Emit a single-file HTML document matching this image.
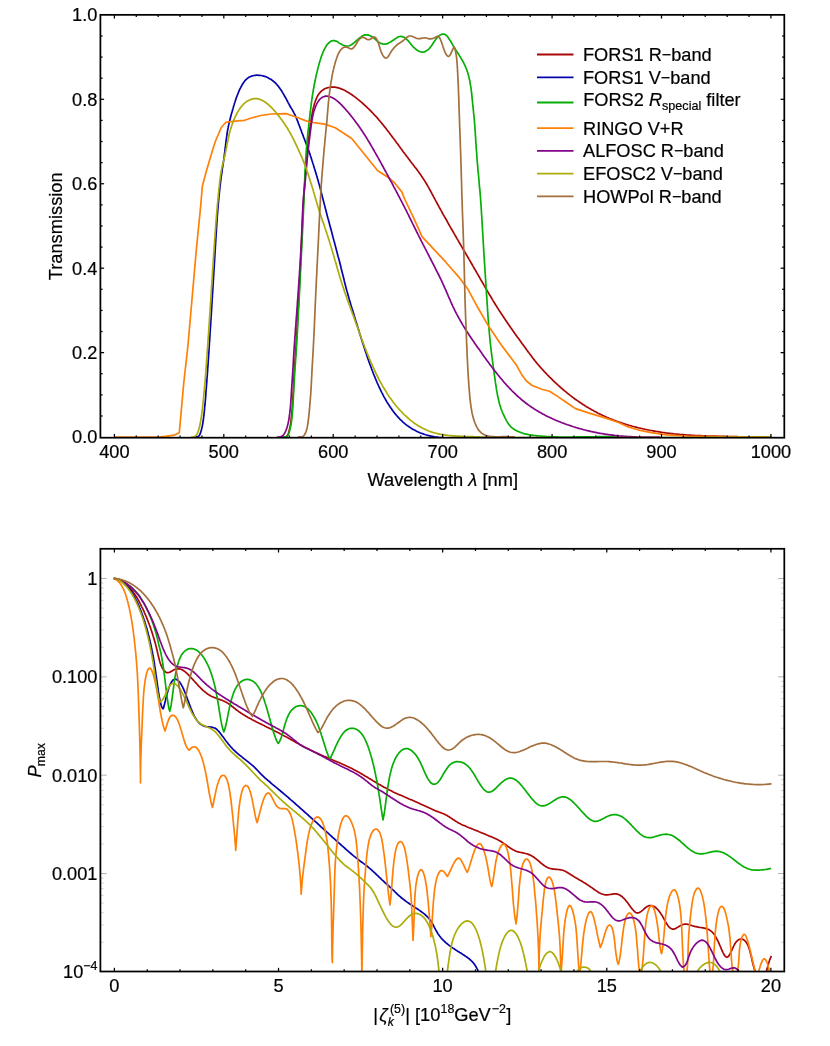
<!DOCTYPE html>
<html><head><meta charset="utf-8"><title>Filter transmission and maximum polarization</title>
<style>html,body{margin:0;padding:0;background:#fff}svg{display:block}text{font-family:"Liberation Sans",sans-serif;fill:#000;stroke:#000;stroke-width:0.2px}svg{will-change:transform}.tk{font-size:18.2px}.lb{font-size:18.3px}.lg{font-size:18.2px}.c{fill:none;stroke-width:1.7;stroke-linejoin:round;stroke-linecap:butt}</style></head><body>
<svg width="830" height="1046" viewBox="0 0 830 1046">
<rect width="830" height="1046" fill="#fff"/>
<defs><clipPath id="ct"><rect x="100.4" y="14.8" width="683.9" height="422.8"/></clipPath>
<clipPath id="cb"><rect x="100.4" y="548.8" width="683.9" height="422.7"/></clipPath></defs>
<g clip-path="url(#ct)">
<path class="c" stroke="#AA0606" d="M282.5 437.1L283.7 436.9 284.9 436.9 286.1 436.6 287.0 435.9 287.7 434.9 288.2 433.8 288.6 432.7 288.9 431.5 289.3 430.4 289.5 429.2 289.8 428.0 290.0 426.9 290.3 425.7 290.5 424.5 290.7 423.3 290.8 422.1 291.0 420.9 291.1 419.7 291.3 418.5 291.4 417.4 291.5 416.2 291.7 415.0 291.8 413.8 291.9 412.6 292.0 411.4 292.1 410.2 292.2 409.0 292.3 407.8 292.4 406.6 292.4 405.4 292.5 404.2 292.6 403.0 292.7 401.8 292.7 400.6 292.8 399.4 292.9 398.2 292.9 397.0 293.0 395.8 293.1 394.6 293.1 393.4 293.2 392.2 293.3 391.0 293.3 389.8 293.4 388.6 293.4 387.4 293.5 386.2 293.6 385.0 293.6 383.8 293.7 382.6 293.7 381.4 293.8 380.2 293.9 379.0 293.9 377.8 294.0 376.6 294.1 375.4 294.1 374.2 294.2 373.0 294.3 371.8 294.3 370.6 294.4 369.4 294.5 368.2 294.6 367.0 294.7 365.8 294.7 364.6 294.8 363.4 294.9 362.2 295.0 361.0 295.1 359.8 295.2 358.6 295.3 357.4 295.4 356.2 295.4 355.0 295.5 353.8 295.6 352.6 295.7 351.4 295.8 350.2 295.9 349.0 295.9 347.8 296.0 346.6 296.1 345.4 296.2 344.2 296.2 343.0 296.3 341.8 296.4 340.6 296.5 339.4 296.5 338.2 296.6 337.0 296.7 335.8 296.8 334.6 296.8 333.4 296.9 332.2 297.0 331.0 297.0 329.8 297.1 328.6 297.2 327.4 297.2 326.2 297.3 325.0 297.4 323.8 297.4 322.6 297.5 321.4 297.6 320.2 297.6 319.0 297.7 317.8 297.8 316.6 297.8 315.4 297.9 314.2 298.0 313.0 298.0 311.8 298.1 310.6 298.2 309.4 298.2 308.2 298.3 307.0 298.4 305.8 298.4 304.6 298.5 303.4 298.6 302.2 298.6 301.0 298.7 299.8 298.7 298.6 298.8 297.4 298.9 296.2 298.9 295.0 299.0 293.8 299.1 292.6 299.1 291.4 299.2 290.2 299.2 289.0 299.3 287.8 299.4 286.6 299.4 285.4 299.5 284.2 299.6 283.0 299.6 281.8 299.7 280.6 299.7 279.4 299.8 278.2 299.9 277.0 299.9 275.8 300.0 274.6 300.0 273.4 300.1 272.2 300.2 271.0 300.2 269.8 300.3 268.6 300.3 267.4 300.4 266.2 300.5 265.0 300.5 263.8 300.6 262.6 300.6 261.4 300.7 260.2 300.8 259.0 300.8 257.8 300.9 256.6 300.9 255.4 301.0 254.2 301.0 253.0 301.1 251.8 301.2 250.6 301.2 249.4 301.3 248.2 301.3 247.0 301.4 245.8 301.4 244.6 301.5 243.4 301.6 242.2 301.6 241.0 301.7 239.8 301.7 238.6 301.8 237.4 301.8 236.2 301.9 235.0 301.9 233.8 302.0 232.6 302.1 231.4 302.1 230.2 302.2 229.0 302.2 227.8 302.3 226.6 302.3 225.4 302.4 224.2 302.4 223.0 302.5 221.8 302.6 220.6 302.6 219.4 302.7 218.2 302.7 217.0 302.8 215.8 302.8 214.6 302.9 213.4 303.0 212.2 303.0 211.0 303.1 209.8 303.2 208.6 303.2 207.4 303.3 206.2 303.3 205.0 303.4 203.8 303.5 202.6 303.6 201.4 303.6 200.2 303.7 199.0 303.8 197.8 303.8 196.6 303.9 195.4 304.0 194.2 304.1 193.0 304.1 191.8 304.2 190.6 304.3 189.4 304.4 188.2 304.5 187.0 304.5 185.8 304.6 184.6 304.7 183.4 304.8 182.2 304.9 181.0 305.0 179.8 305.1 178.6 305.1 177.4 305.2 176.2 305.3 175.0 305.4 173.8 305.5 172.6 305.6 171.4 305.7 170.3 305.8 169.1 305.9 167.9 306.0 166.7 306.1 165.5 306.2 164.3 306.3 163.1 306.4 161.9 306.5 160.7 306.6 159.5 306.7 158.3 306.8 157.1 306.9 155.9 307.0 154.7 307.1 153.5 307.2 152.3 307.3 151.1 307.5 149.9 307.6 148.7 307.7 147.5 307.8 146.3 307.9 145.1 308.1 143.9 308.2 142.7 308.3 141.5 308.4 140.3 308.6 139.1 308.7 137.9 308.8 136.8 309.0 135.6 309.1 134.4 309.3 133.2 309.4 132.0 309.6 130.8 309.7 129.6 309.9 128.4 310.1 127.2 310.2 126.0 310.4 124.8 310.6 123.7 310.8 122.5 310.9 121.3 311.1 120.1 311.3 118.9 311.5 117.7 311.7 116.5 311.9 115.3 312.1 114.2 312.3 113.0 312.6 111.8 312.8 110.6 313.0 109.4 313.3 108.3 313.6 107.1 313.9 105.9 314.2 104.8 314.5 103.6 314.9 102.5 315.3 101.3 315.7 100.2 316.1 99.1 316.6 98.0 317.1 96.9 317.7 95.8 318.3 94.8 319.0 93.8 319.7 92.9 320.5 92.0 321.4 91.2 322.3 90.4 323.3 89.7 324.3 89.1 325.4 88.6 326.5 88.1 327.7 87.8 328.8 87.5 330.0 87.3 331.2 87.1 332.4 87.1 333.6 87.1 334.8 87.2 336.0 87.4 337.2 87.6 338.4 87.9 339.5 88.2 340.6 88.6 341.8 89.1 342.9 89.5 344.0 90.1 345.0 90.6 346.1 91.2 347.1 91.8 348.2 92.4 349.2 93.0 350.2 93.7 351.2 94.3 352.2 95.0 353.2 95.7 354.1 96.4 355.1 97.1 356.1 97.8 357.0 98.6 357.9 99.3 358.9 100.1 359.8 100.8 360.7 101.6 361.6 102.4 362.5 103.2 363.4 104.0 364.3 104.8 365.2 105.6 366.1 106.4 367.0 107.3 367.8 108.1 368.7 108.9 369.6 109.8 370.4 110.6 371.2 111.5 372.1 112.3 372.9 113.2 373.7 114.1 374.5 115.0 375.4 115.9 376.2 116.7 377.0 117.6 377.8 118.5 378.5 119.5 379.3 120.4 380.1 121.3 380.9 122.2 381.6 123.1 382.4 124.1 383.2 125.0 383.9 125.9 384.7 126.9 385.4 127.8 386.2 128.8 386.9 129.7 387.6 130.7 388.4 131.6 389.1 132.6 389.8 133.5 390.5 134.5 391.3 135.4 392.0 136.4 392.7 137.4 393.4 138.3 394.1 139.3 394.9 140.3 395.6 141.2 396.3 142.2 397.0 143.2 397.7 144.1 398.4 145.1 399.1 146.1 399.8 147.0 400.5 148.0 401.3 149.0 402.0 149.9 402.7 150.9 403.4 151.9 404.1 152.8 404.8 153.8 405.6 154.8 406.3 155.7 407.0 156.7 407.7 157.6 408.4 158.6 409.2 159.5 409.9 160.5 410.6 161.5 411.4 162.4 412.1 163.4 412.8 164.3 413.6 165.3 414.3 166.2 415.0 167.2 415.8 168.1 416.5 169.1 417.2 170.0 417.9 171.0 418.7 172.0 419.4 172.9 420.1 173.9 420.8 174.9 421.4 175.9 422.1 176.9 422.8 177.9 423.4 178.9 424.1 179.9 424.7 180.9 425.4 181.9 426.0 183.0 426.6 184.0 427.2 185.0 427.8 186.1 428.4 187.1 429.0 188.2 429.5 189.2 430.1 190.3 430.7 191.3 431.3 192.4 431.8 193.4 432.4 194.5 433.0 195.6 433.5 196.6 434.1 197.7 434.7 198.7 435.2 199.8 435.8 200.9 436.4 201.9 436.9 203.0 437.5 204.0 438.1 205.1 438.7 206.2 439.2 207.2 439.8 208.3 440.4 209.3 441.0 210.4 441.6 211.4 442.1 212.5 442.7 213.5 443.3 214.6 443.9 215.6 444.5 216.7 445.1 217.7 445.7 218.8 446.3 219.8 446.9 220.8 447.4 221.9 448.0 222.9 448.6 224.0 449.2 225.0 449.8 226.1 450.4 227.1 451.0 228.2 451.6 229.2 452.2 230.2 452.8 231.3 453.4 232.3 454.0 233.4 454.6 234.4 455.2 235.4 455.8 236.5 456.4 237.5 457.0 238.6 457.6 239.6 458.2 240.6 458.8 241.7 459.4 242.7 460.0 243.8 460.6 244.8 461.2 245.8 461.8 246.9 462.4 247.9 463.0 249.0 463.6 250.0 464.2 251.0 464.9 252.1 465.5 253.1 466.1 254.2 466.7 255.2 467.3 256.2 467.9 257.3 468.5 258.3 469.1 259.4 469.7 260.4 470.3 261.4 470.9 262.5 471.5 263.5 472.1 264.5 472.7 265.6 473.3 266.6 473.9 267.7 474.5 268.7 475.1 269.7 475.7 270.8 476.3 271.8 476.9 272.9 477.5 273.9 478.1 274.9 478.7 276.0 479.3 277.0 479.9 278.1 480.5 279.1 481.1 280.2 481.7 281.2 482.3 282.2 482.9 283.3 483.5 284.3 484.1 285.4 484.7 286.4 485.3 287.4 485.9 288.5 486.5 289.5 487.1 290.6 487.7 291.6 488.3 292.6 488.9 293.7 489.5 294.7 490.2 295.7 490.8 296.8 491.4 297.8 492.0 298.8 492.6 299.9 493.2 300.9 493.9 301.9 494.5 303.0 495.1 304.0 495.7 305.0 496.4 306.0 497.0 307.0 497.7 308.1 498.3 309.1 498.9 310.1 499.6 311.1 500.2 312.1 500.9 313.1 501.5 314.1 502.2 315.1 502.9 316.1 503.5 317.1 504.2 318.1 504.9 319.1 505.5 320.1 506.2 321.1 506.9 322.1 507.5 323.1 508.2 324.1 508.9 325.1 509.6 326.1 510.3 327.1 511.0 328.1 511.7 329.0 512.4 330.0 513.1 331.0 513.8 332.0 514.5 333.0 515.2 333.9 515.9 334.9 516.6 335.9 517.3 336.9 518.0 337.8 518.7 338.8 519.4 339.8 520.1 340.7 520.8 341.7 521.5 342.7 522.2 343.7 522.9 344.6 523.6 345.6 524.3 346.6 525.1 347.5 525.8 348.5 526.5 349.5 527.2 350.4 527.9 351.4 528.6 352.4 529.3 353.3 530.0 354.3 530.8 355.3 531.5 356.2 532.2 357.2 532.9 358.2 533.6 359.1 534.4 360.1 535.1 361.0 535.9 361.9 536.6 362.9 537.4 363.8 538.2 364.7 539.0 365.6 539.8 366.5 540.5 367.4 541.4 368.3 542.2 369.2 543.0 370.1 543.8 371.0 544.6 371.9 545.4 372.7 546.3 373.6 547.1 374.5 547.9 375.3 548.8 376.2 549.6 377.1 550.5 377.9 551.3 378.7 552.2 379.6 553.0 380.4 553.9 381.3 554.8 382.1 555.6 382.9 556.5 383.7 557.4 384.5 558.3 385.4 559.2 386.2 560.1 387.0 561.0 387.8 561.9 388.5 562.8 389.3 563.7 390.1 564.6 390.9 565.6 391.7 566.5 392.4 567.4 393.2 568.4 393.9 569.3 394.7 570.2 395.4 571.2 396.1 572.1 396.9 573.1 397.6 574.1 398.3 575.0 399.0 576.0 399.7 577.0 400.4 578.0 401.1 579.0 401.8 580.0 402.5 581.0 403.1 582.0 403.8 583.0 404.5 584.0 405.1 585.0 405.7 586.0 406.4 587.0 407.0 588.1 407.6 589.1 408.2 590.2 408.8 591.2 409.4 592.2 410.0 593.3 410.6 594.3 411.2 595.4 411.7 596.5 412.3 597.5 412.9 598.6 413.4 599.7 413.9 600.8 414.5 601.9 415.0 602.9 415.5 604.0 416.0 605.1 416.5 606.2 417.0 607.3 417.5 608.4 417.9 609.5 418.4 610.6 418.9 611.8 419.3 612.9 419.8 614.0 420.2 615.1 420.6 616.2 421.0 617.4 421.4 618.5 421.9 619.6 422.2 620.8 422.6 621.9 423.0 623.1 423.4 624.2 423.8 625.3 424.1 626.5 424.5 627.6 424.8 628.8 425.2 629.9 425.5 631.1 425.8 632.3 426.2 633.4 426.5 634.6 426.8 635.7 427.1 636.9 427.4 638.1 427.7 639.2 428.0 640.4 428.2 641.6 428.5 642.8 428.8 643.9 429.0 645.1 429.3 646.3 429.5 647.5 429.8 648.6 430.0 649.8 430.3 651.0 430.5 652.2 430.7 653.4 430.9 654.5 431.1 655.7 431.3 656.9 431.5 658.1 431.7 659.3 431.9 660.5 432.1 661.7 432.3 662.8 432.5 664.0 432.6 665.2 432.8 666.4 433.0 667.6 433.1 668.8 433.3 670.0 433.4 671.2 433.6 672.4 433.7 673.6 433.8 674.8 434.0 676.0 434.1 677.2 434.2 678.4 434.3 679.5 434.4 680.7 434.5 681.9 434.6 683.1 434.7 684.3 434.8 685.5 434.9 686.7 435.0 687.9 435.1 689.1 435.1 690.3 435.2 691.5 435.3 692.7 435.4 693.9 435.4 695.1 435.5 696.3 435.5 697.5 435.6 698.7 435.6 699.9 435.7 701.1 435.7 702.3 435.8 703.5 435.8 704.7 435.9 705.9 435.9 707.1 436.0 708.3 436.0 709.5 436.0 710.7 436.1 711.9 436.1 713.1 436.1 714.3 436.2 715.5 436.2 716.7 436.2 717.9 436.3 719.1 436.3 720.3 436.3 721.6 436.4 722.8 436.4 724.0 436.4 725.2 436.4 726.4 436.5 727.6 436.5 728.8 436.5 730.0 436.6 731.2 436.6 732.4 436.6 733.6 436.6 734.8 436.7 736.0 436.7 737.2 436.7 738.4 436.8 739.6 436.8 740.8 436.8 742.0 436.9 743.2 436.9 744.4 436.9 745.6 436.9 746.8 437.0 748.0 437.0 749.2 437.0 750.4 437.1 751.6 437.1 752.8 437.1 754.0 437.1 755.2 437.2 756.4 437.2 757.6 437.2 758.8 437.2 760.0 437.3 761.2 437.3 762.4 437.3 763.6 437.3 764.8 437.3 766.0 437.3 767.2 437.3 768.4 437.3 769.6 437.3 770.8 437.2 772.0 437.1"/>
<path class="c" stroke="#0404AC" d="M194.0 437.1L195.2 437.0 196.4 436.9 197.6 436.8 198.6 436.2 199.4 435.3 200.0 434.3 200.4 433.1 200.8 432.0 201.1 430.8 201.5 429.7 201.7 428.5 202.0 427.3 202.3 426.2 202.5 425.0 202.7 423.8 202.9 422.6 203.1 421.4 203.3 420.2 203.4 419.0 203.6 417.9 203.7 416.7 203.9 415.5 204.0 414.3 204.1 413.1 204.3 411.9 204.4 410.7 204.5 409.5 204.6 408.3 204.7 407.1 204.8 405.9 205.0 404.7 205.1 403.5 205.2 402.3 205.3 401.1 205.4 399.9 205.5 398.7 205.6 397.5 205.7 396.3 205.8 395.1 205.8 393.9 205.9 392.7 206.0 391.5 206.1 390.3 206.2 389.1 206.3 387.9 206.4 386.7 206.5 385.5 206.6 384.3 206.7 383.1 206.8 381.9 206.9 380.7 206.9 379.5 207.0 378.3 207.1 377.1 207.2 375.9 207.3 374.7 207.4 373.5 207.5 372.3 207.6 371.1 207.6 369.9 207.7 368.7 207.8 367.5 207.9 366.3 208.0 365.1 208.1 363.9 208.1 362.7 208.2 361.5 208.3 360.3 208.4 359.1 208.5 357.9 208.6 356.7 208.6 355.5 208.7 354.3 208.8 353.1 208.9 351.9 209.0 350.7 209.0 349.5 209.1 348.3 209.2 347.1 209.3 345.9 209.3 344.7 209.4 343.5 209.5 342.3 209.6 341.1 209.7 339.9 209.7 338.7 209.8 337.5 209.9 336.3 210.0 335.1 210.0 333.9 210.1 332.7 210.2 331.5 210.3 330.3 210.3 329.1 210.4 327.9 210.5 326.7 210.6 325.5 210.7 324.3 210.7 323.1 210.8 321.9 210.9 320.7 211.0 319.5 211.0 318.3 211.1 317.1 211.2 315.9 211.3 314.7 211.3 313.5 211.4 312.3 211.5 311.1 211.6 309.9 211.6 308.7 211.7 307.5 211.8 306.3 211.8 305.1 211.9 303.9 212.0 302.7 212.1 301.5 212.1 300.3 212.2 299.1 212.3 297.9 212.4 296.7 212.4 295.5 212.5 294.3 212.6 293.1 212.7 291.9 212.7 290.7 212.8 289.5 212.9 288.3 213.0 287.1 213.0 285.9 213.1 284.7 213.2 283.5 213.2 282.3 213.3 281.1 213.4 279.9 213.5 278.7 213.5 277.5 213.6 276.3 213.7 275.1 213.8 273.9 213.8 272.7 213.9 271.5 214.0 270.3 214.1 269.1 214.1 267.9 214.2 266.7 214.3 265.5 214.3 264.3 214.4 263.1 214.5 261.9 214.6 260.7 214.6 259.5 214.7 258.3 214.8 257.1 214.8 255.9 214.9 254.7 215.0 253.5 215.1 252.3 215.1 251.1 215.2 249.9 215.3 248.7 215.3 247.5 215.4 246.3 215.5 245.1 215.6 243.9 215.6 242.7 215.7 241.5 215.8 240.3 215.8 239.1 215.9 237.9 216.0 236.7 216.1 235.5 216.1 234.3 216.2 233.1 216.3 231.9 216.4 230.7 216.4 229.5 216.5 228.3 216.6 227.1 216.7 225.9 216.7 224.7 216.8 223.5 216.9 222.3 217.0 221.1 217.1 219.9 217.1 218.7 217.2 217.5 217.3 216.3 217.4 215.1 217.5 213.9 217.6 212.7 217.7 211.5 217.8 210.3 217.9 209.1 218.0 207.9 218.1 206.7 218.2 205.5 218.3 204.3 218.4 203.2 218.5 202.0 218.6 200.8 218.7 199.6 218.8 198.4 218.9 197.2 219.0 196.0 219.2 194.8 219.3 193.6 219.4 192.4 219.5 191.2 219.7 190.0 219.8 188.8 219.9 187.6 220.1 186.4 220.2 185.2 220.3 184.0 220.5 182.8 220.6 181.6 220.8 180.4 220.9 179.2 221.1 178.0 221.2 176.9 221.4 175.7 221.6 174.5 221.7 173.3 221.9 172.1 222.1 170.9 222.2 169.7 222.4 168.5 222.6 167.3 222.8 166.1 223.0 165.0 223.2 163.8 223.3 162.6 223.5 161.4 223.7 160.2 223.9 159.0 224.0 157.8 224.2 156.6 224.3 155.4 224.5 154.2 224.6 153.0 224.8 151.9 224.9 150.7 225.0 149.5 225.2 148.3 225.3 147.1 225.5 145.9 225.6 144.7 225.8 143.5 225.9 142.3 226.1 141.1 226.2 139.9 226.4 138.7 226.6 137.5 226.7 136.3 226.9 135.2 227.1 134.0 227.2 132.8 227.4 131.6 227.6 130.4 227.8 129.2 228.1 128.0 228.3 126.9 228.5 125.7 228.8 124.5 229.0 123.3 229.3 122.2 229.6 121.0 229.9 119.8 230.2 118.7 230.5 117.5 230.8 116.3 231.1 115.2 231.4 114.0 231.7 112.9 232.1 111.7 232.4 110.5 232.7 109.4 233.1 108.2 233.4 107.1 233.7 105.9 234.1 104.8 234.4 103.6 234.8 102.5 235.2 101.3 235.5 100.2 235.9 99.0 236.3 97.9 236.7 96.8 237.1 95.7 237.6 94.5 238.0 93.4 238.5 92.3 238.9 91.2 239.4 90.1 239.9 89.0 240.5 87.9 241.0 86.9 241.6 85.8 242.2 84.7 242.8 83.7 243.5 82.7 244.2 81.7 244.9 80.8 245.7 79.9 246.6 79.1 247.5 78.3 248.5 77.6 249.5 77.0 250.6 76.5 251.7 76.1 252.9 75.8 254.1 75.5 255.3 75.3 256.5 75.2 257.7 75.2 258.9 75.3 260.1 75.4 261.3 75.5 262.4 75.8 263.6 76.1 264.7 76.4 265.9 76.8 267.0 77.3 268.1 77.8 269.1 78.4 270.2 79.0 271.2 79.6 272.2 80.3 273.1 81.0 274.1 81.8 275.0 82.6 275.8 83.4 276.6 84.3 277.4 85.2 278.2 86.1 278.9 87.1 279.7 88.1 280.3 89.0 281.0 90.0 281.7 91.0 282.3 92.1 282.9 93.1 283.5 94.1 284.1 95.2 284.7 96.2 285.3 97.3 285.9 98.3 286.5 99.4 287.0 100.5 287.6 101.5 288.1 102.6 288.7 103.6 289.3 104.7 289.8 105.8 290.4 106.8 291.0 107.8 291.7 108.9 292.3 109.9 292.9 110.9 293.5 112.0 294.0 113.1 294.6 114.1 295.1 115.2 295.6 116.3 296.1 117.4 296.5 118.5 297.0 119.6 297.4 120.7 297.9 121.9 298.3 123.0 298.7 124.1 299.2 125.2 299.6 126.4 300.0 127.5 300.4 128.6 300.9 129.7 301.3 130.9 301.7 132.0 302.1 133.1 302.6 134.2 303.0 135.4 303.4 136.5 303.8 137.6 304.3 138.7 304.7 139.9 305.1 141.0 305.6 142.1 306.0 143.2 306.4 144.3 306.8 145.5 307.3 146.6 307.7 147.7 308.1 148.9 308.5 150.0 308.9 151.1 309.3 152.3 309.7 153.4 310.1 154.5 310.4 155.7 310.8 156.8 311.2 158.0 311.5 159.1 311.9 160.3 312.3 161.4 312.6 162.5 313.0 163.7 313.4 164.8 313.7 166.0 314.1 167.1 314.4 168.3 314.8 169.4 315.1 170.6 315.5 171.7 315.8 172.9 316.2 174.0 316.5 175.2 316.9 176.3 317.2 177.5 317.5 178.7 317.9 179.8 318.2 181.0 318.5 182.1 318.8 183.3 319.2 184.4 319.5 185.6 319.8 186.8 320.1 187.9 320.4 189.1 320.7 190.3 321.0 191.4 321.3 192.6 321.6 193.7 321.9 194.9 322.2 196.1 322.5 197.2 322.8 198.4 323.1 199.6 323.4 200.7 323.7 201.9 324.0 203.1 324.3 204.2 324.6 205.4 324.9 206.6 325.2 207.7 325.5 208.9 325.8 210.0 326.1 211.2 326.4 212.4 326.7 213.5 327.0 214.7 327.3 215.9 327.6 217.0 327.9 218.2 328.3 219.3 328.6 220.5 328.9 221.7 329.2 222.8 329.5 224.0 329.8 225.2 330.1 226.3 330.4 227.5 330.7 228.6 331.1 229.8 331.4 231.0 331.7 232.1 332.0 233.3 332.3 234.4 332.6 235.6 332.9 236.8 333.2 237.9 333.5 239.1 333.8 240.3 334.2 241.4 334.5 242.6 334.8 243.7 335.1 244.9 335.4 246.1 335.7 247.2 336.0 248.4 336.3 249.6 336.6 250.7 336.9 251.9 337.2 253.0 337.5 254.2 337.8 255.4 338.1 256.5 338.5 257.7 338.8 258.9 339.1 260.0 339.4 261.2 339.7 262.3 340.0 263.5 340.3 264.7 340.6 265.8 340.9 267.0 341.1 268.2 341.4 269.3 341.7 270.5 342.0 271.7 342.3 272.8 342.6 274.0 342.9 275.2 343.2 276.3 343.5 277.5 343.8 278.7 344.1 279.8 344.3 281.0 344.6 282.2 344.9 283.3 345.2 284.5 345.5 285.7 345.8 286.8 346.1 288.0 346.4 289.2 346.7 290.3 347.1 291.5 347.4 292.6 347.7 293.8 348.0 295.0 348.3 296.1 348.7 297.3 349.0 298.4 349.3 299.6 349.7 300.7 350.0 301.9 350.4 303.0 350.7 304.2 351.1 305.3 351.4 306.5 351.8 307.6 352.1 308.8 352.5 309.9 352.8 311.1 353.2 312.2 353.5 313.4 353.9 314.5 354.2 315.7 354.6 316.8 354.9 318.0 355.3 319.1 355.6 320.3 356.0 321.4 356.3 322.6 356.7 323.7 357.0 324.9 357.4 326.0 357.8 327.2 358.1 328.3 358.5 329.5 358.8 330.6 359.2 331.8 359.5 332.9 359.9 334.1 360.3 335.2 360.6 336.4 361.0 337.5 361.3 338.7 361.7 339.8 362.1 341.0 362.4 342.1 362.8 343.2 363.2 344.4 363.5 345.5 363.9 346.7 364.3 347.8 364.7 349.0 365.0 350.1 365.4 351.2 365.8 352.4 366.2 353.5 366.6 354.7 366.9 355.8 367.3 356.9 367.7 358.1 368.1 359.2 368.5 360.4 368.9 361.5 369.3 362.6 369.7 363.7 370.1 364.9 370.6 366.0 371.0 367.1 371.4 368.3 371.8 369.4 372.2 370.5 372.7 371.6 373.1 372.8 373.5 373.9 374.0 375.0 374.4 376.1 374.9 377.2 375.3 378.3 375.8 379.4 376.3 380.6 376.8 381.7 377.2 382.8 377.7 383.9 378.2 385.0 378.7 386.1 379.2 387.1 379.7 388.2 380.2 389.3 380.7 390.4 381.3 391.5 381.8 392.6 382.4 393.6 382.9 394.7 383.5 395.8 384.0 396.8 384.6 397.9 385.2 398.9 385.8 400.0 386.4 401.0 387.0 402.1 387.6 403.1 388.3 404.1 388.9 405.1 389.6 406.1 390.2 407.1 390.9 408.1 391.6 409.1 392.3 410.1 393.0 411.1 393.7 412.0 394.5 413.0 395.2 413.9 396.0 414.8 396.8 415.7 397.6 416.6 398.4 417.5 399.2 418.4 400.0 419.3 400.9 420.1 401.8 420.9 402.6 421.8 403.5 422.6 404.5 423.3 405.4 424.1 406.3 424.8 407.3 425.6 408.3 426.3 409.3 427.0 410.3 427.6 411.3 428.3 412.3 428.9 413.3 429.5 414.4 430.1 415.5 430.6 416.5 431.2 417.6 431.7 418.7 432.2 419.8 432.7 420.9 433.1 422.1 433.5 423.2 433.9 424.3 434.3 425.5 434.7 426.6 435.0 427.8 435.4 428.9 435.7 430.1 435.9 431.3 436.2 432.5 436.4 433.6 436.7 434.8 436.9 436.0 437.0 437.2 437.2 438.4 437.4 439.6 437.5 440.8 437.6 442.0 437.7 443.2 437.7 444.4 437.8 445.6 437.8 446.8 437.9 448.0 437.9 449.2 437.8 450.4 437.8 451.6 437.8 452.8 437.7 454.0 437.7 455.2 437.6 456.4 437.5 457.6 437.4 458.8 437.2 460.0 437.1"/>
<path class="c" stroke="#06AE06" d="M283.0 437.1L284.2 436.9 285.4 436.8 286.6 436.6 287.6 435.9 288.2 434.9 288.7 433.8 289.1 432.7 289.4 431.5 289.7 430.4 290.0 429.2 290.3 428.0 290.5 426.9 290.8 425.7 291.0 424.5 291.2 423.3 291.4 422.1 291.6 420.9 291.7 419.7 291.8 418.5 292.0 417.4 292.1 416.2 292.2 415.0 292.3 413.8 292.4 412.6 292.5 411.4 292.6 410.2 292.7 409.0 292.7 407.8 292.8 406.6 292.9 405.4 293.0 404.2 293.0 403.0 293.1 401.8 293.2 400.6 293.3 399.4 293.3 398.2 293.4 396.9 293.5 395.7 293.5 394.5 293.6 393.3 293.7 392.1 293.7 390.9 293.8 389.7 293.9 388.5 293.9 387.3 294.0 386.1 294.1 384.9 294.1 383.7 294.2 382.5 294.3 381.3 294.3 380.1 294.4 378.9 294.5 377.7 294.5 376.5 294.6 375.3 294.7 374.1 294.7 372.9 294.8 371.7 294.9 370.5 295.0 369.3 295.0 368.1 295.1 366.9 295.2 365.7 295.3 364.5 295.4 363.3 295.5 362.1 295.5 360.9 295.6 359.7 295.7 358.5 295.8 357.3 295.9 356.1 296.0 354.9 296.0 353.7 296.1 352.5 296.2 351.3 296.3 350.1 296.4 348.9 296.4 347.7 296.5 346.5 296.6 345.3 296.7 344.1 296.7 342.9 296.8 341.7 296.9 340.5 296.9 339.3 297.0 338.1 297.1 336.9 297.1 335.7 297.2 334.5 297.3 333.3 297.4 332.1 297.4 330.9 297.5 329.7 297.6 328.5 297.6 327.3 297.7 326.1 297.8 324.9 297.8 323.7 297.9 322.5 297.9 321.3 298.0 320.1 298.1 318.9 298.1 317.7 298.2 316.5 298.3 315.3 298.3 314.1 298.4 312.9 298.5 311.7 298.5 310.5 298.6 309.3 298.7 308.1 298.7 306.9 298.8 305.7 298.8 304.5 298.9 303.3 299.0 302.1 299.0 300.9 299.1 299.7 299.2 298.5 299.2 297.3 299.3 296.1 299.3 294.9 299.4 293.7 299.5 292.5 299.5 291.3 299.6 290.1 299.7 288.9 299.7 287.7 299.8 286.5 299.8 285.3 299.9 284.0 300.0 282.8 300.0 281.6 300.1 280.4 300.1 279.2 300.2 278.0 300.3 276.8 300.3 275.6 300.4 274.4 300.4 273.2 300.5 272.0 300.6 270.8 300.6 269.6 300.7 268.4 300.7 267.2 300.8 266.0 300.9 264.8 300.9 263.6 301.0 262.4 301.0 261.2 301.1 260.0 301.2 258.8 301.2 257.6 301.3 256.4 301.3 255.2 301.4 254.0 301.5 252.8 301.5 251.6 301.6 250.4 301.6 249.2 301.7 248.0 301.8 246.8 301.8 245.6 301.9 244.4 301.9 243.2 302.0 242.0 302.1 240.8 302.1 239.6 302.2 238.4 302.2 237.2 302.3 236.0 302.3 234.8 302.4 233.6 302.5 232.4 302.5 231.2 302.6 230.0 302.6 228.8 302.7 227.6 302.7 226.4 302.8 225.2 302.9 224.0 302.9 222.8 303.0 221.6 303.0 220.4 303.1 219.2 303.1 218.0 303.2 216.8 303.2 215.6 303.3 214.4 303.4 213.2 303.4 212.0 303.5 210.7 303.5 209.5 303.6 208.3 303.6 207.1 303.7 205.9 303.7 204.7 303.8 203.5 303.8 202.3 303.9 201.1 303.9 199.9 303.9 198.7 304.0 197.5 304.0 196.3 304.1 195.1 304.1 193.9 304.2 192.7 304.2 191.5 304.3 190.3 304.3 189.1 304.4 187.9 304.4 186.7 304.5 185.5 304.5 184.3 304.6 183.1 304.6 181.9 304.7 180.7 304.7 179.5 304.8 178.3 304.8 177.1 304.9 175.9 304.9 174.7 305.0 173.5 305.0 172.3 305.1 171.1 305.1 169.9 305.2 168.7 305.3 167.5 305.3 166.3 305.4 165.1 305.5 163.9 305.5 162.7 305.6 161.5 305.7 160.3 305.7 159.1 305.8 157.9 305.9 156.7 306.0 155.5 306.1 154.3 306.2 153.1 306.2 151.9 306.3 150.7 306.4 149.5 306.5 148.3 306.6 147.1 306.7 145.9 306.8 144.7 306.9 143.5 307.0 142.3 307.1 141.1 307.2 139.9 307.4 138.7 307.5 137.5 307.6 136.3 307.7 135.1 307.8 133.9 307.9 132.7 308.1 131.5 308.2 130.3 308.3 129.1 308.5 127.9 308.6 126.7 308.7 125.5 308.9 124.3 309.0 123.1 309.1 121.9 309.3 120.7 309.4 119.5 309.6 118.3 309.7 117.2 309.8 116.0 310.0 114.8 310.1 113.6 310.2 112.4 310.4 111.2 310.5 110.0 310.7 108.8 310.8 107.6 311.0 106.4 311.1 105.2 311.3 104.0 311.4 102.8 311.6 101.6 311.7 100.4 311.9 99.2 312.1 98.1 312.2 96.9 312.4 95.7 312.6 94.5 312.8 93.3 313.0 92.1 313.2 90.9 313.4 89.7 313.6 88.5 313.8 87.4 314.0 86.2 314.2 85.0 314.5 83.8 314.7 82.6 314.9 81.5 315.2 80.3 315.4 79.1 315.7 77.9 315.9 76.7 316.2 75.6 316.4 74.4 316.7 73.2 317.0 72.1 317.3 70.9 317.6 69.7 317.8 68.5 318.1 67.4 318.5 66.2 318.8 65.1 319.1 63.9 319.4 62.7 319.8 61.6 320.1 60.4 320.5 59.3 320.8 58.1 321.2 57.0 321.6 55.9 322.0 54.7 322.5 53.6 322.9 52.5 323.4 51.4 323.9 50.3 324.4 49.2 325.0 48.1 325.6 47.1 326.2 46.1 326.9 45.1 327.6 44.1 328.4 43.3 329.3 42.4 330.3 41.7 331.3 41.1 332.5 40.7 333.7 40.6 334.8 40.7 336.0 41.1 337.1 41.6 338.1 42.2 339.1 42.9 340.1 43.5 341.2 44.1 342.2 44.7 343.3 45.2 344.4 45.6 345.6 45.9 346.8 46.0 348.0 46.0 349.2 45.7 350.3 45.3 351.4 44.7 352.4 44.0 353.3 43.3 354.3 42.6 355.2 41.8 356.1 41.0 357.0 40.2 357.9 39.4 358.8 38.6 359.7 37.8 360.7 37.1 361.6 36.4 362.7 35.8 363.8 35.3 364.9 34.9 366.1 34.8 367.3 34.9 368.5 35.1 369.6 35.5 370.7 36.0 371.8 36.6 372.8 37.2 373.8 38.0 374.7 38.7 375.6 39.5 376.4 40.4 377.3 41.2 378.3 41.9 379.3 42.6 380.3 43.1 381.5 43.6 382.6 43.9 383.8 44.1 385.0 44.1 386.2 43.9 387.3 43.6 388.5 43.1 389.5 42.6 390.6 42.0 391.6 41.3 392.6 40.6 393.6 40.0 394.6 39.3 395.6 38.6 396.6 37.9 397.6 37.3 398.7 36.8 399.9 36.5 401.1 36.4 402.2 36.6 403.4 37.0 404.4 37.5 405.4 38.2 406.3 39.0 407.2 39.8 408.1 40.7 408.9 41.6 409.6 42.5 410.4 43.4 411.1 44.4 411.9 45.3 412.7 46.2 413.5 47.1 414.4 47.9 415.3 48.7 416.2 49.5 417.2 50.2 418.2 50.8 419.3 51.4 420.4 51.8 421.5 52.1 422.7 52.2 423.9 52.0 425.1 51.6 426.1 51.1 427.1 50.4 428.1 49.7 429.0 48.8 429.8 47.9 430.5 47.0 431.3 46.1 432.0 45.1 432.6 44.1 433.3 43.1 433.9 42.0 434.6 41.0 435.3 40.1 436.0 39.1 436.7 38.1 437.5 37.3 438.4 36.4 439.3 35.6 440.3 34.9 441.4 34.4 442.5 34.1 443.7 34.0 444.9 34.4 445.9 35.0 446.8 35.8 447.6 36.7 448.3 37.7 449.0 38.7 449.6 39.7 450.3 40.7 450.9 41.8 451.5 42.8 452.1 43.9 452.7 44.9 453.3 45.9 453.9 47.0 454.6 48.0 455.2 49.0 455.8 50.0 456.5 51.0 457.1 52.0 457.8 53.0 458.4 54.1 459.1 55.1 459.7 56.1 460.4 57.1 461.0 58.1 461.6 59.2 462.2 60.2 462.8 61.3 463.4 62.3 463.9 63.4 464.5 64.5 465.0 65.6 465.5 66.7 465.9 67.8 466.4 68.9 466.8 70.0 467.2 71.1 467.6 72.3 467.9 73.4 468.2 74.6 468.6 75.8 468.9 76.9 469.1 78.1 469.4 79.3 469.7 80.4 469.9 81.6 470.1 82.8 470.3 84.0 470.5 85.2 470.7 86.4 470.9 87.5 471.1 88.7 471.2 89.9 471.4 91.1 471.5 92.3 471.6 93.5 471.8 94.7 471.9 95.9 472.0 97.1 472.1 98.3 472.3 99.5 472.4 100.7 472.5 101.9 472.6 103.1 472.7 104.3 472.8 105.5 473.0 106.7 473.1 107.9 473.2 109.1 473.4 110.3 473.5 111.5 473.6 112.7 473.7 113.9 473.9 115.1 474.0 116.3 474.1 117.5 474.2 118.7 474.3 119.9 474.4 121.1 474.5 122.2 474.6 123.4 474.7 124.6 474.8 125.8 474.9 127.0 475.0 128.2 475.0 129.4 475.1 130.6 475.2 131.8 475.3 133.0 475.4 134.3 475.4 135.5 475.5 136.7 475.6 137.9 475.7 139.1 475.7 140.3 475.8 141.5 475.9 142.7 476.0 143.9 476.1 145.1 476.1 146.3 476.2 147.5 476.3 148.7 476.4 149.9 476.5 151.1 476.6 152.3 476.7 153.5 476.8 154.7 476.8 155.9 476.9 157.1 477.0 158.3 477.1 159.5 477.2 160.7 477.3 161.9 477.4 163.0 477.5 164.2 477.6 165.4 477.7 166.6 477.8 167.8 477.9 169.0 478.0 170.2 478.1 171.4 478.2 172.6 478.4 173.8 478.5 175.0 478.6 176.2 478.7 177.4 478.8 178.6 478.9 179.8 479.0 181.0 479.1 182.2 479.2 183.4 479.3 184.6 479.4 185.8 479.5 187.0 479.6 188.2 479.8 189.4 479.9 190.6 480.0 191.8 480.1 193.0 480.2 194.2 480.3 195.4 480.4 196.6 480.5 197.8 480.6 199.0 480.7 200.2 480.7 201.4 480.8 202.6 480.9 203.8 481.0 205.0 481.1 206.2 481.2 207.4 481.2 208.6 481.3 209.8 481.4 211.0 481.5 212.2 481.5 213.4 481.6 214.6 481.7 215.8 481.8 217.0 481.8 218.2 481.9 219.4 482.0 220.6 482.1 221.8 482.1 223.0 482.2 224.2 482.3 225.4 482.3 226.6 482.4 227.8 482.5 229.0 482.5 230.2 482.6 231.4 482.7 232.6 482.8 233.8 482.8 235.0 482.9 236.2 483.0 237.4 483.0 238.6 483.1 239.8 483.2 241.0 483.2 242.2 483.3 243.4 483.4 244.6 483.5 245.8 483.5 247.0 483.6 248.2 483.7 249.4 483.7 250.6 483.8 251.8 483.9 253.0 484.0 254.2 484.0 255.4 484.1 256.6 484.2 257.8 484.3 259.0 484.3 260.2 484.4 261.4 484.5 262.6 484.6 263.8 484.7 265.0 484.7 266.2 484.8 267.4 484.9 268.6 485.0 269.8 485.0 271.0 485.1 272.3 485.2 273.5 485.3 274.7 485.4 275.9 485.4 277.1 485.5 278.3 485.6 279.5 485.7 280.7 485.7 281.9 485.8 283.1 485.9 284.3 486.0 285.5 486.1 286.7 486.1 287.9 486.2 289.1 486.3 290.3 486.4 291.5 486.4 292.7 486.5 293.9 486.6 295.1 486.7 296.3 486.8 297.5 486.8 298.7 486.9 299.9 487.0 301.1 487.1 302.3 487.1 303.5 487.2 304.7 487.3 305.9 487.4 307.1 487.5 308.3 487.5 309.5 487.6 310.7 487.7 311.9 487.8 313.1 487.9 314.3 487.9 315.5 488.0 316.7 488.1 317.9 488.2 319.1 488.3 320.3 488.4 321.5 488.5 322.7 488.6 323.9 488.7 325.1 488.8 326.3 488.9 327.5 489.0 328.7 489.1 329.9 489.2 331.1 489.3 332.3 489.4 333.5 489.5 334.7 489.6 335.9 489.7 337.0 489.8 338.2 490.0 339.4 490.1 340.6 490.2 341.8 490.3 343.0 490.5 344.2 490.6 345.4 490.7 346.6 490.8 347.8 491.0 349.0 491.1 350.2 491.3 351.4 491.4 352.6 491.6 353.8 491.7 355.0 491.9 356.2 492.0 357.4 492.2 358.6 492.4 359.8 492.5 360.9 492.7 362.1 492.8 363.3 493.0 364.5 493.2 365.7 493.3 366.9 493.5 368.1 493.6 369.3 493.8 370.5 494.0 371.7 494.1 372.9 494.3 374.1 494.4 375.3 494.6 376.4 494.8 377.6 494.9 378.8 495.1 380.0 495.3 381.2 495.4 382.4 495.6 383.6 495.8 384.8 496.0 386.0 496.2 387.2 496.3 388.4 496.5 389.5 496.7 390.7 496.9 391.9 497.2 393.1 497.4 394.3 497.6 395.5 497.8 396.6 498.1 397.8 498.4 399.0 498.6 400.2 498.9 401.3 499.2 402.5 499.5 403.7 499.8 404.8 500.2 406.0 500.5 407.1 500.9 408.3 501.3 409.4 501.7 410.5 502.2 411.6 502.6 412.8 503.1 413.9 503.6 414.9 504.1 416.0 504.7 417.1 505.2 418.2 505.8 419.3 506.3 420.3 506.9 421.4 507.5 422.4 508.2 423.4 508.9 424.4 509.6 425.4 510.4 426.3 511.2 427.1 512.1 427.9 513.1 428.7 514.1 429.3 515.1 430.0 516.2 430.5 517.2 431.1 518.3 431.5 519.5 432.0 520.6 432.4 521.7 432.8 522.9 433.2 524.0 433.6 525.2 433.9 526.3 434.2 527.5 434.4 528.7 434.7 529.9 434.9 531.1 435.1 532.3 435.2 533.4 435.4 534.6 435.5 535.8 435.6 537.0 435.8 538.2 435.9 539.4 436.0 540.6 436.1 541.8 436.2 543.0 436.3 544.2 436.3 545.4 436.4 546.6 436.5 547.8 436.6 549.0 436.7 550.2 436.7 551.4 436.8 552.6 436.8 553.8 436.9 555.0 436.9 556.2 436.9 557.4 436.9 558.7 437.0 559.9 437.0 561.1 437.0 562.3 437.0 563.5 437.0 564.7 437.0 565.9 437.0 567.1 437.0 568.3 437.0 569.5 437.0 570.7 437.0 571.9 437.0 573.1 437.0 574.3 437.0 575.5 437.0 576.7 436.9 577.9 436.9 579.1 436.9 580.3 436.9 581.5 436.9 582.7 436.9 583.9 436.9 585.1 436.9 586.3 436.8 587.5 436.8 588.7 436.8 589.9 436.8 591.1 436.8 592.3 436.8 593.5 436.8 594.7 436.8 595.9 436.7 597.1 436.7 598.4 436.7 599.6 436.7 600.8 436.7 602.0 436.7 603.2 436.7 604.4 436.7 605.6 436.7 606.8 436.7 608.0 436.7 609.2 436.8 610.4 436.8 611.6 436.8 612.8 436.8 614.0 436.8 615.2 436.9 616.4 436.9 617.6 437.0 618.8 437.0 620.0 437.1"/>
<path class="c" stroke="#FF8006" d="M114.4 437.1L150.0 437.1L160.0 436.8L165.4 436.3L174.1 435.2L179.3 432.7L183.7 383.6L188.0 345.0L196.3 250.0L198.2 231.0L200.5 207.8L202.4 185.7L206.9 169.3L212.6 150.0L215.5 141.0L221.3 127.5L225.8 122.3L234.8 121.1L244.5 120.3L252.2 117.8L260.8 115.5L271.4 114.0L285.9 113.6L294.6 116.5L304.2 120.1L309.3 122.0L324.7 124.1L335.3 127.7L351.7 138.5L365.2 155.3L377.7 170.7L388.3 177.5L394.1 182.3L401.8 191.9L405.1 200.0L413.4 217.3L422.0 236.6L434.6 250.1L445.4 261.7L458.9 277.1L467.6 288.7L478.2 308.3L488.8 326.6L501.3 344.9L515.8 364.2L521.6 374.4L526.4 381.0L532.2 385.5L541.8 389.3L549.5 391.3L557.2 396.1L566.9 402.8L575.5 408.6L590.0 413.4L605.1 417.9L618.6 422.5L628.2 426.9L637.8 429.8L651.3 432.7L666.7 434.8L686.0 436.0L740.0 436.8L772.0 437.1"/>
<path class="c" stroke="#83058A" d="M277.0 437.1L278.2 437.0 279.4 437.0 280.6 436.8 281.7 436.4 282.7 435.7 283.5 434.8 284.2 433.9 284.8 432.8 285.4 431.7 285.9 430.6 286.3 429.5 286.7 428.4 287.1 427.3 287.4 426.1 287.7 424.9 288.0 423.8 288.3 422.6 288.5 421.4 288.7 420.2 289.0 419.1 289.1 417.9 289.3 416.7 289.5 415.5 289.6 414.3 289.8 413.1 289.9 411.9 290.1 410.7 290.2 409.5 290.3 408.3 290.4 407.1 290.5 405.9 290.6 404.7 290.7 403.5 290.8 402.3 290.9 401.1 290.9 399.9 291.0 398.7 291.1 397.5 291.2 396.3 291.3 395.1 291.3 393.9 291.4 392.7 291.5 391.5 291.5 390.3 291.6 389.1 291.7 387.9 291.8 386.7 291.8 385.5 291.9 384.3 292.0 383.1 292.1 381.9 292.2 380.7 292.2 379.5 292.3 378.3 292.4 377.1 292.5 375.9 292.6 374.7 292.6 373.5 292.7 372.3 292.8 371.1 292.9 369.9 292.9 368.7 293.0 367.5 293.1 366.3 293.2 365.1 293.2 363.9 293.3 362.7 293.4 361.5 293.4 360.3 293.5 359.1 293.6 357.9 293.6 356.7 293.7 355.5 293.8 354.3 293.9 353.1 293.9 351.9 294.0 350.7 294.1 349.5 294.2 348.3 294.2 347.1 294.3 345.9 294.4 344.7 294.5 343.5 294.6 342.3 294.7 341.1 294.7 339.9 294.8 338.7 294.9 337.5 295.0 336.3 295.1 335.1 295.2 333.9 295.3 332.7 295.3 331.5 295.4 330.3 295.5 329.1 295.6 327.9 295.7 326.7 295.8 325.5 295.9 324.3 296.0 323.1 296.0 321.9 296.1 320.7 296.2 319.5 296.3 318.3 296.4 317.2 296.5 316.0 296.6 314.8 296.7 313.6 296.7 312.4 296.8 311.2 296.9 310.0 297.0 308.8 297.1 307.6 297.2 306.4 297.3 305.2 297.4 304.0 297.4 302.8 297.5 301.6 297.6 300.4 297.7 299.2 297.8 298.0 297.9 296.8 298.0 295.6 298.0 294.4 298.1 293.2 298.2 292.0 298.3 290.8 298.4 289.6 298.5 288.4 298.5 287.2 298.6 286.0 298.7 284.8 298.8 283.6 298.9 282.4 299.0 281.2 299.0 280.0 299.1 278.8 299.2 277.6 299.3 276.4 299.4 275.2 299.4 274.0 299.5 272.8 299.6 271.6 299.7 270.4 299.8 269.2 299.8 268.0 299.9 266.8 300.0 265.6 300.1 264.4 300.1 263.2 300.2 262.0 300.3 260.8 300.3 259.6 300.4 258.4 300.5 257.2 300.6 256.0 300.6 254.8 300.7 253.6 300.8 252.4 300.8 251.2 300.9 250.0 301.0 248.8 301.0 247.6 301.1 246.4 301.2 245.2 301.2 244.0 301.3 242.8 301.3 241.6 301.4 240.4 301.5 239.2 301.5 238.0 301.6 236.8 301.6 235.6 301.7 234.4 301.7 233.2 301.8 232.0 301.8 230.8 301.9 229.6 301.9 228.4 302.0 227.2 302.0 226.0 302.1 224.8 302.1 223.6 302.2 222.3 302.2 221.1 302.3 219.9 302.3 218.7 302.4 217.5 302.4 216.3 302.5 215.1 302.5 213.9 302.6 212.7 302.6 211.5 302.7 210.3 302.8 209.1 302.8 207.9 302.9 206.7 302.9 205.5 303.0 204.3 303.1 203.1 303.2 201.9 303.2 200.7 303.3 199.5 303.4 198.3 303.5 197.1 303.6 195.9 303.8 194.7 303.9 193.5 304.0 192.4 304.1 191.2 304.3 190.0 304.4 188.8 304.5 187.6 304.7 186.4 304.8 185.2 304.9 184.0 305.0 182.8 305.2 181.6 305.3 180.4 305.4 179.2 305.5 178.0 305.6 176.8 305.7 175.6 305.8 174.4 305.9 173.2 306.0 172.0 306.1 170.8 306.2 169.6 306.4 168.4 306.5 167.2 306.6 166.0 306.7 164.8 306.8 163.6 306.9 162.4 307.0 161.2 307.1 160.0 307.2 158.8 307.4 157.6 307.5 156.5 307.6 155.3 307.7 154.1 307.9 152.9 308.0 151.7 308.1 150.5 308.3 149.3 308.4 148.1 308.5 146.9 308.7 145.7 308.8 144.5 309.0 143.3 309.1 142.1 309.2 140.9 309.4 139.7 309.5 138.5 309.7 137.3 309.8 136.1 310.0 135.0 310.1 133.8 310.3 132.6 310.4 131.4 310.6 130.2 310.7 129.0 310.9 127.8 311.0 126.6 311.2 125.4 311.3 124.2 311.5 123.0 311.7 121.8 311.9 120.7 312.1 119.5 312.3 118.3 312.5 117.1 312.8 115.9 313.0 114.8 313.3 113.6 313.6 112.4 313.9 111.3 314.3 110.1 314.7 109.0 315.1 107.8 315.5 106.7 316.0 105.6 316.5 104.5 317.0 103.4 317.6 102.4 318.2 101.4 318.9 100.4 319.7 99.5 320.5 98.6 321.5 97.9 322.5 97.2 323.6 96.7 324.7 96.4 325.9 96.2 327.1 96.2 328.3 96.3 329.5 96.6 330.6 97.0 331.7 97.4 332.8 98.0 333.9 98.6 334.9 99.2 335.8 99.9 336.8 100.6 337.7 101.4 338.6 102.2 339.5 103.0 340.4 103.8 341.2 104.7 342.1 105.5 342.9 106.4 343.7 107.3 344.5 108.2 345.4 109.1 346.1 110.0 346.9 110.9 347.7 111.8 348.5 112.7 349.3 113.6 350.0 114.6 350.8 115.5 351.5 116.5 352.3 117.4 353.0 118.3 353.7 119.3 354.5 120.3 355.2 121.2 355.9 122.2 356.6 123.2 357.3 124.1 358.0 125.1 358.7 126.1 359.4 127.1 360.1 128.1 360.8 129.1 361.4 130.1 362.1 131.1 362.8 132.1 363.4 133.1 364.1 134.1 364.7 135.1 365.4 136.1 366.0 137.1 366.7 138.1 367.3 139.1 367.9 140.2 368.6 141.2 369.2 142.2 369.8 143.3 370.4 144.3 371.0 145.3 371.6 146.4 372.2 147.4 372.8 148.4 373.4 149.5 374.0 150.5 374.6 151.6 375.2 152.6 375.8 153.7 376.4 154.7 377.0 155.8 377.6 156.8 378.2 157.9 378.8 158.9 379.3 160.0 379.9 161.0 380.5 162.1 381.1 163.1 381.6 164.2 382.2 165.2 382.8 166.3 383.4 167.3 383.9 168.4 384.5 169.5 385.1 170.5 385.7 171.6 386.2 172.6 386.8 173.7 387.4 174.7 388.0 175.8 388.5 176.9 389.1 177.9 389.7 179.0 390.2 180.0 390.8 181.1 391.4 182.1 392.0 183.2 392.5 184.3 393.1 185.3 393.6 186.4 394.2 187.5 394.8 188.5 395.3 189.6 395.9 190.6 396.5 191.7 397.0 192.8 397.6 193.8 398.1 194.9 398.7 196.0 399.3 197.0 399.8 198.1 400.4 199.2 400.9 200.2 401.5 201.3 402.0 202.4 402.6 203.4 403.1 204.5 403.7 205.6 404.2 206.6 404.8 207.7 405.3 208.8 405.9 209.9 406.4 210.9 407.0 212.0 407.5 213.1 408.0 214.1 408.6 215.2 409.1 216.3 409.6 217.4 410.2 218.5 410.7 219.5 411.2 220.6 411.7 221.7 412.3 222.8 412.8 223.9 413.3 224.9 413.8 226.0 414.4 227.1 414.9 228.2 415.4 229.3 416.0 230.3 416.5 231.4 417.0 232.5 417.6 233.6 418.1 234.6 418.7 235.7 419.2 236.8 419.8 237.9 420.3 238.9 420.8 240.0 421.4 241.1 421.9 242.1 422.5 243.2 423.0 244.3 423.6 245.4 424.1 246.4 424.7 247.5 425.2 248.6 425.8 249.6 426.3 250.7 426.9 251.8 427.4 252.8 428.0 253.9 428.5 255.0 429.1 256.0 429.6 257.1 430.2 258.2 430.7 259.3 431.3 260.3 431.8 261.4 432.4 262.5 432.9 263.5 433.5 264.6 434.0 265.7 434.6 266.7 435.1 267.8 435.6 268.9 436.2 270.0 436.7 271.0 437.3 272.1 437.8 273.2 438.3 274.3 438.9 275.3 439.4 276.4 439.9 277.5 440.5 278.6 441.0 279.7 441.5 280.7 442.0 281.8 442.5 282.9 443.0 284.0 443.5 285.1 444.0 286.2 444.5 287.3 445.0 288.4 445.5 289.5 446.0 290.6 446.4 291.7 446.9 292.8 447.4 293.9 447.9 295.0 448.3 296.1 448.8 297.2 449.3 298.3 449.8 299.4 450.3 300.5 450.7 301.6 451.2 302.7 451.7 303.8 452.2 304.9 452.7 306.0 453.2 307.1 453.8 308.2 454.3 309.3 454.8 310.4 455.3 311.4 455.9 312.5 456.4 313.6 457.0 314.6 457.6 315.7 458.1 316.8 458.7 317.8 459.3 318.9 459.9 319.9 460.5 321.0 461.1 322.0 461.7 323.0 462.3 324.1 462.9 325.1 463.5 326.1 464.2 327.2 464.8 328.2 465.4 329.2 466.1 330.2 466.7 331.2 467.4 332.2 468.0 333.3 468.7 334.3 469.3 335.3 470.0 336.3 470.7 337.3 471.3 338.3 472.0 339.3 472.7 340.3 473.4 341.2 474.1 342.2 474.7 343.2 475.4 344.2 476.1 345.2 476.8 346.2 477.5 347.2 478.2 348.2 478.9 349.1 479.6 350.1 480.3 351.1 481.0 352.1 481.7 353.1 482.3 354.0 483.0 355.0 483.7 356.0 484.4 357.0 485.2 357.9 485.9 358.9 486.6 359.9 487.3 360.9 488.0 361.8 488.7 362.8 489.4 363.8 490.1 364.7 490.9 365.7 491.6 366.7 492.3 367.6 493.0 368.6 493.8 369.5 494.5 370.5 495.2 371.4 496.0 372.4 496.7 373.3 497.5 374.3 498.2 375.2 499.0 376.1 499.7 377.1 500.5 378.0 501.3 378.9 502.1 379.8 502.8 380.7 503.6 381.7 504.4 382.6 505.2 383.5 506.0 384.4 506.8 385.3 507.6 386.1 508.4 387.0 509.2 387.9 510.1 388.8 510.9 389.6 511.7 390.5 512.6 391.4 513.4 392.2 514.3 393.0 515.2 393.9 516.0 394.7 516.9 395.5 517.8 396.3 518.7 397.2 519.6 397.9 520.5 398.7 521.4 399.5 522.3 400.3 523.3 401.0 524.2 401.8 525.2 402.5 526.1 403.3 527.1 404.0 528.0 404.7 529.0 405.4 530.0 406.1 531.0 406.8 532.0 407.5 533.0 408.1 534.0 408.8 535.0 409.4 536.0 410.1 537.1 410.7 538.1 411.3 539.1 411.9 540.2 412.5 541.2 413.1 542.3 413.7 543.3 414.3 544.4 414.8 545.5 415.4 546.5 415.9 547.6 416.5 548.7 417.0 549.8 417.5 550.9 418.0 551.9 418.5 553.0 419.0 554.1 419.5 555.2 420.0 556.4 420.4 557.5 420.9 558.6 421.4 559.7 421.8 560.8 422.3 561.9 422.7 563.1 423.1 564.2 423.5 565.3 424.0 566.4 424.4 567.6 424.8 568.7 425.1 569.9 425.5 571.0 425.9 572.1 426.3 573.3 426.7 574.4 427.0 575.6 427.4 576.7 427.7 577.9 428.1 579.0 428.4 580.2 428.7 581.3 429.0 582.5 429.4 583.7 429.7 584.8 430.0 586.0 430.3 587.2 430.6 588.3 430.8 589.5 431.1 590.7 431.4 591.8 431.7 593.0 431.9 594.2 432.2 595.4 432.4 596.6 432.6 597.7 432.9 598.9 433.1 600.1 433.3 601.3 433.5 602.5 433.7 603.7 433.9 604.8 434.1 606.0 434.3 607.2 434.4 608.4 434.6 609.6 434.8 610.8 434.9 612.0 435.1 613.2 435.2 614.4 435.4 615.6 435.5 616.8 435.6 618.0 435.7 619.2 435.9 620.4 436.0 621.6 436.1 622.8 436.2 624.0 436.3 625.2 436.4 626.4 436.4 627.6 436.5 628.8 436.6 630.0 436.7 631.2 436.7 632.4 436.8 633.6 436.8 634.8 436.9 636.0 436.9 637.2 437.0 638.4 437.0 639.6 437.0 640.8 437.1 642.0 437.1 643.2 437.1 644.4 437.1 645.6 437.2 646.8 437.2 648.0 437.2 649.2 437.2 650.4 437.2 651.6 437.2 652.8 437.2 654.0 437.2 655.2 437.2 656.4 437.2 657.6 437.1 658.8 437.1 660.0 437.1"/>
<path class="c" stroke="#ACAC0A" d="M191.0 437.1L192.2 437.0 193.4 436.9 194.5 436.6 195.6 436.0 196.4 435.1 197.0 434.1 197.6 433.0 198.0 431.9 198.4 430.8 198.8 429.6 199.1 428.5 199.4 427.3 199.7 426.1 199.9 425.0 200.2 423.8 200.4 422.6 200.6 421.4 200.8 420.2 201.0 419.1 201.2 417.9 201.4 416.7 201.6 415.5 201.7 414.3 201.9 413.1 202.0 411.9 202.2 410.7 202.3 409.5 202.5 408.4 202.6 407.2 202.7 406.0 202.9 404.8 203.0 403.6 203.1 402.4 203.2 401.2 203.4 400.0 203.5 398.8 203.6 397.6 203.7 396.4 203.8 395.2 203.9 394.0 204.0 392.8 204.1 391.6 204.3 390.4 204.4 389.2 204.5 388.0 204.6 386.8 204.7 385.7 204.8 384.5 204.9 383.3 205.0 382.1 205.1 380.9 205.2 379.7 205.3 378.5 205.4 377.3 205.5 376.1 205.6 374.9 205.7 373.7 205.7 372.5 205.8 371.3 205.9 370.1 206.0 368.9 206.1 367.7 206.2 366.5 206.3 365.3 206.4 364.1 206.5 362.9 206.6 361.7 206.6 360.5 206.7 359.3 206.8 358.1 206.9 356.9 207.0 355.7 207.1 354.5 207.2 353.3 207.2 352.1 207.3 350.9 207.4 349.7 207.5 348.5 207.6 347.3 207.7 346.1 207.7 344.9 207.8 343.8 207.9 342.6 208.0 341.4 208.1 340.2 208.1 339.0 208.2 337.8 208.3 336.6 208.4 335.4 208.5 334.2 208.6 333.0 208.6 331.8 208.7 330.6 208.8 329.4 208.9 328.2 209.0 327.0 209.0 325.8 209.1 324.6 209.2 323.4 209.3 322.2 209.4 321.0 209.4 319.8 209.5 318.6 209.6 317.4 209.7 316.2 209.7 315.0 209.8 313.8 209.9 312.6 210.0 311.4 210.1 310.2 210.1 309.0 210.2 307.8 210.3 306.6 210.4 305.4 210.5 304.2 210.5 303.0 210.6 301.8 210.7 300.6 210.8 299.4 210.8 298.2 210.9 297.0 211.0 295.8 211.1 294.6 211.2 293.4 211.2 292.2 211.3 291.0 211.4 289.8 211.5 288.6 211.5 287.4 211.6 286.3 211.7 285.1 211.8 283.9 211.9 282.7 211.9 281.5 212.0 280.3 212.1 279.1 212.2 277.9 212.3 276.7 212.3 275.5 212.4 274.3 212.5 273.1 212.6 271.9 212.6 270.7 212.7 269.5 212.8 268.3 212.9 267.1 213.0 265.9 213.0 264.7 213.1 263.5 213.2 262.3 213.3 261.1 213.3 259.9 213.4 258.7 213.5 257.5 213.6 256.3 213.7 255.1 213.7 253.9 213.8 252.7 213.9 251.5 214.0 250.3 214.1 249.1 214.1 247.9 214.2 246.7 214.3 245.5 214.4 244.3 214.5 243.1 214.5 241.9 214.6 240.7 214.7 239.5 214.8 238.3 214.9 237.1 215.0 235.9 215.0 234.7 215.1 233.5 215.2 232.3 215.3 231.1 215.4 230.0 215.5 228.8 215.6 227.6 215.7 226.4 215.7 225.2 215.8 224.0 215.9 222.8 216.0 221.6 216.1 220.4 216.2 219.2 216.3 218.0 216.4 216.8 216.5 215.6 216.6 214.4 216.7 213.2 216.8 212.0 216.9 210.8 217.0 209.6 217.1 208.4 217.2 207.2 217.3 206.0 217.4 204.8 217.5 203.6 217.7 202.4 217.8 201.2 217.9 200.0 218.0 198.8 218.1 197.6 218.2 196.5 218.3 195.3 218.4 194.1 218.6 192.9 218.7 191.7 218.8 190.5 218.9 189.3 219.0 188.1 219.2 186.9 219.3 185.7 219.4 184.5 219.6 183.3 219.7 182.1 219.8 180.9 220.0 179.7 220.1 178.5 220.3 177.4 220.4 176.2 220.6 175.0 220.8 173.8 221.0 172.6 221.2 171.4 221.4 170.2 221.6 169.1 221.9 167.9 222.1 166.7 222.4 165.5 222.7 164.4 223.0 163.2 223.3 162.1 223.6 160.9 223.9 159.7 224.2 158.6 224.4 157.4 224.7 156.2 225.0 155.1 225.2 153.9 225.4 152.7 225.7 151.5 225.9 150.3 226.1 149.2 226.4 148.0 226.6 146.8 226.8 145.6 227.0 144.4 227.3 143.3 227.5 142.1 227.7 140.9 228.0 139.7 228.2 138.6 228.5 137.4 228.8 136.2 229.0 135.1 229.3 133.9 229.6 132.7 229.9 131.6 230.2 130.4 230.6 129.3 230.9 128.1 231.3 127.0 231.7 125.8 232.0 124.7 232.5 123.6 232.9 122.4 233.3 121.3 233.8 120.2 234.2 119.1 234.7 118.0 235.2 116.9 235.7 115.8 236.3 114.8 236.8 113.7 237.4 112.6 238.0 111.6 238.6 110.6 239.3 109.5 239.9 108.5 240.6 107.6 241.4 106.6 242.1 105.7 242.9 104.8 243.8 103.9 244.6 103.1 245.6 102.4 246.5 101.6 247.5 101.0 248.6 100.4 249.7 99.9 250.8 99.4 251.9 99.1 253.1 98.8 254.3 98.6 255.5 98.6 256.7 98.6 257.9 98.8 259.0 99.1 260.2 99.5 261.3 99.9 262.4 100.4 263.4 101.0 264.4 101.6 265.4 102.3 266.4 103.0 267.4 103.8 268.3 104.5 269.2 105.3 270.1 106.1 270.9 107.0 271.8 107.8 272.6 108.7 273.4 109.6 274.2 110.5 275.0 111.4 275.8 112.3 276.6 113.2 277.3 114.1 278.1 115.1 278.8 116.0 279.5 117.0 280.3 117.9 281.0 118.9 281.7 119.8 282.4 120.8 283.1 121.8 283.8 122.8 284.5 123.8 285.1 124.8 285.8 125.8 286.4 126.8 287.1 127.8 287.7 128.8 288.3 129.8 288.9 130.9 289.5 131.9 290.1 133.0 290.7 134.0 291.3 135.1 291.9 136.1 292.4 137.2 293.0 138.3 293.5 139.3 294.0 140.4 294.6 141.5 295.1 142.6 295.6 143.7 296.1 144.7 296.6 145.8 297.1 146.9 297.6 148.0 298.1 149.1 298.6 150.2 299.1 151.3 299.6 152.4 300.1 153.5 300.6 154.6 301.1 155.7 301.6 156.8 302.1 157.9 302.5 159.0 303.0 160.1 303.4 161.2 303.9 162.3 304.3 163.4 304.7 164.5 305.1 165.7 305.6 166.8 306.0 167.9 306.4 169.1 306.8 170.2 307.1 171.3 307.5 172.5 307.9 173.6 308.3 174.7 308.7 175.9 309.0 177.0 309.4 178.2 309.8 179.3 310.1 180.5 310.5 181.6 310.8 182.7 311.2 183.9 311.6 185.0 311.9 186.2 312.3 187.3 312.6 188.5 313.0 189.6 313.3 190.8 313.6 191.9 314.0 193.1 314.3 194.2 314.7 195.4 315.0 196.5 315.3 197.7 315.7 198.9 316.0 200.0 316.3 201.2 316.7 202.3 317.0 203.5 317.3 204.6 317.7 205.8 318.0 206.9 318.4 208.1 318.7 209.2 319.1 210.4 319.4 211.5 319.8 212.6 320.2 213.8 320.6 214.9 321.0 216.1 321.3 217.2 321.7 218.3 322.1 219.5 322.5 220.6 322.9 221.7 323.3 222.9 323.7 224.0 324.1 225.1 324.5 226.3 324.8 227.4 325.2 228.6 325.6 229.7 326.0 230.8 326.4 232.0 326.7 233.1 327.1 234.3 327.5 235.4 327.9 236.5 328.2 237.7 328.6 238.8 329.0 240.0 329.3 241.1 329.7 242.3 330.0 243.4 330.4 244.6 330.7 245.7 331.1 246.8 331.4 248.0 331.8 249.1 332.1 250.3 332.5 251.5 332.8 252.6 333.1 253.8 333.5 254.9 333.8 256.1 334.1 257.2 334.5 258.4 334.8 259.5 335.1 260.7 335.5 261.8 335.8 263.0 336.1 264.1 336.5 265.3 336.8 266.4 337.1 267.6 337.5 268.7 337.8 269.9 338.1 271.1 338.5 272.2 338.8 273.4 339.1 274.5 339.5 275.7 339.8 276.8 340.2 278.0 340.5 279.1 340.9 280.3 341.2 281.4 341.6 282.6 342.0 283.7 342.3 284.8 342.7 286.0 343.1 287.1 343.5 288.3 343.8 289.4 344.2 290.5 344.6 291.7 345.0 292.8 345.4 293.9 345.8 295.1 346.2 296.2 346.6 297.3 347.0 298.5 347.4 299.6 347.8 300.7 348.2 301.9 348.6 303.0 349.0 304.1 349.5 305.2 349.9 306.4 350.3 307.5 350.7 308.6 351.1 309.7 351.5 310.9 351.9 312.0 352.3 313.1 352.8 314.3 353.2 315.4 353.6 316.5 354.0 317.6 354.4 318.8 354.8 319.9 355.2 321.0 355.6 322.2 356.0 323.3 356.4 324.4 356.8 325.5 357.3 326.7 357.7 327.8 358.1 328.9 358.5 330.1 358.9 331.2 359.3 332.3 359.7 333.4 360.1 334.6 360.5 335.7 360.9 336.8 361.3 338.0 361.7 339.1 362.2 340.2 362.6 341.3 363.0 342.5 363.4 343.6 363.8 344.7 364.3 345.8 364.7 347.0 365.1 348.1 365.6 349.2 366.0 350.3 366.4 351.4 366.9 352.6 367.3 353.7 367.8 354.8 368.2 355.9 368.7 357.0 369.1 358.1 369.6 359.2 370.1 360.3 370.5 361.4 371.0 362.5 371.5 363.6 372.0 364.7 372.5 365.8 373.0 366.9 373.5 368.0 374.0 369.1 374.5 370.2 375.0 371.3 375.5 372.4 376.0 373.4 376.5 374.5 377.1 375.6 377.6 376.7 378.2 377.7 378.7 378.8 379.3 379.9 379.8 380.9 380.4 382.0 381.0 383.0 381.6 384.1 382.1 385.1 382.7 386.2 383.3 387.2 384.0 388.3 384.6 389.3 385.2 390.3 385.8 391.3 386.5 392.3 387.1 393.4 387.8 394.4 388.4 395.4 389.1 396.4 389.8 397.4 390.5 398.3 391.2 399.3 391.9 400.3 392.6 401.2 393.3 402.2 394.0 403.2 394.8 404.1 395.5 405.0 396.3 406.0 397.1 406.9 397.8 407.8 398.6 408.7 399.4 409.6 400.2 410.5 401.1 411.4 401.9 412.2 402.7 413.1 403.6 414.0 404.4 414.8 405.3 415.6 406.2 416.4 407.1 417.2 408.0 418.0 408.9 418.8 409.8 419.6 410.7 420.4 411.7 421.1 412.6 421.8 413.6 422.6 414.5 423.3 415.5 423.9 416.5 424.6 417.5 425.3 418.6 425.9 419.6 426.5 420.6 427.1 421.7 427.7 422.7 428.3 423.8 428.8 424.9 429.3 426.0 429.8 427.1 430.3 428.2 430.8 429.3 431.2 430.4 431.6 431.6 432.0 432.7 432.4 433.9 432.7 435.0 433.0 436.2 433.3 437.4 433.6 438.5 433.9 439.7 434.1 440.9 434.3 442.1 434.5 443.2 434.7 444.4 434.9 445.6 435.1 446.8 435.2 448.0 435.4 449.2 435.5 450.4 435.6 451.6 435.7 452.8 435.8 454.0 435.9 455.2 436.0 456.4 436.1 457.6 436.1 458.8 436.2 460.0 436.3 461.2 436.3 462.4 436.4 463.6 436.4 464.8 436.5 466.0 436.5 467.2 436.5 468.4 436.6 469.6 436.6 470.8 436.7 472.0 436.7 473.2 436.7 474.4 436.8 475.6 436.8 476.8 436.9 478.0 436.9 479.2 436.9 480.4 437.0 481.6 437.0 482.8 437.0 484.0 437.0 485.2 437.1 486.4 437.1 487.6 437.1 488.8 437.2 490.0 437.2 491.2 437.2 492.4 437.2 493.6 437.3 494.8 437.3 496.0 437.3 497.2 437.3 498.4 437.3 499.6 437.4 500.8 437.4 502.0 437.4 503.2 437.4 504.4 437.4 505.6 437.4 506.8 437.4 508.0 437.5 509.2 437.5 510.4 437.5 511.6 437.5 512.8 437.5 514.0 437.5 515.2 437.5 516.4 437.6 517.6 437.6 518.8 437.6 520.0 437.6 521.2 437.6 522.4 437.6 523.6 437.6 524.8 437.6 526.0 437.6 527.2 437.6 528.4 437.6 529.6 437.7 530.8 437.7 532.0 437.7 533.2 437.7 534.4 437.7 535.6 437.7 536.8 437.7 538.0 437.7 539.2 437.7 540.4 437.7 541.6 437.7 542.8 437.7 544.0 437.7 545.2 437.7 546.4 437.7 547.6 437.7 548.8 437.7 550.0 437.7 551.2 437.7 552.4 437.7 553.6 437.8 554.8 437.8 556.0 437.8 557.2 437.8 558.4 437.8 559.6 437.8 560.8 437.8 562.0 437.8 563.2 437.8 564.4 437.8 565.6 437.8 566.8 437.8 568.0 437.8 569.2 437.8 570.4 437.8 571.6 437.8 572.8 437.8 574.0 437.8 575.2 437.8 576.4 437.8 577.6 437.8 578.8 437.8 580.0 437.8 581.2 437.8 582.4 437.8 583.6 437.8 584.8 437.8 586.0 437.8 587.2 437.8 588.4 437.8 589.6 437.8 590.8 437.8 592.0 437.8 593.2 437.8 594.4 437.8 595.6 437.8 596.8 437.8 598.0 437.8 599.2 437.8 600.4 437.8 601.6 437.8 602.8 437.8 604.0 437.8 605.2 437.8 606.4 437.8 607.6 437.8 608.8 437.8 610.0 437.8 611.2 437.8 612.4 437.8 613.6 437.8 614.8 437.7 616.0 437.7 617.2 437.7 618.4 437.7 619.6 437.7 620.8 437.7 622.0 437.7 623.2 437.7 624.4 437.7 625.6 437.7 626.8 437.7 628.0 437.7 629.2 437.7 630.4 437.7 631.6 437.7 632.8 437.7 634.0 437.7 635.2 437.7 636.4 437.7 637.6 437.7 638.8 437.7 640.0 437.7 641.2 437.7 642.4 437.7 643.6 437.7 644.8 437.7 646.0 437.7 647.2 437.7 648.4 437.7 649.6 437.7 650.8 437.7 652.0 437.7 653.2 437.6 654.4 437.6 655.6 437.6 656.8 437.6 658.0 437.6 659.3 437.6 660.5 437.6 661.7 437.6 662.9 437.6 664.1 437.6 665.3 437.6 666.5 437.6 667.7 437.6 668.9 437.6 670.1 437.6 671.3 437.6 672.5 437.6 673.7 437.6 674.9 437.6 676.1 437.6 677.3 437.6 678.5 437.6 679.7 437.5 680.9 437.5 682.1 437.5 683.3 437.5 684.5 437.5 685.7 437.5 686.9 437.5 688.1 437.5 689.3 437.5 690.5 437.5 691.7 437.5 692.9 437.5 694.1 437.5 695.3 437.5 696.5 437.5 697.7 437.5 698.9 437.5 700.1 437.5 701.3 437.5 702.5 437.5 703.7 437.4 704.9 437.4 706.1 437.4 707.3 437.4 708.5 437.4 709.7 437.4 710.9 437.4 712.1 437.4 713.3 437.4 714.5 437.4 715.7 437.4 716.9 437.4 718.1 437.4 719.3 437.4 720.5 437.4 721.7 437.4 722.9 437.4 724.1 437.3 725.3 437.3 726.5 437.3 727.7 437.3 728.9 437.3 730.1 437.3 731.3 437.3 732.5 437.3 733.7 437.3 734.9 437.3 736.1 437.3 737.3 437.3 738.5 437.3 739.7 437.3 740.9 437.3 742.1 437.3 743.3 437.3 744.5 437.2 745.7 437.2 746.9 437.2 748.1 437.2 749.3 437.2 750.5 437.2 751.7 437.2 752.9 437.2 754.1 437.2 755.3 437.2 756.5 437.2 757.7 437.2 758.9 437.2 760.1 437.2 761.3 437.2 762.5 437.1 763.7 437.1 764.9 437.1 766.1 437.1 767.3 437.1 768.5 437.1 769.7 437.1 770.9 437.1"/>
<path class="c" stroke="#A36F3C" d="M298.0 437.1L299.2 436.9 300.4 436.8 301.6 436.8 302.8 436.5 303.7 435.8 304.5 434.8 305.1 433.8 305.6 432.7 306.0 431.6 306.4 430.4 306.8 429.3 307.0 428.1 307.3 426.9 307.5 425.7 307.7 424.5 307.9 423.3 308.1 422.1 308.2 420.9 308.4 419.7 308.5 418.5 308.7 417.3 308.8 416.1 308.9 414.9 309.1 413.7 309.2 412.5 309.3 411.3 309.4 410.1 309.5 408.9 309.6 407.7 309.7 406.5 309.8 405.3 309.9 404.1 310.0 402.9 310.1 401.7 310.2 400.5 310.3 399.3 310.4 398.1 310.5 396.9 310.6 395.7 310.7 394.5 310.8 393.3 310.8 392.1 310.9 390.9 311.0 389.7 311.1 388.5 311.1 387.3 311.2 386.0 311.3 384.8 311.3 383.6 311.4 382.4 311.5 381.2 311.5 380.0 311.6 378.8 311.6 377.6 311.7 376.4 311.8 375.2 311.8 374.0 311.9 372.8 311.9 371.6 312.0 370.4 312.1 369.2 312.1 368.0 312.2 366.8 312.3 365.5 312.3 364.3 312.4 363.1 312.5 361.9 312.6 360.7 312.6 359.5 312.7 358.3 312.8 357.1 312.8 355.9 312.9 354.7 313.0 353.5 313.0 352.3 313.1 351.1 313.2 349.9 313.2 348.7 313.3 347.5 313.4 346.3 313.4 345.0 313.5 343.8 313.6 342.6 313.6 341.4 313.7 340.2 313.7 339.0 313.8 337.8 313.9 336.6 313.9 335.4 314.0 334.2 314.0 333.0 314.1 331.8 314.1 330.6 314.2 329.4 314.3 328.2 314.3 327.0 314.4 325.7 314.4 324.5 314.5 323.3 314.5 322.1 314.6 320.9 314.6 319.7 314.7 318.5 314.7 317.3 314.8 316.1 314.8 314.9 314.9 313.7 314.9 312.5 315.0 311.3 315.0 310.1 315.1 308.9 315.1 307.6 315.2 306.4 315.2 305.2 315.3 304.0 315.4 302.8 315.4 301.6 315.5 300.4 315.5 299.2 315.6 298.0 315.6 296.8 315.7 295.6 315.7 294.4 315.8 293.2 315.8 292.0 315.9 290.8 316.0 289.5 316.0 288.3 316.1 287.1 316.1 285.9 316.2 284.7 316.2 283.5 316.3 282.3 316.4 281.1 316.4 279.9 316.5 278.7 316.5 277.5 316.6 276.3 316.7 275.1 316.7 273.9 316.8 272.7 316.8 271.5 316.9 270.2 317.0 269.0 317.0 267.8 317.1 266.6 317.1 265.4 317.2 264.2 317.3 263.0 317.3 261.8 317.4 260.6 317.4 259.4 317.5 258.2 317.6 257.0 317.6 255.8 317.7 254.6 317.7 253.4 317.8 252.2 317.9 251.0 317.9 249.7 318.0 248.5 318.0 247.3 318.1 246.1 318.2 244.9 318.2 243.7 318.3 242.5 318.3 241.3 318.4 240.1 318.5 238.9 318.5 237.7 318.6 236.5 318.6 235.3 318.7 234.1 318.7 232.9 318.8 231.6 318.9 230.4 318.9 229.2 319.0 228.0 319.0 226.8 319.1 225.6 319.1 224.4 319.2 223.2 319.3 222.0 319.3 220.8 319.4 219.6 319.4 218.4 319.5 217.2 319.6 216.0 319.6 214.8 319.7 213.6 319.7 212.3 319.8 211.1 319.9 209.9 319.9 208.7 320.0 207.5 320.1 206.3 320.1 205.1 320.2 203.9 320.3 202.7 320.3 201.5 320.4 200.3 320.5 199.1 320.5 197.9 320.6 196.7 320.7 195.5 320.7 194.3 320.8 193.1 320.9 191.8 320.9 190.6 321.0 189.4 321.1 188.2 321.2 187.0 321.2 185.8 321.3 184.6 321.4 183.4 321.5 182.2 321.6 181.0 321.7 179.8 321.7 178.6 321.8 177.4 321.9 176.2 322.0 175.0 322.1 173.8 322.2 172.6 322.3 171.4 322.4 170.2 322.5 169.0 322.6 167.8 322.7 166.6 322.8 165.3 322.9 164.1 323.0 162.9 323.1 161.7 323.2 160.5 323.3 159.3 323.4 158.1 323.5 156.9 323.6 155.7 323.7 154.5 323.8 153.3 323.9 152.1 324.0 150.9 324.1 149.7 324.2 148.5 324.3 147.3 324.5 146.1 324.6 144.9 324.7 143.7 324.8 142.5 324.9 141.3 325.0 140.1 325.1 138.9 325.3 137.7 325.4 136.5 325.5 135.3 325.6 134.1 325.7 132.9 325.8 131.7 326.0 130.5 326.1 129.3 326.2 128.1 326.3 126.9 326.4 125.7 326.5 124.5 326.7 123.3 326.8 122.1 326.9 120.9 327.0 119.7 327.1 118.4 327.2 117.2 327.3 116.0 327.4 114.8 327.5 113.6 327.6 112.4 327.7 111.2 327.8 110.0 327.9 108.8 328.0 107.6 328.1 106.4 328.2 105.2 328.3 104.0 328.4 102.8 328.5 101.6 328.7 100.4 328.8 99.2 328.9 98.0 329.0 96.8 329.2 95.6 329.3 94.4 329.5 93.2 329.6 92.0 329.8 90.8 329.9 89.6 330.1 88.4 330.3 87.2 330.4 86.0 330.6 84.8 330.8 83.6 331.0 82.4 331.2 81.2 331.4 80.1 331.6 78.9 331.8 77.7 332.0 76.5 332.2 75.3 332.5 74.1 332.7 72.9 332.9 71.7 333.2 70.6 333.5 69.4 333.8 68.2 334.0 67.0 334.3 65.9 334.7 64.7 335.0 63.5 335.3 62.4 335.6 61.2 336.0 60.1 336.4 58.9 336.8 57.8 337.2 56.6 337.6 55.5 338.1 54.4 338.6 53.3 339.2 52.3 339.8 51.2 340.5 50.2 341.3 49.3 342.1 48.5 343.1 47.7 344.2 47.2 345.4 47.0 346.6 47.1 347.7 47.5 348.8 48.0 349.9 48.6 351.0 48.9 352.2 48.7 353.2 48.0 354.0 47.2 354.7 46.2 355.4 45.2 356.1 44.2 356.7 43.2 357.3 42.1 358.0 41.1 358.7 40.1 359.5 39.2 360.3 38.4 361.3 37.7 362.5 37.3 363.7 37.4 364.8 37.9 365.8 38.5 366.8 39.2 367.9 39.6 369.1 39.6 370.2 39.2 371.2 38.5 372.2 37.8 373.3 37.2 374.4 37.0 375.5 37.6 376.2 38.6 376.9 39.6 377.4 40.7 377.9 41.8 378.3 42.9 378.7 44.1 379.1 45.2 379.4 46.4 379.8 47.5 380.1 48.7 380.5 49.8 380.9 51.0 381.3 52.1 381.8 53.2 382.3 54.3 382.9 55.4 383.5 56.4 384.3 57.3 385.3 58.0 386.4 58.1 387.4 57.4 388.2 56.5 388.8 55.5 389.5 54.4 390.1 53.4 390.7 52.4 391.4 51.3 392.0 50.3 392.8 49.4 393.5 48.4 394.3 47.5 395.1 46.6 396.0 45.8 396.9 45.0 397.8 44.2 398.8 43.5 399.8 42.9 400.9 42.2 401.9 41.6 402.8 40.9 403.8 40.1 404.7 39.3 405.6 38.5 406.5 37.7 407.4 36.9 408.5 36.3 409.6 36.0 410.8 36.0 412.0 36.3 413.1 36.7 414.2 37.2 415.3 37.7 416.4 38.2 417.6 38.6 418.8 38.7 420.0 38.6 421.2 38.4 422.3 38.2 423.5 38.0 424.7 37.9 425.9 38.0 427.1 38.3 428.3 38.6 429.5 38.9 430.7 38.9 431.9 38.7 433.0 38.4 434.1 37.9 435.2 37.4 436.2 36.8 437.4 36.4 438.5 36.6 439.4 37.5 440.0 38.5 440.5 39.6 441.0 40.8 441.4 41.9 441.8 43.0 442.2 44.2 442.6 45.3 442.9 46.5 443.3 47.6 443.7 48.7 444.1 49.9 444.6 51.0 445.0 52.1 445.5 53.2 446.1 54.3 446.8 55.3 447.7 56.1 448.8 56.3 449.7 55.6 450.4 54.6 450.9 53.5 451.4 52.4 451.9 51.3 452.4 50.2 452.9 49.1 453.4 48.0 454.1 47.0L454.6 48.1 455.0 49.2 455.3 50.4 455.6 51.6 455.8 52.7 456.0 53.9 456.2 55.1 456.4 56.3 456.5 57.5 456.7 58.7 456.8 59.9 456.9 61.1 457.0 62.3 457.1 63.5 457.2 64.7 457.3 65.9 457.3 67.1 457.4 68.3 457.5 69.5 457.5 70.7 457.6 71.9 457.7 73.1 457.7 74.3 457.8 75.5 457.9 76.7 457.9 77.9 458.0 79.1 458.0 80.3 458.1 81.5 458.1 82.7 458.2 83.9 458.3 85.1 458.3 86.3 458.4 87.5 458.4 88.7 458.4 89.9 458.5 91.1 458.5 92.3 458.6 93.5 458.6 94.7 458.7 95.9 458.7 97.2 458.8 98.4 458.8 99.6 458.8 100.8 458.9 102.0 458.9 103.2 459.0 104.4 459.0 105.6 459.0 106.8 459.1 108.0 459.1 109.2 459.1 110.4 459.2 111.6 459.2 112.8 459.3 114.0 459.3 115.2 459.3 116.4 459.4 117.6 459.4 118.8 459.5 120.0 459.5 121.2 459.6 122.4 459.6 123.6 459.6 124.8 459.7 126.0 459.7 127.2 459.8 128.4 459.8 129.6 459.9 130.8 459.9 132.0 459.9 133.2 460.0 134.4 460.0 135.6 460.1 136.8 460.1 138.0 460.2 139.2 460.2 140.4 460.2 141.7 460.3 142.9 460.3 144.1 460.4 145.3 460.4 146.5 460.5 147.7 460.5 148.9 460.5 150.1 460.6 151.3 460.6 152.5 460.7 153.7 460.7 154.9 460.7 156.1 460.8 157.3 460.8 158.5 460.8 159.7 460.9 160.9 460.9 162.1 461.0 163.3 461.0 164.5 461.0 165.7 461.1 166.9 461.1 168.1 461.1 169.3 461.2 170.5 461.2 171.7 461.2 172.9 461.3 174.1 461.3 175.3 461.3 176.5 461.4 177.7 461.4 178.9 461.5 180.1 461.5 181.3 461.5 182.5 461.6 183.7 461.6 185.0 461.6 186.2 461.7 187.4 461.7 188.6 461.7 189.8 461.8 191.0 461.8 192.2 461.8 193.4 461.9 194.6 461.9 195.8 461.9 197.0 462.0 198.2 462.0 199.4 462.1 200.6 462.1 201.8 462.1 203.0 462.2 204.2 462.2 205.4 462.3 206.6 462.3 207.8 462.3 209.0 462.4 210.2 462.4 211.4 462.5 212.6 462.5 213.8 462.5 215.0 462.6 216.2 462.6 217.4 462.7 218.6 462.7 219.8 462.8 221.0 462.8 222.2 462.9 223.4 462.9 224.6 462.9 225.8 463.0 227.0 463.0 228.2 463.1 229.5 463.1 230.7 463.2 231.9 463.2 233.1 463.2 234.3 463.3 235.5 463.3 236.7 463.4 237.9 463.4 239.1 463.4 240.3 463.5 241.5 463.5 242.7 463.6 243.9 463.6 245.1 463.6 246.3 463.7 247.5 463.7 248.7 463.8 249.9 463.8 251.1 463.8 252.3 463.9 253.5 463.9 254.7 463.9 255.9 464.0 257.1 464.0 258.3 464.0 259.5 464.0 260.7 464.1 261.9 464.1 263.1 464.1 264.3 464.2 265.5 464.2 266.7 464.2 267.9 464.3 269.1 464.3 270.3 464.3 271.6 464.3 272.8 464.4 274.0 464.4 275.2 464.4 276.4 464.5 277.6 464.5 278.8 464.5 280.0 464.6 281.2 464.6 282.4 464.6 283.6 464.6 284.8 464.7 286.0 464.7 287.2 464.7 288.4 464.8 289.6 464.8 290.8 464.8 292.0 464.9 293.2 464.9 294.4 464.9 295.6 464.9 296.8 465.0 298.0 465.0 299.2 465.1 300.4 465.1 301.6 465.1 302.8 465.2 304.0 465.2 305.2 465.2 306.4 465.3 307.6 465.3 308.8 465.4 310.0 465.4 311.2 465.5 312.4 465.5 313.7 465.5 314.9 465.6 316.1 465.6 317.3 465.7 318.5 465.7 319.7 465.8 320.9 465.8 322.1 465.9 323.3 465.9 324.5 466.0 325.7 466.0 326.9 466.1 328.1 466.1 329.3 466.2 330.5 466.2 331.7 466.3 332.9 466.3 334.1 466.3 335.3 466.4 336.5 466.4 337.7 466.5 338.9 466.5 340.1 466.6 341.3 466.6 342.5 466.7 343.7 466.7 344.9 466.8 346.1 466.8 347.3 466.9 348.5 466.9 349.7 467.0 350.9 467.0 352.1 467.1 353.3 467.1 354.5 467.2 355.7 467.2 356.9 467.3 358.1 467.4 359.3 467.4 360.5 467.5 361.7 467.5 362.9 467.6 364.2 467.7 365.4 467.7 366.6 467.8 367.8 467.8 369.0 467.9 370.2 468.0 371.4 468.1 372.6 468.1 373.8 468.2 375.0 468.3 376.2 468.3 377.4 468.4 378.6 468.5 379.8 468.6 381.0 468.7 382.2 468.7 383.4 468.8 384.6 468.9 385.8 469.0 387.0 469.1 388.2 469.2 389.4 469.3 390.6 469.4 391.8 469.5 393.0 469.6 394.2 469.7 395.4 469.8 396.6 469.9 397.8 470.0 399.0 470.2 400.2 470.3 401.4 470.4 402.5 470.6 403.7 470.8 404.9 470.9 406.1 471.1 407.3 471.3 408.5 471.5 409.7 471.7 410.9 471.9 412.1 472.1 413.2 472.4 414.4 472.7 415.6 473.0 416.8 473.3 417.9 473.6 419.1 474.0 420.2 474.4 421.4 474.8 422.5 475.2 423.6 475.7 424.7 476.2 425.8 476.7 426.9 477.3 427.9 477.9 429.0 478.6 430.0 479.4 430.9 480.2 431.8 481.0 432.6 482.0 433.4 483.0 434.1 484.0 434.6 485.1 435.1 486.3 435.6 487.4 435.9 488.6 436.2 489.8 436.4 491.0 436.5 492.2 436.7 493.4 436.7 494.6 436.8 495.8 436.8 497.0 436.8 498.2 436.8 499.4 436.8 500.6 436.8 501.8 436.7 503.0 436.7 504.2 436.7 505.4 436.7 506.6 436.7 507.8 436.7 509.0 436.8 510.2 436.8 511.4 436.9 512.6 436.9 513.8 437.0 515.0 437.1"/>
</g>
<g>
<line x1="114.40" y1="437.70" x2="114.40" y2="434.00" stroke="#000" stroke-width="1.25"/>
<line x1="114.40" y1="14.85" x2="114.40" y2="18.55" stroke="#000" stroke-width="1.25"/>
<line x1="136.28" y1="437.70" x2="136.28" y2="435.50" stroke="#000" stroke-width="1.25"/>
<line x1="136.28" y1="14.85" x2="136.28" y2="17.05" stroke="#000" stroke-width="1.25"/>
<line x1="158.17" y1="437.70" x2="158.17" y2="435.50" stroke="#000" stroke-width="1.25"/>
<line x1="158.17" y1="14.85" x2="158.17" y2="17.05" stroke="#000" stroke-width="1.25"/>
<line x1="180.05" y1="437.70" x2="180.05" y2="435.50" stroke="#000" stroke-width="1.25"/>
<line x1="180.05" y1="14.85" x2="180.05" y2="17.05" stroke="#000" stroke-width="1.25"/>
<line x1="201.93" y1="437.70" x2="201.93" y2="435.50" stroke="#000" stroke-width="1.25"/>
<line x1="201.93" y1="14.85" x2="201.93" y2="17.05" stroke="#000" stroke-width="1.25"/>
<line x1="223.82" y1="437.70" x2="223.82" y2="434.00" stroke="#000" stroke-width="1.25"/>
<line x1="223.82" y1="14.85" x2="223.82" y2="18.55" stroke="#000" stroke-width="1.25"/>
<line x1="245.70" y1="437.70" x2="245.70" y2="435.50" stroke="#000" stroke-width="1.25"/>
<line x1="245.70" y1="14.85" x2="245.70" y2="17.05" stroke="#000" stroke-width="1.25"/>
<line x1="267.58" y1="437.70" x2="267.58" y2="435.50" stroke="#000" stroke-width="1.25"/>
<line x1="267.58" y1="14.85" x2="267.58" y2="17.05" stroke="#000" stroke-width="1.25"/>
<line x1="289.47" y1="437.70" x2="289.47" y2="435.50" stroke="#000" stroke-width="1.25"/>
<line x1="289.47" y1="14.85" x2="289.47" y2="17.05" stroke="#000" stroke-width="1.25"/>
<line x1="311.35" y1="437.70" x2="311.35" y2="435.50" stroke="#000" stroke-width="1.25"/>
<line x1="311.35" y1="14.85" x2="311.35" y2="17.05" stroke="#000" stroke-width="1.25"/>
<line x1="333.23" y1="437.70" x2="333.23" y2="434.00" stroke="#000" stroke-width="1.25"/>
<line x1="333.23" y1="14.85" x2="333.23" y2="18.55" stroke="#000" stroke-width="1.25"/>
<line x1="355.12" y1="437.70" x2="355.12" y2="435.50" stroke="#000" stroke-width="1.25"/>
<line x1="355.12" y1="14.85" x2="355.12" y2="17.05" stroke="#000" stroke-width="1.25"/>
<line x1="377.00" y1="437.70" x2="377.00" y2="435.50" stroke="#000" stroke-width="1.25"/>
<line x1="377.00" y1="14.85" x2="377.00" y2="17.05" stroke="#000" stroke-width="1.25"/>
<line x1="398.88" y1="437.70" x2="398.88" y2="435.50" stroke="#000" stroke-width="1.25"/>
<line x1="398.88" y1="14.85" x2="398.88" y2="17.05" stroke="#000" stroke-width="1.25"/>
<line x1="420.77" y1="437.70" x2="420.77" y2="435.50" stroke="#000" stroke-width="1.25"/>
<line x1="420.77" y1="14.85" x2="420.77" y2="17.05" stroke="#000" stroke-width="1.25"/>
<line x1="442.65" y1="437.70" x2="442.65" y2="434.00" stroke="#000" stroke-width="1.25"/>
<line x1="442.65" y1="14.85" x2="442.65" y2="18.55" stroke="#000" stroke-width="1.25"/>
<line x1="464.53" y1="437.70" x2="464.53" y2="435.50" stroke="#000" stroke-width="1.25"/>
<line x1="464.53" y1="14.85" x2="464.53" y2="17.05" stroke="#000" stroke-width="1.25"/>
<line x1="486.42" y1="437.70" x2="486.42" y2="435.50" stroke="#000" stroke-width="1.25"/>
<line x1="486.42" y1="14.85" x2="486.42" y2="17.05" stroke="#000" stroke-width="1.25"/>
<line x1="508.30" y1="437.70" x2="508.30" y2="435.50" stroke="#000" stroke-width="1.25"/>
<line x1="508.30" y1="14.85" x2="508.30" y2="17.05" stroke="#000" stroke-width="1.25"/>
<line x1="530.18" y1="437.70" x2="530.18" y2="435.50" stroke="#000" stroke-width="1.25"/>
<line x1="530.18" y1="14.85" x2="530.18" y2="17.05" stroke="#000" stroke-width="1.25"/>
<line x1="552.07" y1="437.70" x2="552.07" y2="434.00" stroke="#000" stroke-width="1.25"/>
<line x1="552.07" y1="14.85" x2="552.07" y2="18.55" stroke="#000" stroke-width="1.25"/>
<line x1="573.95" y1="437.70" x2="573.95" y2="435.50" stroke="#000" stroke-width="1.25"/>
<line x1="573.95" y1="14.85" x2="573.95" y2="17.05" stroke="#000" stroke-width="1.25"/>
<line x1="595.83" y1="437.70" x2="595.83" y2="435.50" stroke="#000" stroke-width="1.25"/>
<line x1="595.83" y1="14.85" x2="595.83" y2="17.05" stroke="#000" stroke-width="1.25"/>
<line x1="617.72" y1="437.70" x2="617.72" y2="435.50" stroke="#000" stroke-width="1.25"/>
<line x1="617.72" y1="14.85" x2="617.72" y2="17.05" stroke="#000" stroke-width="1.25"/>
<line x1="639.60" y1="437.70" x2="639.60" y2="435.50" stroke="#000" stroke-width="1.25"/>
<line x1="639.60" y1="14.85" x2="639.60" y2="17.05" stroke="#000" stroke-width="1.25"/>
<line x1="661.49" y1="437.70" x2="661.49" y2="434.00" stroke="#000" stroke-width="1.25"/>
<line x1="661.49" y1="14.85" x2="661.49" y2="18.55" stroke="#000" stroke-width="1.25"/>
<line x1="683.37" y1="437.70" x2="683.37" y2="435.50" stroke="#000" stroke-width="1.25"/>
<line x1="683.37" y1="14.85" x2="683.37" y2="17.05" stroke="#000" stroke-width="1.25"/>
<line x1="705.25" y1="437.70" x2="705.25" y2="435.50" stroke="#000" stroke-width="1.25"/>
<line x1="705.25" y1="14.85" x2="705.25" y2="17.05" stroke="#000" stroke-width="1.25"/>
<line x1="727.14" y1="437.70" x2="727.14" y2="435.50" stroke="#000" stroke-width="1.25"/>
<line x1="727.14" y1="14.85" x2="727.14" y2="17.05" stroke="#000" stroke-width="1.25"/>
<line x1="749.02" y1="437.70" x2="749.02" y2="435.50" stroke="#000" stroke-width="1.25"/>
<line x1="749.02" y1="14.85" x2="749.02" y2="17.05" stroke="#000" stroke-width="1.25"/>
<line x1="770.90" y1="437.70" x2="770.90" y2="434.00" stroke="#000" stroke-width="1.25"/>
<line x1="770.90" y1="14.85" x2="770.90" y2="18.55" stroke="#000" stroke-width="1.25"/>
<line x1="100.40" y1="415.99" x2="102.60" y2="415.99" stroke="#000" stroke-width="1.25"/>
<line x1="784.30" y1="415.99" x2="782.10" y2="415.99" stroke="#000" stroke-width="1.25"/>
<line x1="100.40" y1="394.88" x2="102.60" y2="394.88" stroke="#000" stroke-width="1.25"/>
<line x1="784.30" y1="394.88" x2="782.10" y2="394.88" stroke="#000" stroke-width="1.25"/>
<line x1="100.40" y1="373.76" x2="102.60" y2="373.76" stroke="#000" stroke-width="1.25"/>
<line x1="784.30" y1="373.76" x2="782.10" y2="373.76" stroke="#000" stroke-width="1.25"/>
<line x1="100.40" y1="352.65" x2="104.10" y2="352.65" stroke="#000" stroke-width="1.25"/>
<line x1="784.30" y1="352.65" x2="780.60" y2="352.65" stroke="#000" stroke-width="1.25"/>
<line x1="100.40" y1="331.54" x2="102.60" y2="331.54" stroke="#000" stroke-width="1.25"/>
<line x1="784.30" y1="331.54" x2="782.10" y2="331.54" stroke="#000" stroke-width="1.25"/>
<line x1="100.40" y1="310.43" x2="102.60" y2="310.43" stroke="#000" stroke-width="1.25"/>
<line x1="784.30" y1="310.43" x2="782.10" y2="310.43" stroke="#000" stroke-width="1.25"/>
<line x1="100.40" y1="289.31" x2="102.60" y2="289.31" stroke="#000" stroke-width="1.25"/>
<line x1="784.30" y1="289.31" x2="782.10" y2="289.31" stroke="#000" stroke-width="1.25"/>
<line x1="100.40" y1="268.20" x2="104.10" y2="268.20" stroke="#000" stroke-width="1.25"/>
<line x1="784.30" y1="268.20" x2="780.60" y2="268.20" stroke="#000" stroke-width="1.25"/>
<line x1="100.40" y1="247.09" x2="102.60" y2="247.09" stroke="#000" stroke-width="1.25"/>
<line x1="784.30" y1="247.09" x2="782.10" y2="247.09" stroke="#000" stroke-width="1.25"/>
<line x1="100.40" y1="225.98" x2="102.60" y2="225.98" stroke="#000" stroke-width="1.25"/>
<line x1="784.30" y1="225.98" x2="782.10" y2="225.98" stroke="#000" stroke-width="1.25"/>
<line x1="100.40" y1="204.86" x2="102.60" y2="204.86" stroke="#000" stroke-width="1.25"/>
<line x1="784.30" y1="204.86" x2="782.10" y2="204.86" stroke="#000" stroke-width="1.25"/>
<line x1="100.40" y1="183.75" x2="104.10" y2="183.75" stroke="#000" stroke-width="1.25"/>
<line x1="784.30" y1="183.75" x2="780.60" y2="183.75" stroke="#000" stroke-width="1.25"/>
<line x1="100.40" y1="162.64" x2="102.60" y2="162.64" stroke="#000" stroke-width="1.25"/>
<line x1="784.30" y1="162.64" x2="782.10" y2="162.64" stroke="#000" stroke-width="1.25"/>
<line x1="100.40" y1="141.52" x2="102.60" y2="141.52" stroke="#000" stroke-width="1.25"/>
<line x1="784.30" y1="141.52" x2="782.10" y2="141.52" stroke="#000" stroke-width="1.25"/>
<line x1="100.40" y1="120.41" x2="102.60" y2="120.41" stroke="#000" stroke-width="1.25"/>
<line x1="784.30" y1="120.41" x2="782.10" y2="120.41" stroke="#000" stroke-width="1.25"/>
<line x1="100.40" y1="99.30" x2="104.10" y2="99.30" stroke="#000" stroke-width="1.25"/>
<line x1="784.30" y1="99.30" x2="780.60" y2="99.30" stroke="#000" stroke-width="1.25"/>
<line x1="100.40" y1="78.19" x2="102.60" y2="78.19" stroke="#000" stroke-width="1.25"/>
<line x1="784.30" y1="78.19" x2="782.10" y2="78.19" stroke="#000" stroke-width="1.25"/>
<line x1="100.40" y1="57.07" x2="102.60" y2="57.07" stroke="#000" stroke-width="1.25"/>
<line x1="784.30" y1="57.07" x2="782.10" y2="57.07" stroke="#000" stroke-width="1.25"/>
<line x1="100.40" y1="35.96" x2="102.60" y2="35.96" stroke="#000" stroke-width="1.25"/>
<line x1="784.30" y1="35.96" x2="782.10" y2="35.96" stroke="#000" stroke-width="1.25"/>
</g>
<rect x="100.40" y="14.85" width="683.90" height="422.85" fill="none" stroke="#000" stroke-width="1.75"/>
<text class="tk" x="97.4" y="443.4" text-anchor="end">0.0</text>
<text class="tk" x="97.4" y="359.0" text-anchor="end">0.2</text>
<text class="tk" x="97.4" y="274.5" text-anchor="end">0.4</text>
<text class="tk" x="97.4" y="190.0" text-anchor="end">0.6</text>
<text class="tk" x="97.4" y="105.6" text-anchor="end">0.8</text>
<text class="tk" x="97.4" y="21.2" text-anchor="end">1.0</text>
<text class="tk" x="114.4" y="458.2" text-anchor="middle">400</text>
<text class="tk" x="223.8" y="458.2" text-anchor="middle">500</text>
<text class="tk" x="333.2" y="458.2" text-anchor="middle">600</text>
<text class="tk" x="442.7" y="458.2" text-anchor="middle">700</text>
<text class="tk" x="552.1" y="458.2" text-anchor="middle">800</text>
<text class="tk" x="661.5" y="458.2" text-anchor="middle">900</text>
<text class="tk" x="770.9" y="458.2" text-anchor="middle">1000</text>
<text class="lb" x="442.7" y="486.3" text-anchor="middle">Wavelength <tspan font-style="italic">λ</tspan> [nm]</text>
<text class="lb" transform="translate(62.3 226.3) rotate(-90)" text-anchor="middle">Transmission</text>
<line x1="537.00" y1="54.50" x2="573.50" y2="54.50" stroke="#AA0606" stroke-width="1.8"/>
<text class="lg" x="583.0" y="60.8">FORS1 R<tspan font-size="16px" dy="-0.7">−</tspan><tspan dy="0.7">band</tspan></text>
<line x1="537.00" y1="77.30" x2="573.50" y2="77.30" stroke="#0404AC" stroke-width="1.8"/>
<text class="lg" x="583.0" y="83.6">FORS1 V<tspan font-size="16px" dy="-0.7">−</tspan><tspan dy="0.7">band</tspan></text>
<line x1="537.00" y1="102.50" x2="573.50" y2="102.50" stroke="#06AE06" stroke-width="1.8"/>
<text class="lg" x="583.2" y="106.2">FORS2 <tspan font-style="italic">R</tspan><tspan font-size="12.6px" dy="3.6">special</tspan><tspan dy="-3.6"> filter</tspan></text>
<line x1="537.00" y1="128.20" x2="573.50" y2="128.20" stroke="#FF8006" stroke-width="1.8"/>
<text class="lg" x="583.0" y="134.5">RINGO V+R</text>
<line x1="537.00" y1="150.80" x2="573.50" y2="150.80" stroke="#83058A" stroke-width="1.8"/>
<text class="lg" x="583.0" y="157.1">ALFOSC R<tspan font-size="16px" dy="-0.7">−</tspan><tspan dy="0.7">band</tspan></text>
<line x1="537.00" y1="173.60" x2="573.50" y2="173.60" stroke="#ACAC0A" stroke-width="1.8"/>
<text class="lg" x="583.0" y="179.9">EFOSC2 V<tspan font-size="16px" dy="-0.7">−</tspan><tspan dy="0.7">band</tspan></text>
<line x1="537.00" y1="196.40" x2="573.50" y2="196.40" stroke="#A36F3C" stroke-width="1.8"/>
<text class="lg" x="583.0" y="202.7">HOWPol R<tspan font-size="16px" dy="-0.7">−</tspan><tspan dy="0.7">band</tspan></text>
<g clip-path="url(#cb)">
<path class="c" stroke="#AA0606" d="M113.8 578.4L115.0 578.6 116.1 578.9 117.3 579.3 118.4 579.7 119.5 580.1 120.6 580.6 121.7 581.2 122.7 581.8 123.7 582.5 124.7 583.2 125.6 583.9 126.6 584.7 127.5 585.5 128.3 586.3 129.2 587.2 130.0 588.1 130.8 589.0 131.5 589.9 132.3 590.8 133.0 591.8 133.7 592.8 134.4 593.7 135.1 594.7 135.7 595.7 136.4 596.8 137.0 597.8 137.6 598.8 138.2 599.9 138.8 600.9 139.3 602.0 139.9 603.0 140.4 604.1 141.0 605.2 141.5 606.3 142.0 607.3 142.6 608.4 143.1 609.5 143.6 610.6 144.1 611.7 144.5 612.8 145.0 613.9 145.5 615.0 146.0 616.1 146.4 617.2 146.9 618.3 147.3 619.4 147.8 620.6 148.2 621.7 148.6 622.8 149.1 623.9 149.5 625.1 149.9 626.2 150.3 627.3 150.7 628.4 151.1 629.6 151.5 630.7 151.8 631.9 152.2 633.0 152.6 634.1 152.9 635.3 153.3 636.4 153.6 637.6 154.0 638.7 154.3 639.9 154.6 641.1 155.0 642.2 155.3 643.4 155.6 644.5 155.9 645.7 156.2 646.9 156.5 648.0 156.8 649.2 157.1 650.4 157.3 651.5 157.6 652.7 157.9 653.9 158.1 655.0 158.4 656.2 158.7 657.4 159.0 658.5 159.3 659.7 159.6 660.9 159.9 662.0 160.3 663.2 160.7 664.3 161.1 665.4 161.6 666.5 162.1 667.6 162.7 668.6 163.3 669.7 164.1 670.6 164.9 671.5 165.8 672.2 166.9 672.7 168.1 672.7 169.3 672.3 170.4 671.9 171.4 671.3 172.5 670.7 173.5 670.1 174.6 669.5 175.7 669.0 176.8 668.8 178.0 668.7 179.2 668.8 180.4 669.0 181.5 669.5 182.6 670.0 183.6 670.7 184.6 671.4 185.5 672.1 186.4 672.9 187.3 673.7 188.2 674.6 189.0 675.4 189.8 676.3 190.6 677.2 191.5 678.1 192.3 679.0 193.1 679.9 193.9 680.8 194.7 681.7 195.5 682.5 196.3 683.4 197.1 684.3 197.9 685.2 198.7 686.1 199.6 686.9 200.4 687.8 201.3 688.6 202.1 689.5 203.0 690.3 203.9 691.1 204.9 691.8 205.8 692.6 206.8 693.3 207.7 694.0 208.7 694.7 209.8 695.3 210.8 695.9 211.9 696.4 213.0 696.9 214.1 697.4 215.2 697.8 216.3 698.2 217.5 698.7 218.6 699.1 219.7 699.5 220.8 699.9 222.0 700.3 223.1 700.8 224.2 701.2 225.3 701.8 226.3 702.3 227.4 702.9 228.4 703.6 229.3 704.3 230.3 705.0 231.3 705.7 232.2 706.5 233.1 707.2 234.1 708.0 235.0 708.7 235.9 709.5 236.9 710.2 237.9 710.9 238.8 711.6 239.8 712.3 240.8 713.0 241.8 713.6 242.8 714.3 243.9 714.9 244.9 715.5 245.9 716.2 247.0 716.8 248.0 717.4 249.1 717.9 250.1 718.5 251.2 719.1 252.2 719.7 253.3 720.2 254.3 720.8 255.4 721.3 256.5 721.9 257.6 722.4 258.6 723.0 259.7 723.5 260.8 724.0 261.9 724.6 262.9 725.1 264.0 725.6 265.1 726.2 266.2 726.7 267.2 727.2 268.3 727.7 269.4 728.3 270.5 728.8 271.6 729.3 272.6 729.9 273.7 730.4 274.8 731.0 275.8 731.5 276.9 732.0 278.0 732.6 279.1 733.1 280.1 733.7 281.2 734.2 282.3 734.8 283.3 735.4 284.4 735.9 285.4 736.5 286.5 737.1 287.5 737.6 288.6 738.2 289.6 738.8 290.7 739.4 291.7 740.0 292.8 740.6 293.8 741.2 294.9 741.8 295.9 742.4 297.0 743.0 298.0 743.5 299.1 744.1 300.1 744.7 301.2 745.3 302.2 745.8 303.3 746.4 304.3 747.0 305.4 747.5 306.5 748.1 307.6 748.6 308.6 749.1 309.7 749.7 310.8 750.2 311.9 750.7 313.0 751.2 314.1 751.7 315.1 752.2 316.2 752.7 317.3 753.2 318.4 753.7 319.5 754.2 320.6 754.7 321.7 755.2 322.8 755.7 323.9 756.2 325.0 756.6 326.1 757.1 327.2 757.6 328.3 758.1 329.4 758.5 330.5 759.0 331.6 759.5 332.7 760.0 333.8 760.4 334.9 760.9 336.0 761.4 337.2 761.9 338.3 762.3 339.4 762.8 340.5 763.3 341.6 763.8 342.7 764.2 343.8 764.7 344.9 765.2 346.0 765.7 347.0 766.2 348.1 766.7 349.2 767.2 350.3 767.8 351.4 768.3 352.5 768.8 353.5 769.4 354.6 769.9 355.6 770.5 356.7 771.1 357.8 771.7 358.8 772.2 359.8 772.8 360.9 773.4 361.9 774.0 363.0 774.7 364.0 775.3 365.0 775.9 366.0 776.5 367.1 777.1 368.1 777.7 369.1 778.4 370.2 779.0 371.2 779.6 372.2 780.2 373.2 780.9 374.3 781.5 375.3 782.1 376.3 782.7 377.4 783.3 378.4 783.9 379.4 784.5 380.5 785.1 381.5 785.7 382.6 786.3 383.6 786.9 384.7 787.5 385.7 788.1 386.8 788.6 387.8 789.2 388.9 789.7 390.0 790.3 391.1 790.8 392.1 791.3 393.2 791.9 394.3 792.4 395.4 792.9 396.5 793.4 397.6 793.9 398.7 794.4 399.8 794.9 400.9 795.3 402.0 795.8 403.1 796.3 404.2 796.8 405.3 797.3 406.4 797.7 407.5 798.2 408.6 798.7 409.7 799.2 410.8 799.6 411.9 800.1 413.0 800.6 414.1 801.1 415.2 801.6 416.3 802.1 417.4 802.6 418.5 803.1 419.6 803.6 420.6 804.1 421.7 804.6 422.8 805.1 423.9 805.6 425.0 806.1 426.1 806.6 427.2 807.1 428.3 807.6 429.4 808.1 430.5 808.6 431.6 809.1 432.7 809.6 433.8 810.0 434.9 810.5 436.0 810.9 437.1 811.4 438.3 811.8 439.4 812.2 440.5 812.6 441.6 813.0 442.8 813.5 443.9 813.9 445.0 814.4 446.0 815.0 447.1 815.5 448.1 816.2 449.1 816.8 450.1 817.4 451.1 818.1 452.1 818.8 453.1 819.5 454.1 820.1 455.1 820.8 456.1 821.4 457.2 822.1 458.2 822.7 459.2 823.3 460.3 823.8 461.4 824.4 462.5 824.9 463.6 825.4 464.7 825.8 465.8 826.3 466.9 826.8 468.0 827.2 469.1 827.7 470.2 828.1 471.3 828.6 472.4 829.0 473.6 829.5 474.7 829.9 475.8 830.4 476.9 830.8 478.0 831.3 479.1 831.8 480.2 832.2 481.3 832.7 482.5 833.1 483.6 833.6 484.7 834.0 485.8 834.5 486.9 835.0 488.0 835.4 489.1 835.9 490.2 836.4 491.3 836.8 492.4 837.3 493.5 837.8 494.6 838.3 495.7 838.8 496.8 839.3 497.9 839.8 499.0 840.4 500.0 840.9 501.0 841.5 502.0 842.2 503.0 842.9 504.0 843.6 505.0 844.3 506.0 845.0 506.9 845.7 507.9 846.4 508.9 847.1 509.9 847.8 510.9 848.4 511.9 849.1 512.9 849.7 514.0 850.2 515.1 850.7 516.2 851.2 517.3 851.6 518.5 851.9 519.6 852.2 520.8 852.5 522.0 852.7 523.2 852.9 524.3 853.2 525.5 853.5 526.7 853.8 527.8 854.1 529.0 854.6 530.0 855.0 531.1 855.6 532.2 856.2 533.2 856.8 534.2 857.5 535.1 858.2 536.1 858.9 537.0 859.7 538.0 860.5 538.9 861.2 539.8 862.0 540.7 862.8 541.6 863.5 542.6 864.3 543.5 865.0 544.5 865.7 545.5 866.4 546.5 867.0 547.6 867.6 548.7 868.0 549.9 868.4 551.0 868.7 552.2 868.9 553.4 869.1 554.6 869.2 555.8 869.3 557.0 869.4 558.2 869.5 559.4 869.6 560.6 869.8 561.7 870.0 562.9 870.3 564.0 870.8 565.1 871.2 566.2 871.8 567.2 872.4 568.2 873.0 569.3 873.7 570.3 874.3 571.3 875.0 572.3 875.6 573.3 876.2 574.4 876.9 575.4 877.5 576.4 878.1 577.5 878.7 578.5 879.3 579.5 879.9 580.6 880.5 581.6 881.1 582.6 881.7 583.7 882.4 584.7 883.0 585.7 883.6 586.7 884.3 587.7 884.9 588.7 885.6 589.7 886.3 590.7 886.9 591.7 887.6 592.7 888.3 593.6 889.0 594.6 889.7 595.6 890.4 596.6 891.1 597.6 891.7 598.6 892.4 599.7 893.0 600.8 893.5 601.9 894.0 603.0 894.3 604.2 894.6 605.3 894.8 606.5 894.9 607.7 894.8 608.9 894.7 610.1 894.5 611.3 894.3 612.5 894.1 613.7 893.9 614.9 893.8 616.1 893.9 617.3 894.1 618.4 894.4 619.5 894.9 620.5 895.5 621.5 896.2 622.5 897.0 623.3 897.8 624.2 898.6 625.0 899.5 625.8 900.5 626.5 901.4 627.2 902.3 628.0 903.3 628.7 904.3 629.4 905.2 630.1 906.2 630.8 907.2 631.5 908.1 632.3 909.1 633.1 910.0 633.9 910.9 634.7 911.7 635.7 912.4 636.8 912.9 638.0 912.9 639.2 912.6 640.2 912.1 641.2 911.4 642.1 910.6 643.1 909.8 643.9 909.0 644.8 908.2 645.8 907.5 646.7 906.8 647.8 906.2 648.9 905.7 650.1 905.5 651.3 905.5 652.5 905.8 653.6 906.2 654.6 906.8 655.6 907.5 656.5 908.3 657.4 909.1 658.2 910.0 658.9 910.9 659.7 911.9 660.4 912.9 661.0 913.9 661.7 914.9 662.3 915.9 662.9 917.0 663.5 918.0 664.1 919.1 664.6 920.1 665.2 921.2 665.8 922.2 666.4 923.2 667.1 924.3 667.7 925.3 668.4 926.2 669.2 927.1 670.1 928.0 671.1 928.6 672.2 929.1 673.4 929.1 674.6 928.9 675.7 928.4 676.7 927.8 677.8 927.2 678.8 926.6 679.8 925.9 680.8 925.4 681.9 924.9 683.1 924.5 684.2 924.2 685.4 924.1 686.6 924.1 687.8 924.3 689.0 924.6 690.1 925.0 691.3 925.4 692.4 925.8 693.5 926.1 694.7 926.4 695.9 926.7 697.1 926.9 698.2 927.2 699.4 927.4 700.6 927.5 701.8 927.7 703.0 927.9 704.2 928.1 705.3 928.4 706.5 928.7 707.6 929.1 708.7 929.6 709.8 930.2 710.8 930.9 711.7 931.6 712.6 932.5 713.4 933.4 714.1 934.3 714.8 935.3 715.4 936.3 716.0 937.4 716.6 938.4 717.1 939.5 717.7 940.6 718.2 941.6 718.7 942.7 719.2 943.8 719.6 944.9 720.1 946.0 720.6 947.1 721.1 948.2 721.5 949.4 722.0 950.5 722.5 951.5 723.0 952.6 723.6 953.7 724.2 954.7 724.8 955.7 725.6 956.6 726.7 957.2 727.8 957.0 728.7 956.1 729.3 955.1 729.9 954.1 730.5 953.0 731.0 951.9 731.5 950.8 732.0 949.7 732.5 948.7 733.0 947.6 733.5 946.5 734.0 945.4 734.6 944.3 735.2 943.3 735.9 942.3 736.7 941.4 737.5 940.6 738.5 939.8 739.6 939.3 740.7 939.1 741.9 939.1 743.1 939.5 744.1 940.1 745.0 940.9 745.8 941.8 746.5 942.7 747.1 943.8 747.7 944.8 748.2 945.9 748.6 947.1 749.0 948.2 749.4 949.3 749.7 950.5 750.0 951.6 750.3 952.8 750.6 954.0 750.9 955.1 751.2 956.3 751.5 957.5 751.7 958.6 752.0 959.8 752.2 961.0 752.5 962.2 752.8 963.3 753.1 964.5 753.4 965.7 753.7 966.8 754.0 968.0 754.4 969.1 754.8 970.2 755.2 971.4 755.6 972.5 755.9 973.7 756.2 974.8 756.5 976.0M765.5 976.0L765.7 974.8 766.0 973.6 766.3 972.4 766.6 971.2 766.8 970.0 767.1 968.8 767.4 967.6 767.8 966.4 768.1 965.2 768.4 964.0 768.8 962.8 769.1 961.6 769.5 960.5 769.9 959.3 770.4 958.1 770.9 957.0 771.4 955.9"/>
<path class="c" stroke="#0404AC" d="M113.8 578.4L115.0 578.7 116.1 579.0 117.3 579.5 118.4 579.9 119.5 580.5 120.5 581.1 121.5 581.7 122.5 582.4 123.5 583.1 124.4 583.9 125.3 584.7 126.2 585.5 127.1 586.4 127.9 587.3 128.7 588.2 129.4 589.1 130.2 590.1 130.9 591.0 131.6 592.0 132.2 593.0 132.9 594.1 133.5 595.1 134.1 596.1 134.7 597.2 135.3 598.2 135.8 599.3 136.4 600.4 136.9 601.5 137.4 602.6 137.9 603.7 138.4 604.8 138.9 605.9 139.4 607.0 139.8 608.1 140.3 609.2 140.7 610.4 141.2 611.5 141.6 612.6 142.0 613.8 142.4 614.9 142.8 616.0 143.2 617.2 143.6 618.3 144.0 619.5 144.4 620.6 144.8 621.8 145.1 622.9 145.5 624.1 145.8 625.2 146.2 626.4 146.5 627.5 146.9 628.7 147.2 629.9 147.5 631.0 147.8 632.2 148.1 633.4 148.4 634.5 148.7 635.7 149.0 636.9 149.3 638.0 149.6 639.2 149.9 640.4 150.1 641.6 150.4 642.8 150.7 643.9 150.9 645.1 151.2 646.3 151.4 647.5 151.7 648.7 151.9 649.8 152.1 651.0 152.4 652.2 152.6 653.4 152.8 654.6 153.0 655.8 153.3 657.0 153.5 658.2 153.7 659.3 153.9 660.5 154.1 661.7 154.3 662.9 154.5 664.1 154.6 665.3 154.8 666.5 155.0 667.7 155.2 668.9 155.4 670.1 155.5 671.3 155.7 672.5 155.9 673.7 156.0 674.9 156.2 676.1 156.4 677.3 156.5 678.5 156.7 679.7 156.9 680.9 157.0 682.1 157.2 683.2 157.4 684.4 157.5 685.6 157.7 686.8 157.9 688.0 158.1 689.2 158.2 690.4 158.4 691.6 158.6 692.8 158.8 694.0 159.0 695.2 159.2 696.4 159.4 697.6 159.6 698.8 159.9 700.0 160.1 701.1 160.4 702.3 160.7 703.5 161.0 704.7 161.3 705.8 161.8 706.9 162.3 708.0 163.2 708.8L163.6 707.7 163.9 706.5 164.2 705.3 164.5 704.2 164.8 703.0 165.1 701.8 165.4 700.7 165.6 699.5 165.9 698.3 166.2 697.2 166.5 696.0 166.8 694.9 167.1 693.7 167.5 692.5 167.8 691.4 168.1 690.2 168.5 689.1 168.9 687.9 169.3 686.8 169.7 685.7 170.2 684.6 170.7 683.5 171.2 682.4 171.9 681.4 172.6 680.5 173.5 679.7 174.6 679.2 175.8 679.2 176.9 679.7 177.9 680.4 178.8 681.2 179.6 682.1 180.3 683.0 181.0 684.1 181.6 685.1 182.1 686.1 182.7 687.2 183.2 688.3 183.7 689.4 184.2 690.5 184.6 691.6 185.1 692.7 185.5 693.8 186.0 695.0 186.4 696.1 186.8 697.2 187.2 698.3 187.6 699.5 188.1 700.6 188.5 701.7 188.9 702.8 189.3 704.0 189.7 705.1 190.1 706.2 190.6 707.3 191.0 708.5 191.5 709.6 191.9 710.7 192.4 711.8 192.9 712.9 193.4 714.0 193.9 715.1 194.4 716.1 195.0 717.2 195.6 718.2 196.2 719.3 196.9 720.3 197.6 721.2 198.4 722.1 199.2 723.0 200.1 723.8 201.1 724.5 202.1 725.1 203.2 725.7 204.3 726.1 205.4 726.5 206.6 726.7 207.8 726.8 209.0 726.9 210.2 727.0 211.4 727.1 212.6 727.4 213.7 727.7 214.9 728.1 215.9 728.7 216.9 729.5 217.7 730.3 218.6 731.1 219.4 732.1 220.1 733.0 220.8 733.9 221.6 734.9 222.3 735.9 223.0 736.8 223.7 737.8 224.4 738.8 225.1 739.7 225.8 740.7 226.6 741.7 227.3 742.6 228.0 743.6 228.8 744.5 229.6 745.4 230.3 746.3 231.1 747.2 232.0 748.1 232.8 749.0 233.6 749.8 234.5 750.7 235.4 751.5 236.3 752.3 237.2 753.1 238.1 753.9 239.0 754.6 239.9 755.4 240.9 756.2 241.8 756.9 242.7 757.7 243.7 758.4 244.6 759.1 245.6 759.9 246.5 760.6 247.5 761.4 248.4 762.1 249.3 762.9 250.3 763.6 251.2 764.4 252.1 765.1 253.0 765.9 253.9 766.7 254.8 767.6 255.6 768.4 256.5 769.3 257.3 770.2 258.1 771.0 258.9 771.9 259.7 772.8 260.6 773.7 261.4 774.5 262.3 775.3 263.2 776.2 264.0 777.0 264.9 777.8 265.8 778.6 266.7 779.4 267.6 780.2 268.6 781.0 269.5 781.7 270.4 782.5 271.3 783.3 272.2 784.1 273.1 784.8 274.1 785.6 275.0 786.4 275.9 787.1 276.8 787.9 277.8 788.7 278.7 789.5 279.6 790.2 280.5 791.0 281.4 791.8 282.4 792.5 283.3 793.3 284.2 794.1 285.1 794.9 286.0 795.6 286.9 796.4 287.9 797.2 288.8 798.0 289.7 798.8 290.6 799.6 291.5 800.3 292.4 801.1 293.3 801.9 294.2 802.7 295.1 803.5 296.0 804.3 296.9 805.1 297.8 805.9 298.7 806.7 299.6 807.5 300.5 808.3 301.4 809.1 302.3 809.9 303.2 810.7 304.1 811.5 305.0 812.3 305.9 813.1 306.8 813.9 307.7 814.7 308.6 815.5 309.5 816.3 310.4 817.1 311.2 817.9 312.1 818.7 313.0 819.5 313.9 820.3 314.8 821.1 315.7 821.9 316.6 822.7 317.5 823.5 318.4 824.3 319.3 825.1 320.1 826.0 321.0 826.8 321.9 827.6 322.8 828.4 323.7 829.2 324.6 830.0 325.5 830.8 326.4 831.6 327.2 832.4 328.1 833.2 329.0 834.0 329.9 834.9 330.8 835.7 331.7 836.5 332.6 837.3 333.5 838.1 334.4 838.9 335.2 839.7 336.1 840.5 337.0 841.3 337.9 842.1 338.8 842.9 339.7 843.7 340.6 844.5 341.5 845.3 342.4 846.1 343.3 846.9 344.2 847.7 345.1 848.5 346.0 849.3 346.9 850.1 347.8 850.9 348.7 851.7 349.6 852.5 350.5 853.2 351.4 854.0 352.4 854.8 353.3 855.6 354.2 856.3 355.2 857.1 356.1 857.8 357.0 858.6 358.0 859.3 358.9 860.0 359.9 860.8 360.8 861.5 361.8 862.2 362.8 862.9 363.7 863.6 364.7 864.3 365.7 865.1 366.6 865.8 367.6 866.5 368.5 867.3 369.4 868.1 370.3 868.8 371.2 869.6 372.1 870.4 373.0 871.3 373.9 872.1 374.8 872.9 375.6 873.7 376.5 874.6 377.4 875.4 378.2 876.2 379.1 877.1 380.0 877.9 380.8 878.7 381.7 879.6 382.6 880.4 383.5 881.2 384.3 882.0 385.2 882.8 386.1 883.6 387.0 884.4 387.9 885.2 388.8 886.0 389.7 886.8 390.6 887.6 391.5 888.5 392.3 889.3 393.2 890.1 394.1 890.9 394.9 891.8 395.8 892.6 396.6 893.5 397.5 894.3 398.4 895.1 399.3 896.0 400.2 896.7 401.1 897.5 402.0 898.3 403.0 899.0 403.9 899.7 404.9 900.5 405.8 901.2 406.8 901.9 407.8 902.6 408.8 903.3 409.8 904.0 410.8 904.6 411.8 905.3 412.8 906.0 413.8 906.6 414.8 907.3 415.8 907.9 416.8 908.6 417.8 909.2 418.8 909.9 419.8 910.6 420.8 911.3 421.7 912.0 422.7 912.7 423.6 913.4 424.6 914.2 425.5 915.0 426.4 915.8 427.2 916.6 428.1 917.5 428.9 918.4 429.6 919.3 430.3 920.3 431.0 921.3 431.7 922.3 432.3 923.3 432.9 924.4 433.4 925.4 434.0 926.5 434.5 927.6 435.1 928.6 435.6 929.7 436.2 930.8 436.8 931.8 437.4 932.8 438.0 933.9 438.7 934.8 439.4 935.8 440.2 936.8 440.9 937.7 441.7 938.6 442.5 939.5 443.4 940.3 444.2 941.2 445.1 942.0 446.0 942.8 446.9 943.5 447.9 944.3 448.8 945.1 449.8 945.8 450.7 946.5 451.7 947.2 452.7 947.9 453.7 948.6 454.7 949.2 455.7 949.9 456.7 950.5 457.7 951.2 458.7 951.8 459.7 952.5 460.8 953.1 461.8 953.7 462.8 954.4 463.8 955.0 464.8 955.7 465.8 956.4 466.8 957.0 467.8 957.8 468.7 958.5 469.6 959.2 470.5 960.0 471.4 960.9 472.3 961.7 473.1 962.6 473.8 963.5 474.6 964.5 475.2 965.5 475.9 966.5 476.5 967.6 477.0 968.6 477.6 969.7 478.1 970.8 478.6 971.8 479.1 972.9 479.7 974.0 480.3 975.0 481.0 976.0"/>
<path class="c" stroke="#06AE06" d="M113.8 578.4L115.0 578.5 116.2 578.7 117.4 579.0 118.5 579.3 119.7 579.7 120.8 580.2 121.9 580.7 122.9 581.3 124.0 581.9 125.0 582.5 126.0 583.2 127.0 583.9 128.0 584.6 128.9 585.3 129.9 586.1 130.8 586.9 131.7 587.7 132.6 588.5 133.4 589.3 134.3 590.2 135.2 591.0 136.0 591.9 136.8 592.8 137.6 593.7 138.4 594.6 139.1 595.6 139.8 596.6 140.5 597.6 141.1 598.6 141.8 599.7 142.4 600.7 143.0 601.7 143.6 602.8 144.2 603.9 144.7 604.9 145.3 606.0 145.8 607.1 146.4 608.1 146.9 609.2 147.4 610.3 148.0 611.4 148.5 612.5 149.0 613.6 149.4 614.7 149.9 615.8 150.4 616.9 150.8 618.0 151.3 619.2 151.7 620.3 152.2 621.4 152.6 622.6 153.0 623.7 153.4 624.8 153.8 626.0 154.1 627.1 154.5 628.3 154.9 629.4 155.2 630.6 155.6 631.8 155.9 632.9 156.2 634.1 156.5 635.2 156.8 636.4 157.1 637.6 157.4 638.8 157.7 639.9 158.0 641.1 158.3 642.3 158.5 643.5 158.8 644.6 159.1 645.8 159.4 647.0 159.7 648.1 160.0 649.3 160.3 650.5 160.6 651.7 160.8 652.8 161.1 654.0 161.3 655.2 161.5 656.4 161.8 657.6 162.0 658.8 162.2 660.0 162.4 661.2 162.6 662.4 162.8 663.5 162.9 664.7 163.1 665.9 163.3 667.1 163.5 668.3 163.6 669.5 163.8 670.7 164.0 671.9 164.1 673.1 164.3 674.3 164.4 675.5 164.6 676.7 164.7 677.9 164.9 679.1 165.0 680.3 165.2 681.5 165.3 682.7 165.5 683.9 165.6 685.1 165.8 686.3 165.9 687.5 166.0 688.7 166.2 689.9 166.3 691.1 166.5 692.3 166.6 693.5 166.8 694.7 167.0 695.9 167.1 697.1 167.3 698.3 167.4 699.5 167.6 700.7 167.8 701.9 168.0 703.1 168.2 704.3 168.4 705.4 168.6 706.6 168.8 707.8 169.1 709.0 169.4 710.2 169.8 711.3L170.1 710.1 170.4 709.0 170.6 707.8 170.9 706.6 171.1 705.4 171.3 704.2 171.4 703.1 171.6 701.9 171.8 700.7 172.0 699.5 172.1 698.3 172.3 697.1 172.4 695.9 172.6 694.7 172.7 693.5 172.9 692.3 173.1 691.1 173.2 690.0 173.4 688.8 173.5 687.6 173.7 686.4 173.9 685.2 174.0 684.0 174.2 682.8 174.4 681.6 174.5 680.4 174.7 679.2 174.9 678.1 175.1 676.9 175.3 675.7 175.5 674.5 175.7 673.3 176.0 672.1 176.2 671.0 176.4 669.8 176.7 668.6 177.0 667.4 177.3 666.3 177.6 665.1 177.9 664.0 178.2 662.8 178.6 661.7 179.0 660.5 179.4 659.4 179.9 658.3 180.4 657.2 180.9 656.1 181.5 655.1 182.2 654.1 182.9 653.1 183.7 652.2 184.5 651.3 185.4 650.6 186.4 649.9 187.5 649.3 188.6 648.9 189.8 648.6 191.0 648.5 192.2 648.6 193.4 648.8 194.5 649.2 195.6 649.6 196.6 650.2 197.6 650.9 198.6 651.7 199.5 652.5 200.3 653.3 201.1 654.2 201.9 655.1 202.6 656.1 203.3 657.1 204.0 658.1 204.6 659.1 205.3 660.1 205.8 661.2 206.4 662.2 207.0 663.3 207.5 664.4 208.0 665.4 208.5 666.5 209.0 667.6 209.5 668.7 209.9 669.9 210.3 671.0 210.8 672.1 211.2 673.2 211.5 674.4 211.9 675.5 212.3 676.7 212.6 677.8 213.0 679.0 213.3 680.1 213.6 681.3 213.9 682.4 214.2 683.6 214.5 684.8 214.8 685.9 215.1 687.1 215.3 688.3 215.6 689.5 215.8 690.6 216.1 691.8 216.3 693.0 216.5 694.2 216.7 695.4 217.0 696.5 217.2 697.7 217.4 698.9 217.6 700.1 217.8 701.3 218.0 702.5 218.2 703.7 218.4 704.8 218.6 706.0 218.8 707.2 219.0 708.4 219.1 709.6 219.3 710.8 219.5 712.0 219.7 713.1 219.9 714.3 220.1 715.5 220.3 716.7 220.5 717.9 220.7 719.1 220.9 720.3 221.1 721.4 221.4 722.6 221.6 723.8 221.8 725.0 222.1 726.1 222.4 727.3 222.7 728.5 223.0 729.6 223.4 730.8 223.8 731.9L224.3 730.8 224.7 729.7 225.0 728.5 225.3 727.3 225.6 726.2 225.9 725.0 226.2 723.8 226.4 722.7 226.7 721.5 226.9 720.3 227.1 719.1 227.4 717.9 227.6 716.8 227.8 715.6 228.1 714.4 228.3 713.2 228.5 712.0 228.8 710.9 229.0 709.7 229.3 708.5 229.5 707.3 229.8 706.2 230.0 705.0 230.3 703.8 230.6 702.6 230.9 701.5 231.2 700.3 231.5 699.2 231.9 698.0 232.2 696.9 232.6 695.7 233.0 694.6 233.4 693.4 233.8 692.3 234.3 691.2 234.8 690.1 235.3 689.0 235.9 688.0 236.5 686.9 237.1 685.9 237.8 684.9 238.6 684.0 239.4 683.1 240.3 682.3 241.2 681.5 242.2 680.9 243.3 680.3 244.4 679.9 245.6 679.6 246.7 679.4 247.9 679.4 249.1 679.6 250.3 679.9 251.4 680.4 252.5 680.9 253.5 681.6 254.4 682.3 255.3 683.1 256.1 684.0 256.9 685.0 257.6 685.9 258.3 686.9 258.9 687.9 259.5 689.0 260.1 690.0 260.6 691.1 261.1 692.2 261.6 693.3 262.1 694.4 262.5 695.5 263.0 696.7 263.4 697.8 263.8 698.9 264.2 700.0 264.6 701.2 264.9 702.3 265.3 703.5 265.7 704.6 266.0 705.8 266.4 706.9 266.7 708.1 267.1 709.2 267.4 710.4 267.7 711.5 268.0 712.7 268.4 713.9 268.7 715.0 269.0 716.2 269.3 717.3 269.7 718.5 270.0 719.7 270.3 720.8 270.6 722.0 270.9 723.1 271.3 724.3 271.6 725.5 271.9 726.6 272.2 727.8 272.6 728.9 272.9 730.1 273.3 731.2 273.6 732.4 274.0 733.5 274.4 734.7 274.8 735.8 275.2 736.9 275.6 738.1 276.0 739.2 276.5 740.3 277.0 741.4 277.6 742.4 278.3 743.4L279.0 742.5 279.6 741.4 280.1 740.3 280.6 739.2 281.0 738.1 281.4 736.9 281.7 735.8 282.1 734.6 282.4 733.5 282.7 732.3 283.0 731.1 283.4 730.0 283.7 728.8 284.0 727.7 284.3 726.5 284.7 725.4 285.0 724.2 285.4 723.0 285.7 721.9 286.1 720.8 286.5 719.6 286.9 718.5 287.4 717.4 287.9 716.3 288.4 715.2 288.9 714.1 289.5 713.1 290.2 712.1 290.9 711.1 291.6 710.2 292.5 709.3 293.4 708.5 294.3 707.7 295.3 707.1 296.4 706.5 297.5 706.1 298.7 705.8 299.9 705.7 301.1 705.7 302.3 705.8 303.4 706.1 304.6 706.6 305.6 707.1 306.6 707.8 307.6 708.6 308.4 709.4 309.3 710.3 310.1 711.2 310.8 712.1 311.5 713.1 312.2 714.1 312.8 715.1 313.5 716.1 314.1 717.2 314.7 718.2 315.2 719.3 315.8 720.3 316.3 721.4 316.8 722.5 317.3 723.6 317.8 724.7 318.2 725.8 318.7 727.0 319.1 728.1 319.5 729.2 319.9 730.3 320.3 731.5 320.7 732.6 321.1 733.8 321.4 734.9 321.8 736.1 322.2 737.2 322.5 738.4 322.9 739.5 323.2 740.6 323.6 741.8 324.0 742.9 324.3 744.1 324.7 745.2 325.0 746.4 325.4 747.5 325.8 748.7 326.1 749.8 326.5 751.0 326.9 752.1 327.3 753.2 327.8 754.4 328.2 755.5 328.7 756.6 329.3 757.6 330.0 758.6L330.6 757.6 331.2 756.5 331.7 755.4 332.2 754.3 332.7 753.2 333.2 752.1 333.7 751.0 334.2 749.9 334.7 748.8 335.2 747.7 335.6 746.6 336.1 745.5 336.7 744.4 337.2 743.3 337.7 742.2 338.2 741.1 338.8 740.1 339.4 739.0 340.0 738.0 340.6 736.9 341.2 735.9 341.9 734.9 342.6 733.9 343.3 733.0 344.1 732.1 345.0 731.2 345.9 730.5 346.9 729.8 348.0 729.2 349.1 728.7 350.2 728.4 351.4 728.3 352.6 728.3 353.8 728.4 355.0 728.7 356.1 729.2 357.2 729.8 358.2 730.4 359.1 731.2 360.0 732.0 360.8 732.9 361.6 733.8 362.3 734.8 363.0 735.8 363.6 736.8 364.2 737.9 364.8 738.9 365.3 740.0 365.8 741.1 366.3 742.2 366.8 743.3 367.2 744.4 367.7 745.6 368.1 746.7 368.5 747.8 368.9 749.0 369.3 750.1 369.6 751.3 370.0 752.4 370.4 753.6 370.7 754.7 371.0 755.9 371.4 757.1 371.7 758.2 372.0 759.4 372.3 760.5 372.6 761.7 372.9 762.9 373.2 764.1 373.5 765.2 373.8 766.4 374.1 767.6 374.3 768.8 374.6 769.9 374.8 771.1 375.1 772.3 375.3 773.5 375.6 774.7 375.8 775.8 376.0 777.0 376.3 778.2 376.5 779.4 376.7 780.6 376.9 781.8 377.2 783.0 377.4 784.1 377.6 785.3 377.8 786.5 378.0 787.7 378.2 788.9 378.4 790.1 378.6 791.3 378.8 792.5 379.0 793.7 379.1 794.9 379.3 796.0 379.5 797.2 379.7 798.4 379.9 799.6 380.1 800.8 380.2 802.0 380.4 803.2 380.6 804.4 380.8 805.6 381.0 806.8 381.1 808.0 381.3 809.2 381.5 810.4 381.7 811.6 381.9 812.8 382.0 813.9 382.2 815.1 382.4 816.3 382.6 817.5 382.8 818.7 383.0 819.9L383.2 818.7 383.5 817.5 383.7 816.4 383.9 815.2 384.1 814.0 384.3 812.8 384.5 811.6 384.7 810.4 384.8 809.2 385.0 808.0 385.2 806.8 385.3 805.7 385.5 804.5 385.6 803.3 385.8 802.1 385.9 800.9 386.1 799.7 386.3 798.5 386.4 797.3 386.6 796.1 386.7 794.9 386.9 793.7 387.0 792.5 387.2 791.3 387.4 790.2 387.5 789.0 387.7 787.8 387.9 786.6 388.1 785.4 388.3 784.2 388.5 783.0 388.7 781.8 388.9 780.7 389.1 779.5 389.3 778.3 389.5 777.1 389.8 775.9 390.0 774.8 390.3 773.6 390.6 772.4 390.9 771.2 391.2 770.1 391.5 768.9 391.8 767.8 392.2 766.6 392.5 765.5 392.9 764.3 393.3 763.2 393.8 762.1 394.2 761.0 394.7 759.9 395.2 758.8 395.8 757.7 396.4 756.7 397.0 755.6 397.7 754.6 398.4 753.7 399.1 752.7 400.0 751.8 400.8 751.0 401.8 750.3 402.8 749.6 403.9 749.1 405.0 748.7 406.2 748.6 407.4 748.7 408.6 748.9 409.7 749.4 410.7 750.0 411.7 750.7 412.6 751.5 413.5 752.3 414.3 753.2 415.1 754.1 415.8 755.0 416.6 756.0 417.2 757.0 417.9 758.0 418.5 759.0 419.1 760.1 419.7 761.1 420.2 762.2 420.7 763.3 421.2 764.4 421.7 765.5 422.2 766.6 422.7 767.7 423.2 768.8 423.6 769.9 424.1 771.0 424.6 772.1 425.1 773.2 425.6 774.3 426.1 775.4 426.7 776.5 427.2 777.5 427.8 778.6 428.4 779.6 429.1 780.6 429.8 781.6 430.6 782.5 431.5 783.3 432.5 783.9 433.7 784.2 434.9 784.2 436.0 783.8 437.0 783.1 437.9 782.3 438.7 781.4 439.5 780.5 440.2 779.5 440.8 778.5 441.4 777.5 442.0 776.4 442.6 775.4 443.2 774.3 443.8 773.3 444.5 772.3 445.1 771.2 445.7 770.2 446.4 769.2 447.1 768.2 447.8 767.3 448.5 766.3 449.3 765.4 450.2 764.6 451.1 763.8 452.1 763.2 453.2 762.6 454.3 762.2 455.5 761.9 456.7 761.7 457.9 761.7 459.1 761.8 460.3 761.9 461.4 762.2 462.6 762.6 463.7 763.1 464.7 763.7 465.7 764.4 466.7 765.1 467.6 765.9 468.5 766.7 469.3 767.6 470.1 768.5 470.8 769.5 471.5 770.4 472.2 771.4 472.9 772.4 473.5 773.4 474.2 774.4 474.8 775.5 475.4 776.5 476.0 777.6 476.6 778.6 477.2 779.6 477.8 780.7 478.4 781.7 479.1 782.7 479.7 783.8 480.3 784.8 481.0 785.8 481.7 786.8 482.4 787.7 483.2 788.7 484.0 789.6 484.8 790.4 485.8 791.1 486.8 791.7 488.0 792.1 489.1 792.2 490.3 792.0 491.4 791.6 492.5 791.0 493.5 790.3 494.4 789.5 495.3 788.7 496.2 787.9 497.0 787.0 497.9 786.2 498.7 785.3 499.6 784.5 500.4 783.7 501.3 782.8 502.2 782.1 503.2 781.3 504.1 780.6 505.1 779.9 506.2 779.3 507.2 778.8 508.4 778.4 509.5 778.1 510.7 778.1 511.9 778.2 513.1 778.6 514.2 779.1 515.2 779.7 516.2 780.3 517.2 781.1 518.1 781.9 518.9 782.7 519.8 783.6 520.6 784.5 521.4 785.4 522.2 786.3 522.9 787.2 523.7 788.2 524.4 789.1 525.1 790.1 525.9 791.0 526.6 792.0 527.3 792.9 528.1 793.9 528.8 794.8 529.5 795.8 530.3 796.7 531.0 797.7 531.8 798.6 532.6 799.5 533.4 800.4 534.2 801.3 535.0 802.2 535.9 803.0 536.8 803.7 537.8 804.4 538.9 805.0 540.0 805.5 541.1 805.8 542.3 805.9 543.5 805.9 544.7 805.6 545.9 805.3 547.0 804.8 548.1 804.3 549.1 803.7 550.1 803.1 551.2 802.4 552.2 801.8 553.2 801.1 554.2 800.5 555.2 799.8 556.2 799.2 557.3 798.6 558.3 798.1 559.4 797.6 560.6 797.2 561.7 796.9 562.9 796.8 564.1 796.9 565.3 797.1 566.5 797.5 567.6 798.0 568.6 798.5 569.6 799.2 570.6 799.9 571.5 800.7 572.4 801.5 573.3 802.3 574.2 803.1 575.0 804.0 575.8 804.8 576.7 805.7 577.5 806.6 578.3 807.5 579.1 808.4 579.9 809.3 580.7 810.2 581.5 811.1 582.3 812.0 583.1 812.9 583.9 813.7 584.8 814.6 585.6 815.5 586.4 816.3 587.3 817.2 588.2 818.0 589.1 818.7 590.1 819.5 591.1 820.1 592.2 820.6 593.3 821.1 594.5 821.3 595.7 821.4 596.9 821.2 598.1 820.9 599.2 820.5 600.3 820.1 601.4 819.5 602.4 819.0 603.5 818.4 604.6 817.9 605.6 817.3 606.7 816.7 607.8 816.2 608.9 815.8 610.0 815.4 611.2 815.0 612.4 814.8 613.6 814.7 614.8 814.6 616.0 814.7 617.1 814.9 618.3 815.2 619.5 815.6 620.6 816.0 621.6 816.6 622.7 817.2 623.6 817.9 624.6 818.6 625.5 819.4 626.4 820.2 627.3 821.0 628.2 821.8 629.0 822.7 629.9 823.6 630.7 824.4 631.5 825.3 632.3 826.2 633.2 827.1 634.0 828.0 634.8 828.8 635.6 829.7 636.5 830.6 637.3 831.4 638.2 832.2 639.1 833.0 640.0 833.8 641.0 834.6 641.9 835.2 643.0 835.9 644.0 836.4 645.1 836.9 646.3 837.3 647.5 837.5 648.6 837.7 649.9 837.7 651.0 837.6 652.2 837.4 653.4 837.1 654.6 836.8 655.7 836.4 656.9 836.1 658.0 835.7 659.2 835.4 660.3 835.1 661.5 834.8 662.7 834.5 663.9 834.4 665.1 834.3 666.3 834.2 667.5 834.3 668.7 834.5 669.8 834.8 671.0 835.1 672.1 835.6 673.2 836.1 674.2 836.7 675.2 837.3 676.2 838.0 677.2 838.7 678.1 839.5 679.1 840.2 680.0 841.0 680.9 841.8 681.8 842.6 682.7 843.4 683.6 844.2 684.5 845.0 685.4 845.8 686.3 846.6 687.2 847.4 688.1 848.2 689.1 848.9 690.0 849.6 691.0 850.3 692.0 851.0 693.0 851.6 694.1 852.2 695.2 852.7 696.3 853.1 697.5 853.5 698.6 853.7 699.8 853.9 701.0 853.9 702.2 853.9 703.4 853.7 704.6 853.5 705.8 853.3 707.0 853.0 708.1 852.7 709.3 852.4 710.5 852.1 711.6 851.8 712.8 851.6 714.0 851.4 715.2 851.3 716.4 851.2 717.6 851.3 718.8 851.4 720.0 851.7 721.1 852.0 722.3 852.4 723.4 852.8 724.5 853.3 725.5 853.9 726.6 854.5 727.6 855.1 728.6 855.8 729.6 856.4 730.6 857.1 731.6 857.9 732.5 858.6 733.5 859.3 734.4 860.0 735.4 860.8 736.3 861.5 737.3 862.3 738.2 863.0 739.2 863.7 740.2 864.4 741.2 865.1 742.2 865.8 743.2 866.4 744.2 867.0 745.3 867.6 746.4 868.1 747.5 868.6 748.6 869.0 749.7 869.3 750.9 869.6 752.1 869.8 753.3 870.0 754.5 870.1 755.7 870.2 756.9 870.2 758.1 870.2 759.3 870.1 760.5 870.0 761.7 869.9 762.9 869.8 764.1 869.6 765.3 869.5 766.5 869.3 767.6 869.1 768.8 868.9 770.0 868.7 771.2 868.5"/>
<path class="c" stroke="#FF8006" d="M113.8 578.4L114.9 578.9 115.9 579.5 116.9 580.2 117.8 581.0 118.7 581.8 119.5 582.7 120.3 583.7 121.0 584.7 121.6 585.7 122.2 586.7 122.8 587.8 123.3 588.9 123.8 589.9 124.3 591.1 124.8 592.2 125.2 593.3 125.6 594.4 126.0 595.6 126.3 596.7 126.7 597.9 127.0 599.1 127.3 600.2 127.7 601.4 128.0 602.6 128.2 603.7 128.5 604.9 128.8 606.1 129.1 607.2 129.3 608.4 129.6 609.6 129.8 610.8 130.1 612.0 130.3 613.2 130.5 614.3 130.8 615.5 131.0 616.7 131.2 617.9 131.4 619.1 131.6 620.3 131.8 621.5 132.0 622.7 132.2 623.8 132.4 625.0 132.5 626.2 132.7 627.4 132.9 628.6 133.1 629.8 133.2 631.0 133.4 632.2 133.5 633.4 133.7 634.6 133.8 635.8 134.0 637.0 134.1 638.2 134.3 639.4 134.4 640.6 134.5 641.8 134.7 643.0 134.8 644.2 134.9 645.4 135.1 646.6 135.2 647.8 135.3 649.0 135.4 650.2 135.6 651.4 135.7 652.6 135.8 653.8 135.9 655.0 136.0 656.2 136.1 657.4 136.2 658.6 136.3 659.8 136.4 661.0 136.5 662.2 136.6 663.4 136.7 664.6 136.8 665.8 136.9 667.0 137.0 668.2 137.1 669.4 137.1 670.6 137.2 671.8 137.3 673.0 137.4 674.2 137.4 675.5 137.5 676.7 137.6 677.9 137.6 679.1 137.7 680.3 137.7 681.5 137.8 682.7 137.9 683.9 137.9 685.1 138.0 686.3 138.0 687.5 138.1 688.7 138.1 689.9 138.2 691.1 138.2 692.3 138.3 693.5 138.3 694.7 138.4 695.9 138.4 697.2 138.4 698.4 138.5 699.6 138.5 700.8 138.6 702.0 138.6 703.2 138.7 704.4 138.7 705.6 138.7 706.8 138.8 708.0 138.8 709.2 138.9 710.4 138.9 711.6 138.9 712.8 139.0 714.0 139.0 715.2 139.1 716.4 139.1 717.7 139.1 718.9 139.2 720.1 139.2 721.3 139.2 722.5 139.3 723.7 139.3 724.9 139.4 726.1 139.4 727.3 139.4 728.5 139.5 729.7 139.5 730.9 139.5 732.1 139.6 733.3 139.6 734.5 139.6 735.7 139.7 737.0 139.7 738.2 139.7 739.4 139.8 740.6 139.8 741.8 139.8 743.0 139.9 744.2 139.9 745.4 139.9 746.6 139.9 747.8 140.0 749.0 140.0 750.2 140.0 751.4 140.1 752.6 140.1 753.8 140.1 755.0 140.1 756.3 140.2 757.5 140.2 758.7 140.2 759.9 140.2 761.1 140.2 762.3 140.3 763.5 140.3 764.7 140.3 765.9 140.3 767.1 140.3 768.3 140.4 769.5 140.4 770.7 140.4 771.9 140.4 773.1 140.4 774.4 140.4 775.6 140.5 776.8 140.5 778.0 140.5 779.2 140.5 780.4 140.5 781.6 140.5 782.8L140.5 781.6 140.5 780.4 140.5 779.2 140.5 778.0 140.5 776.8 140.5 775.6 140.5 774.4 140.6 773.2 140.6 772.0 140.6 770.9 140.6 769.7 140.6 768.5 140.6 767.3 140.7 766.1 140.7 764.9 140.7 763.7 140.7 762.5 140.8 761.3 140.8 760.1 140.8 758.9 140.9 757.7 140.9 756.5 140.9 755.3 141.0 754.1 141.0 752.9 141.0 751.7 141.1 750.6 141.1 749.4 141.2 748.2 141.2 747.0 141.3 745.8 141.3 744.6 141.3 743.4 141.4 742.2 141.4 741.0 141.5 739.8 141.5 738.6 141.6 737.4 141.6 736.2 141.7 735.0 141.7 733.8 141.8 732.7 141.8 731.5 141.9 730.3 141.9 729.1 142.0 727.9 142.0 726.7 142.1 725.5 142.1 724.3 142.2 723.1 142.2 721.9 142.3 720.7 142.3 719.5 142.4 718.3 142.4 717.1 142.5 715.9 142.5 714.8 142.6 713.6 142.6 712.4 142.7 711.2 142.7 710.0 142.8 708.8 142.8 707.6 142.9 706.4 143.0 705.2 143.0 704.0 143.1 702.8 143.2 701.6 143.2 700.4 143.3 699.2 143.4 698.0 143.4 696.9 143.5 695.7 143.6 694.5 143.7 693.3 143.8 692.1 143.9 690.9 144.0 689.7 144.1 688.5 144.2 687.3 144.4 686.1 144.5 685.0 144.7 683.8 144.8 682.6 145.0 681.4 145.2 680.2 145.4 679.1 145.6 677.9 145.8 676.7 146.1 675.5 146.3 674.4 146.6 673.2 147.0 672.1 147.4 670.9 147.9 669.8 148.5 668.8 149.4 668.1 150.4 668.4 151.2 669.4 151.7 670.4 152.2 671.5 152.6 672.6 153.0 673.8 153.4 674.9 153.7 676.1 154.0 677.2 154.3 678.4 154.6 679.5 154.9 680.7 155.1 681.9 155.4 683.0 155.6 684.2 155.9 685.4 156.1 686.5 156.3 687.7 156.6 688.9 156.8 690.1 157.0 691.2 157.2 692.4 157.4 693.6 157.6 694.8 157.8 695.9 158.0 697.1 158.2 698.3 158.4 699.5 158.6 700.7 158.8 701.8 159.0 703.0 159.2 704.2 159.3 705.4 159.5 706.6 159.7 707.7 159.9 708.9 160.1 710.1 160.3 711.3 160.5 712.4 160.7 713.6 161.0 714.8 161.2 716.0 161.4 717.1 161.6 718.3 161.9 719.5 162.1 720.7 162.4 721.8 162.6 723.0 162.9 724.1 163.2 725.3 163.5 726.5 163.8 727.6 164.2 728.8 164.6 729.9 165.0 731.0L165.4 729.8 165.7 728.7 166.1 727.5 166.4 726.4 166.8 725.2 167.1 724.0 167.5 722.9 167.9 721.7 168.3 720.6 168.7 719.4 169.2 718.3 169.8 717.3 170.5 716.3 171.5 715.5 172.6 715.2 173.8 715.4 174.8 716.1 175.7 716.9 176.4 717.9 177.0 719.0 177.6 720.0 178.1 721.1 178.5 722.3 179.0 723.4 179.4 724.5 179.8 725.7 180.2 726.8 180.5 728.0 180.9 729.2 181.2 730.3 181.6 731.5 181.9 732.7 182.2 733.8 182.6 735.0 182.9 736.2 183.2 737.3 183.6 738.5 183.9 739.7 184.3 740.8 184.7 742.0 185.0 743.1 185.5 744.3 185.9 745.4 186.4 746.5 187.0 747.6 187.6 748.6 188.4 749.5 189.4 750.2L190.1 749.2 190.9 748.3 191.8 747.5 192.9 747.0 194.0 746.7 195.2 747.0 196.2 747.6 197.1 748.4 197.9 749.4 198.6 750.3 199.2 751.4 199.7 752.5 200.2 753.6 200.7 754.7 201.1 755.8 201.6 756.9 202.0 758.0 202.3 759.2 202.7 760.3 203.0 761.5 203.3 762.7 203.7 763.8 203.9 765.0 204.2 766.2 204.5 767.3 204.8 768.5 205.0 769.7 205.3 770.9 205.5 772.0 205.8 773.2 206.0 774.4 206.2 775.6 206.4 776.8 206.7 778.0 206.9 779.1 207.1 780.3 207.3 781.5 207.5 782.7 207.7 783.9 207.9 785.1 208.1 786.3 208.3 787.4 208.5 788.6 208.7 789.8 208.9 791.0 209.1 792.2 209.3 793.4 209.5 794.6 209.8 795.8 210.0 796.9 210.2 798.1 210.5 799.3 210.7 800.5 210.9 801.7 211.2 802.8 211.5 804.0 211.8 805.2 212.1 806.3 212.4 807.5L212.7 806.3 213.0 805.2 213.2 804.0 213.5 802.8 213.7 801.7 213.9 800.5 214.2 799.3 214.4 798.1 214.6 797.0 214.9 795.8 215.1 794.6 215.4 793.5 215.6 792.3 215.9 791.1 216.1 790.0 216.4 788.8 216.7 787.6 217.0 786.5 217.3 785.3 217.6 784.2 218.0 783.0 218.3 781.9 218.7 780.8 219.2 779.6 219.7 778.6 220.2 777.5 220.9 776.5 221.8 775.7 222.9 775.3 224.1 775.5 225.0 776.2 225.7 777.2 226.3 778.2 226.8 779.3 227.2 780.4 227.6 781.6 227.9 782.7 228.2 783.9 228.5 785.1 228.7 786.2 229.0 787.4 229.2 788.6 229.4 789.7 229.6 790.9 229.8 792.1 230.0 793.3 230.2 794.5 230.3 795.7 230.5 796.8 230.7 798.0 230.8 799.2 231.0 800.4 231.1 801.6 231.2 802.8 231.4 804.0 231.5 805.1 231.7 806.3 231.8 807.5 231.9 808.7 232.0 809.9 232.2 811.1 232.3 812.3 232.4 813.5 232.5 814.7 232.7 815.8 232.8 817.0 232.9 818.2 233.0 819.4 233.2 820.6 233.3 821.8 233.4 823.0 233.5 824.2 233.6 825.4 233.8 826.6 233.9 827.7 234.0 828.9 234.1 830.1 234.2 831.3 234.3 832.5 234.4 833.7 234.5 834.9 234.7 836.1 234.8 837.3 234.9 838.5 234.9 839.7 235.0 840.9 235.1 842.0 235.2 843.2 235.3 844.4 235.4 845.6 235.5 846.8 235.6 848.0 235.6 849.2 235.7 850.4L235.8 849.2 235.9 848.0 236.0 846.8 236.1 845.6 236.2 844.4 236.3 843.2 236.4 842.0 236.5 840.8 236.5 839.7 236.6 838.5 236.7 837.3 236.8 836.1 236.9 834.9 237.0 833.7 237.0 832.5 237.1 831.3 237.2 830.1 237.3 828.9 237.4 827.7 237.4 826.5 237.5 825.3 237.6 824.1 237.7 822.9 237.8 821.7 237.9 820.5 238.0 819.3 238.1 818.2 238.2 817.0 238.3 815.8 238.4 814.6 238.5 813.4 238.6 812.2 238.7 811.0 238.9 809.8 239.0 808.6 239.1 807.4 239.3 806.2 239.4 805.0 239.6 803.9 239.7 802.7 239.9 801.5 240.1 800.3 240.3 799.1 240.5 797.9 240.7 796.8 241.0 795.6 241.2 794.4 241.5 793.3 241.8 792.1 242.1 790.9 242.5 789.8 242.9 788.7 243.5 787.6 244.1 786.6 245.0 785.8 246.1 785.4 247.2 785.9 248.0 786.8 248.6 787.8 249.1 788.9 249.6 790.0 250.0 791.1 250.3 792.3 250.7 793.4 251.0 794.6 251.3 795.7 251.6 796.9 251.8 798.1 252.1 799.2 252.3 800.4 252.6 801.6 252.8 802.8 253.0 803.9 253.3 805.1 253.5 806.3 253.7 807.5 253.9 808.6 254.1 809.8 254.4 811.0 254.6 812.2 254.8 813.3 255.0 814.5 255.3 815.7 255.5 816.9 255.8 818.0 256.1 819.2 256.4 820.4 256.7 821.5 257.2 822.6L257.5 821.4 257.8 820.3 258.1 819.1 258.4 817.9 258.7 816.8 259.0 815.6 259.3 814.4 259.6 813.3 259.9 812.1 260.2 810.9 260.5 809.8 260.8 808.6 261.1 807.5 261.4 806.3 261.7 805.1 262.1 804.0 262.4 802.8 262.8 801.7 263.2 800.6 263.6 799.4 264.0 798.3 264.5 797.2 265.0 796.1 265.6 795.1 266.3 794.1 267.2 793.3 268.3 792.9 269.4 793.4 270.2 794.3 270.8 795.3 271.4 796.4 272.0 797.4 272.5 798.5 273.1 799.6 273.6 800.7 274.1 801.7 274.7 802.8 275.3 803.9 275.9 804.9 276.6 805.9 277.4 806.8 278.3 807.5 279.3 808.1 280.5 808.5 281.7 808.7 282.9 808.7 284.1 808.6 285.3 808.6 286.4 809.0 287.4 809.6 288.3 810.5 289.0 811.4 289.6 812.5 290.1 813.5 290.6 814.6 291.0 815.8 291.4 816.9 291.8 818.1 292.1 819.2 292.4 820.4 292.7 821.5 292.9 822.7 293.2 823.9 293.4 825.1 293.7 826.3 293.9 827.4 294.1 828.6 294.3 829.8 294.5 831.0 294.7 832.2 294.9 833.4 295.1 834.5 295.3 835.7 295.5 836.9 295.7 838.1 295.9 839.3 296.1 840.5 296.2 841.7 296.4 842.9 296.6 844.0 296.7 845.2 296.9 846.4 297.1 847.6 297.2 848.8 297.4 850.0 297.5 851.2 297.7 852.4 297.9 853.6 298.0 854.8 298.1 856.0 298.3 857.2 298.4 858.4 298.6 859.5 298.7 860.7 298.8 861.9 298.9 863.1 299.1 864.3 299.2 865.5 299.3 866.7 299.4 867.9 299.5 869.1 299.7 870.3 299.8 871.5 299.9 872.7 300.0 873.9 300.1 875.1 300.2 876.3 300.3 877.5 300.4 878.7 300.4 879.9 300.5 881.1 300.6 882.3 300.7 883.5 300.8 884.7 300.8 885.9 300.9 887.1 301.0 888.3 301.0 889.5 301.1 890.7 301.1 891.9 301.2 893.1 301.2 894.3L301.3 893.1 301.3 891.9 301.4 890.7 301.5 889.5 301.6 888.3 301.7 887.1 301.8 885.9 301.9 884.7 302.0 883.5 302.1 882.3 302.2 881.1 302.3 879.9 302.4 878.7 302.5 877.5 302.7 876.3 302.8 875.1 302.9 873.9 303.1 872.7 303.2 871.6 303.4 870.4 303.5 869.2 303.7 868.0 303.8 866.8 304.0 865.6 304.1 864.4 304.3 863.2 304.5 862.0 304.6 860.8 304.8 859.6 304.9 858.4 305.1 857.2 305.3 856.1 305.4 854.9 305.6 853.7 305.7 852.5 305.9 851.3 306.0 850.1 306.2 848.9 306.4 847.7 306.5 846.5 306.7 845.3 306.9 844.1 307.1 843.0 307.2 841.8 307.4 840.6 307.6 839.4 307.8 838.2 308.1 837.0 308.3 835.8 308.5 834.7 308.8 833.5 309.0 832.3 309.3 831.1 309.6 830.0 309.9 828.8 310.2 827.7 310.6 826.5 311.0 825.4 311.4 824.3 311.9 823.1 312.4 822.1 312.9 821.0 313.6 820.0 314.3 819.0 315.1 818.1 316.1 817.4 317.2 817.0 318.4 817.2 319.4 817.8 320.3 818.6 321.0 819.6 321.6 820.6 322.2 821.7 322.7 822.8 323.1 823.9 323.5 825.0 323.9 826.2 324.3 827.3 324.6 828.5 324.9 829.6 325.2 830.8 325.4 832.0 325.7 833.2 325.9 834.3 326.1 835.5 326.3 836.7 326.5 837.9 326.7 839.1 326.9 840.3 327.1 841.5 327.2 842.6 327.4 843.8 327.5 845.0 327.7 846.2 327.8 847.4 327.9 848.6 328.1 849.8 328.2 851.0 328.3 852.2 328.4 853.4 328.5 854.6 328.6 855.8 328.7 857.0 328.8 858.2 328.9 859.4 329.0 860.6 329.1 861.8 329.2 863.0 329.3 864.2 329.4 865.4 329.5 866.6 329.6 867.8 329.7 869.0 329.7 870.2 329.8 871.4 329.9 872.6 330.0 873.8 330.0 875.0 330.1 876.2 330.2 877.4 330.2 878.6 330.3 879.8 330.4 881.0 330.4 882.2 330.5 883.4 330.6 884.6 330.6 885.8 330.7 887.0 330.7 888.2 330.8 889.4 330.8 890.6 330.9 891.8 330.9 893.0 330.9 894.2 331.0 895.4 331.0 896.6 331.1 897.8 331.1 899.0 331.1 900.2 331.2 901.4 331.2 902.6 331.2 903.8 331.3 905.0 331.3 906.2 331.3 907.4 331.4 908.6 331.4 909.8 331.4 911.0 331.4 912.2 331.5 913.4 331.5 914.6 331.5 915.8 331.5 917.0 331.5 918.2 331.5 919.4 331.6 920.6 331.6 921.8 331.6 923.0 331.6 924.2 331.6 925.4 331.6 926.6 331.6 927.8 331.7 929.1 331.7 930.3 331.7 931.5 331.7 932.7 331.7 933.9 331.7 935.1 331.7 936.3 331.7 937.5 331.8 938.7 331.8 939.9 331.8 941.1 331.8 942.3 331.8 943.5 331.8 944.7 331.8 945.9 331.8 947.1 331.9 948.3 331.9 949.5 331.9 950.7 331.9 951.9 331.9 953.1 332.0 954.3 332.0 955.5 332.0 956.7 332.1 957.9 332.1 959.1 332.2 960.3 332.3 961.5 332.4 962.7L332.4 961.5 332.4 960.3 332.4 959.1 332.4 957.9 332.4 956.7 332.5 955.5 332.5 954.3 332.5 953.1 332.5 951.9 332.5 950.7 332.5 949.5 332.6 948.3 332.6 947.1 332.6 945.9 332.6 944.7 332.7 943.5 332.7 942.3 332.7 941.1 332.8 939.9 332.8 938.7 332.8 937.5 332.9 936.3 332.9 935.1 332.9 933.9 333.0 932.7 333.0 931.5 333.0 930.3 333.1 929.1 333.1 927.9 333.1 926.7 333.2 925.5 333.2 924.3 333.2 923.1 333.3 921.9 333.3 920.8 333.4 919.6 333.4 918.4 333.4 917.2 333.5 916.0 333.5 914.8 333.6 913.6 333.6 912.4 333.6 911.2 333.7 910.0 333.7 908.8 333.8 907.6 333.8 906.4 333.8 905.2 333.9 904.0 333.9 902.8 334.0 901.6 334.0 900.4 334.0 899.2 334.1 898.0 334.1 896.8 334.1 895.6 334.2 894.4 334.2 893.2 334.2 892.0 334.3 890.8 334.3 889.6 334.3 888.4 334.4 887.2 334.4 886.0 334.4 884.8 334.5 883.6 334.5 882.4 334.5 881.2 334.6 880.0 334.6 878.8 334.6 877.6 334.7 876.4 334.7 875.2 334.8 874.0 334.8 872.8 334.8 871.6 334.9 870.4 335.0 869.2 335.0 868.0 335.1 866.8 335.1 865.6 335.2 864.4 335.3 863.2 335.4 862.0 335.4 860.8 335.5 859.7 335.6 858.5 335.7 857.3 335.8 856.1 335.9 854.9 336.0 853.7 336.1 852.5 336.2 851.3 336.4 850.1 336.5 848.9 336.6 847.7 336.8 846.5 336.9 845.3 337.0 844.1 337.2 843.0 337.4 841.8 337.5 840.6 337.7 839.4 337.9 838.2 338.0 837.0 338.2 835.8 338.4 834.7 338.6 833.5 338.9 832.3 339.1 831.1 339.3 829.9 339.6 828.8 339.9 827.6 340.1 826.4 340.4 825.3 340.8 824.1 341.1 823.0 341.5 821.8 341.9 820.7 342.4 819.6 342.9 818.5 343.5 817.5 344.2 816.6 345.2 815.9 346.4 815.8 347.5 816.3 348.4 817.1 349.1 818.0 349.8 819.0 350.4 820.0 350.9 821.1 351.5 822.2 351.9 823.3 352.4 824.4 352.8 825.5 353.2 826.6 353.5 827.8 353.9 828.9 354.2 830.1 354.5 831.3 354.7 832.4 355.0 833.6 355.2 834.8 355.4 835.9 355.6 837.1 355.8 838.3 356.0 839.5 356.1 840.7 356.3 841.9 356.4 843.1 356.5 844.3 356.7 845.5 356.8 846.7 356.9 847.8 357.0 849.0 357.1 850.2 357.2 851.4 357.3 852.6 357.4 853.8 357.5 855.0 357.5 856.2 357.6 857.4 357.7 858.6 357.8 859.8 357.9 861.0 358.0 862.2 358.1 863.4 358.2 864.6 358.2 865.8 358.3 867.0 358.4 868.2 358.5 869.4 358.6 870.6 358.6 871.8 358.7 873.0 358.8 874.2 358.9 875.3 358.9 876.5 359.0 877.7 359.1 878.9 359.1 880.1 359.2 881.3 359.3 882.5 359.3 883.7 359.4 884.9 359.4 886.1 359.5 887.3 359.6 888.5 359.6 889.7 359.7 890.9 359.7 892.1 359.8 893.3 359.8 894.5 359.9 895.7 359.9 896.9 360.0 898.1 360.0 899.3 360.1 900.5 360.1 901.7 360.2 902.9 360.2 904.1 360.3 905.3 360.3 906.5 360.4 907.7 360.4 908.9 360.4 910.1 360.5 911.3 360.5 912.5 360.6 913.7 360.6 914.9 360.6 916.1 360.7 917.3 360.7 918.5 360.7 919.7 360.8 920.9 360.8 922.1 360.9 923.3 360.9 924.5 360.9 925.7 361.0 926.9 361.0 928.1 361.0 929.3 361.0 930.5 361.1 931.6 361.1 932.8 361.1 934.0 361.2 935.2 361.2 936.4 361.2 937.6 361.2 938.8 361.3 940.0 361.3 941.2 361.3 942.4 361.3 943.6 361.4 944.8 361.4 946.0 361.4 947.2 361.4 948.4 361.5 949.6 361.5 950.8 361.5 952.0 361.5 953.2 361.6 954.4 361.6 955.6 361.6 956.8 361.6 958.0 361.6 959.2 361.7 960.4 361.7 961.6 361.7 962.8 361.7 964.0 361.7 965.2 361.8 966.4 361.8 967.6 361.8 968.8 361.8 970.0 361.8 971.2 361.8 972.4 361.9 973.6 361.9 974.8 361.9 976.0L361.9 974.8 361.9 973.6 362.0 972.4 362.0 971.2 362.0 970.0 362.0 968.8 362.0 967.6 362.0 966.4 362.1 965.2 362.1 964.0 362.1 962.8 362.1 961.6 362.1 960.4 362.2 959.2 362.2 958.0 362.2 956.8 362.2 955.6 362.2 954.4 362.3 953.2 362.3 952.0 362.3 950.8 362.3 949.6 362.3 948.4 362.4 947.2 362.4 946.0 362.4 944.8 362.4 943.6 362.5 942.4 362.5 941.1 362.5 939.9 362.5 938.7 362.5 937.5 362.6 936.3 362.6 935.1 362.6 933.9 362.6 932.7 362.7 931.5 362.7 930.3 362.7 929.1 362.8 927.9 362.8 926.7 362.8 925.5 362.8 924.3 362.9 923.1 362.9 921.9 362.9 920.7 363.0 919.5 363.0 918.3 363.0 917.1 363.1 915.9 363.1 914.7 363.1 913.5 363.2 912.3 363.2 911.1 363.2 909.9 363.3 908.7 363.3 907.5 363.4 906.3 363.4 905.1 363.4 903.9 363.5 902.7 363.5 901.5 363.6 900.3 363.6 899.1 363.7 897.9 363.7 896.7 363.8 895.5 363.9 894.3 363.9 893.1 364.0 891.9 364.0 890.7 364.1 889.5 364.2 888.3 364.2 887.1 364.3 885.9 364.4 884.7 364.5 883.5 364.6 882.3 364.6 881.1 364.7 879.9 364.8 878.7 364.9 877.5 365.0 876.3 365.1 875.1 365.2 873.9 365.3 872.7 365.4 871.5 365.5 870.3 365.6 869.1 365.6 867.9 365.8 866.7 365.9 865.5 366.0 864.3 366.1 863.1 366.2 861.9 366.3 860.7 366.4 859.5 366.5 858.3 366.6 857.1 366.7 855.9 366.9 854.8 367.0 853.6 367.1 852.4 367.3 851.2 367.4 850.0 367.6 848.8 367.8 847.6 368.0 846.4 368.2 845.2 368.4 844.0 368.6 842.9 368.8 841.7 369.1 840.5 369.4 839.3 369.7 838.2 370.1 837.0 370.5 835.9 370.9 834.8 371.4 833.7 371.9 832.6 372.5 831.6 373.3 830.6 374.1 829.8 375.2 829.2 376.3 829.1 377.4 829.6 378.3 830.4 379.0 831.4 379.6 832.4 380.1 833.5 380.5 834.7 380.9 835.8 381.2 837.0 381.5 838.1 381.7 839.3 382.0 840.5 382.2 841.7 382.4 842.9 382.6 844.0 382.8 845.2 383.0 846.4 383.1 847.6 383.3 848.8 383.5 850.0 383.6 851.2 383.8 852.4 384.0 853.6 384.1 854.8 384.3 855.9 384.4 857.1 384.6 858.3 384.7 859.5 384.9 860.7 385.0 861.9 385.1 863.1 385.3 864.3 385.4 865.5 385.5 866.7 385.7 867.9 385.8 869.1 385.9 870.3 386.1 871.5 386.2 872.7 386.3 873.9 386.4 875.1 386.6 876.2 386.7 877.4 386.8 878.6 387.0 879.8 387.1 881.0 387.2 882.2 387.3 883.4 387.5 884.6 387.6 885.8 387.7 887.0 387.9 888.2 388.0 889.4 388.1 890.6 388.3 891.8 388.4 893.0 388.5 894.2 388.7 895.4 388.8 896.6 389.0 897.8 389.1 898.9 389.3 900.1 389.4 901.3 389.6 902.5 389.7 903.7 389.9 904.9L390.1 903.7 390.2 902.5 390.4 901.3 390.5 900.2 390.7 899.0 390.8 897.8 390.9 896.6 391.0 895.4 391.1 894.2 391.2 893.0 391.3 891.8 391.4 890.6 391.5 889.4 391.6 888.2 391.7 887.0 391.8 885.8 391.9 884.7 392.0 883.5 392.1 882.3 392.1 881.1 392.2 879.9 392.3 878.7 392.4 877.5 392.5 876.3 392.6 875.1 392.7 873.9 392.8 872.7 392.9 871.5 393.0 870.3 393.1 869.1 393.2 868.0 393.3 866.8 393.5 865.6 393.6 864.4 393.7 863.2 393.9 862.0 394.0 860.8 394.1 859.6 394.3 858.4 394.5 857.3 394.6 856.1 394.8 854.9 395.0 853.7 395.2 852.5 395.5 851.4 395.7 850.2 396.0 849.0 396.3 847.9 396.6 846.7 397.0 845.6 397.5 844.5 398.0 843.4 398.8 842.5 399.7 841.7 400.9 841.7 401.9 842.3 402.6 843.3 403.1 844.3 403.6 845.4 404.0 846.5 404.4 847.7 404.7 848.8 405.0 850.0 405.2 851.2 405.5 852.3 405.7 853.5 405.9 854.7 406.2 855.9 406.4 857.0 406.6 858.2 406.7 859.4 406.9 860.6 407.1 861.8 407.3 863.0 407.4 864.1 407.6 865.3 407.8 866.5 407.9 867.7 408.1 868.9 408.2 870.1 408.4 871.3 408.5 872.5 408.6 873.6 408.8 874.8 408.9 876.0 409.1 877.2 409.2 878.4 409.4 879.6 409.5 880.8 409.6 882.0 409.8 883.2 409.9 884.3 410.0 885.5 410.2 886.7 410.3 887.9 410.4 889.1 410.5 890.3 410.6 891.5 410.7 892.7 410.8 893.9 410.9 895.1 411.0 896.3 411.1 897.5 411.2 898.7 411.2 899.8 411.3 901.0 411.4 902.2 411.5 903.4 411.5 904.6 411.6 905.8 411.6 907.0 411.7 908.2 411.8 909.4 411.8 910.6 411.9 911.8 411.9 913.0 412.0 914.2 412.0 915.4 412.1 916.6 412.1 917.8 412.2 919.0 412.2 920.2 412.3 921.4 412.3 922.6 412.4 923.8 412.4 925.0 412.5 926.1 412.5 927.3 412.5 928.5 412.6 929.7 412.6 930.9 412.7 932.1 412.7 933.3 412.8 934.5 412.8 935.7 412.9 936.9 412.9 938.1 413.0 939.3 413.0 940.5L413.1 939.3 413.2 938.1 413.2 936.9 413.3 935.7 413.4 934.5 413.4 933.3 413.5 932.2 413.5 931.0 413.6 929.8 413.6 928.6 413.7 927.4 413.8 926.2 413.8 925.0 413.8 923.8 413.9 922.6 413.9 921.4 414.0 920.2 414.0 919.0 414.1 917.8 414.1 916.6 414.1 915.4 414.2 914.2 414.2 913.1 414.3 911.9 414.3 910.7 414.4 909.5 414.4 908.3 414.4 907.1 414.5 905.9 414.5 904.7 414.6 903.5 414.6 902.3 414.7 901.1 414.8 899.9 414.8 898.7 414.9 897.5 414.9 896.3 415.0 895.2 415.1 894.0 415.2 892.8 415.3 891.6 415.4 890.4 415.5 889.2 415.6 888.0 415.7 886.8 415.9 885.6 416.0 884.4 416.2 883.3 416.4 882.1 416.6 880.9 416.8 879.7 417.0 878.6 417.3 877.4 417.6 876.2 417.9 875.1 418.3 873.9 418.7 872.8 419.1 871.7 419.7 870.7 420.5 869.8 421.6 869.7 422.4 870.6 423.0 871.6 423.4 872.7 423.8 873.9 424.2 875.0 424.5 876.2 424.8 877.3 425.0 878.5 425.3 879.7 425.5 880.8 425.7 882.0 425.9 883.2 426.1 884.4 426.3 885.5 426.5 886.7 426.6 887.9 426.8 889.1 426.9 890.3 427.1 891.5 427.2 892.7 427.3 893.8 427.5 895.0 427.6 896.2 427.7 897.4 427.8 898.6 428.0 899.8 428.1 901.0 428.2 902.2 428.3 903.4 428.4 904.5 428.5 905.7 428.6 906.9 428.7 908.1 428.8 909.3 428.9 910.5 429.0 911.7 429.1 912.9 429.2 914.1 429.3 915.3 429.4 916.4 429.5 917.6 429.6 918.8 429.7 920.0 429.8 921.2 429.9 922.4 430.0 923.6 430.1 924.8 430.1 926.0 430.2 927.2 430.3 928.4 430.4 929.5 430.5 930.7 430.6 931.9 430.7 933.1 430.7 934.3 430.8 935.5 430.9 936.7L431.0 935.5 431.1 934.3 431.2 933.1 431.3 931.9 431.4 930.7 431.5 929.5 431.6 928.3 431.7 927.1 431.8 925.9 431.9 924.7 431.9 923.5 432.0 922.3 432.1 921.1 432.2 919.9 432.3 918.7 432.3 917.5 432.4 916.3 432.5 915.1 432.6 913.9 432.7 912.8 432.7 911.6 432.8 910.4 432.9 909.2 433.0 908.0 433.1 906.8 433.2 905.6 433.2 904.4 433.3 903.2 433.4 902.0 433.5 900.8 433.6 899.6 433.7 898.4 433.8 897.2 433.9 896.0 434.1 894.8 434.2 893.6 434.3 892.4 434.4 891.2 434.6 890.0 434.7 888.8 434.9 887.6 435.1 886.5 435.3 885.3 435.5 884.1 435.7 882.9 435.9 881.7 436.2 880.5 436.4 879.4 436.7 878.2 437.1 877.1 437.5 875.9 437.9 874.8 438.4 873.7 439.0 872.7 439.7 871.7 440.5 870.9 441.7 870.5 442.8 870.9 443.7 871.6 444.6 872.5 445.3 873.4 446.0 874.4 446.6 875.4 447.3 876.4L448.0 875.4 448.5 874.3 449.1 873.2 449.6 872.1 450.2 871.0 450.7 869.9 451.2 868.8 451.7 867.7 452.2 866.6 452.7 865.5 453.2 864.4 453.8 863.3 454.3 862.3 455.0 861.2 455.6 860.2 456.4 859.3 457.3 858.5 458.5 858.1 459.6 858.5 460.5 859.4 461.2 860.4 461.8 861.4 462.4 862.5 462.9 863.6 463.5 864.7 464.0 865.8 464.5 866.9 465.0 868.0 465.5 869.1 466.0 870.2 466.6 871.3 467.2 872.3L467.7 871.2 468.2 870.1 468.6 869.0 469.0 867.8 469.3 866.7 469.7 865.5 470.0 864.4 470.4 863.2 470.7 862.0 471.1 860.9 471.5 859.7 471.8 858.6 472.2 857.4 472.5 856.3 472.9 855.1 473.3 854.0 473.7 852.9 474.1 851.7 474.5 850.6 475.0 849.5 475.5 848.4 476.0 847.3 476.6 846.2 477.2 845.2 478.0 844.3 479.0 843.7 480.2 843.8 481.1 844.6 481.8 845.6 482.3 846.7 482.8 847.8 483.3 848.9 483.7 850.0 484.1 851.2 484.4 852.3 484.8 853.5 485.1 854.6 485.4 855.8 485.7 857.0 486.0 858.2 486.2 859.3 486.5 860.5 486.8 861.7 487.0 862.9 487.2 864.1 487.4 865.3 487.7 866.4 487.9 867.6 488.1 868.8 488.3 870.0 488.5 871.2 488.7 872.4 488.9 873.6 489.1 874.8 489.3 876.0 489.5 877.1 489.7 878.3 489.9 879.5 490.2 880.7 490.4 881.9 490.7 883.1 491.0 884.2 491.3 885.4 491.8 886.5L492.1 885.3 492.3 884.2 492.6 883.0 492.8 881.8 493.0 880.6 493.2 879.4 493.4 878.2 493.6 877.0 493.8 875.8 493.9 874.6 494.1 873.4 494.3 872.2 494.4 871.0 494.6 869.9 494.8 868.7 495.0 867.5 495.1 866.3 495.3 865.1 495.5 863.9 495.7 862.7 495.9 861.5 496.2 860.3 496.4 859.1 496.7 858.0 496.9 856.8 497.2 855.6 497.5 854.5 497.9 853.3 498.3 852.1 498.7 851.0 499.1 849.9 499.6 848.8 500.1 847.7 500.7 846.6 501.4 845.6 502.2 844.7 503.2 844.1 504.4 844.3 505.2 845.2 505.8 846.2 506.3 847.3 506.7 848.5 507.1 849.6 507.5 850.8 507.8 851.9 508.1 853.1 508.3 854.3 508.6 855.5 508.8 856.6 509.0 857.8 509.2 859.0 509.4 860.2 509.6 861.4 509.8 862.6 510.0 863.8 510.1 865.0 510.3 866.2 510.4 867.4 510.5 868.6 510.7 869.8 510.8 871.0 510.9 872.2 511.0 873.4 511.1 874.6 511.2 875.8 511.3 877.0 511.4 878.2 511.5 879.4 511.6 880.6 511.7 881.8 511.8 883.0 511.9 884.2 512.0 885.4 512.1 886.6 512.2 887.8 512.3 889.0 512.4 890.2 512.5 891.4 512.6 892.6 512.7 893.8 512.7 895.0 512.8 896.2 512.9 897.4 513.0 898.6 513.1 899.9 513.2 901.1 513.3 902.3 513.4 903.5 513.5 904.7 513.6 905.9 513.8 907.1 513.9 908.3 514.0 909.5 514.1 910.7 514.3 911.9 514.4 913.1 514.5 914.3 514.7 915.5 514.8 916.7 515.0 917.8 515.2 919.0 515.4 920.2 515.6 921.4 515.8 922.6 516.0 923.8L516.2 922.6 516.4 921.4 516.5 920.2 516.7 919.1 516.8 917.9 516.9 916.7 517.1 915.5 517.2 914.3 517.3 913.1 517.4 911.9 517.5 910.7 517.6 909.5 517.7 908.3 517.8 907.1 517.9 905.9 518.0 904.7 518.1 903.5 518.2 902.3 518.3 901.1 518.4 899.9 518.5 898.7 518.5 897.6 518.6 896.4 518.7 895.2 518.8 894.0 518.9 892.8 519.0 891.6 519.1 890.4 519.1 889.2 519.2 888.0 519.3 886.8 519.4 885.6 519.5 884.4 519.6 883.2 519.8 882.0 519.9 880.8 520.0 879.6 520.1 878.4 520.3 877.2 520.4 876.1 520.6 874.9 520.7 873.7 520.9 872.5 521.1 871.3 521.3 870.1 521.6 869.0 521.8 867.8 522.1 866.6 522.4 865.5 522.8 864.3 523.2 863.2 523.7 862.1 524.2 861.0 524.9 860.0 525.8 859.2 526.9 859.0 527.9 859.7 528.7 860.6 529.3 861.6 529.8 862.7 530.2 863.8 530.6 865.0 530.9 866.1 531.2 867.3 531.5 868.4 531.8 869.6 532.0 870.8 532.3 872.0 532.5 873.2 532.7 874.3 532.8 875.5 533.0 876.7 533.2 877.9 533.3 879.1 533.5 880.3 533.6 881.5 533.8 882.7 533.9 883.8 534.0 885.0 534.2 886.2 534.3 887.4 534.4 888.6 534.5 889.8 534.6 891.0 534.7 892.2 534.8 893.4 534.9 894.6 535.0 895.8 535.2 897.0 535.3 898.2 535.4 899.4 535.5 900.6 535.6 901.8 535.7 903.0 535.8 904.1 535.9 905.3 536.0 906.5 536.1 907.7 536.2 908.9 536.2 910.1 536.3 911.3 536.4 912.5 536.5 913.7 536.6 914.9 536.7 916.1 536.8 917.3 536.9 918.5 537.0 919.7 537.0 920.9 537.1 922.1 537.2 923.3 537.3 924.5 537.4 925.7 537.4 926.9 537.5 928.1 537.6 929.3 537.6 930.5 537.7 931.7 537.8 932.9 537.8 934.0 537.9 935.2 538.0 936.4 538.0 937.6 538.1 938.8 538.1 940.0 538.2 941.2 538.2 942.4 538.3 943.6 538.3 944.8 538.4 946.0 538.4 947.2 538.5 948.4 538.5 949.6 538.5 950.8 538.6 952.0 538.6 953.2 538.6 954.4 538.7 955.6 538.7 956.8 538.7 958.0 538.8 959.2 538.8 960.4 538.8 961.6 538.8 962.8 538.8 964.0 538.8 965.2 538.9 966.4 538.9 967.6 538.9 968.8 538.9 970.0 538.9 971.2 538.9 972.4 538.9 973.6 538.9 974.8 538.9 976.0L538.9 974.8 538.9 973.6 538.9 972.4 538.9 971.2 538.9 970.0 538.9 968.8 539.0 967.6 539.0 966.4 539.0 965.2 539.0 964.0 539.0 962.8 539.1 961.6 539.1 960.4 539.1 959.2 539.1 958.0 539.2 956.8 539.2 955.6 539.2 954.4 539.3 953.3 539.3 952.1 539.4 950.9 539.4 949.7 539.5 948.5 539.5 947.3 539.6 946.1 539.6 944.9 539.7 943.7 539.7 942.5 539.8 941.3 539.9 940.1 539.9 938.9 540.0 937.7 540.1 936.5 540.1 935.3 540.2 934.1 540.3 932.9 540.4 931.7 540.5 930.5 540.6 929.3 540.7 928.1 540.8 926.9 540.9 925.8 541.0 924.6 541.1 923.4 541.2 922.2 541.3 921.0 541.4 919.8 541.5 918.6 541.6 917.4 541.7 916.2 541.8 915.0 541.9 913.8 542.0 912.6 542.2 911.4 542.3 910.2 542.4 909.1 542.5 907.9 542.6 906.7 542.7 905.5 542.8 904.3 543.0 903.1 543.1 901.9 543.2 900.7 543.3 899.5 543.4 898.3 543.5 897.1 543.7 895.9 543.8 894.8 543.9 893.6 544.1 892.4 544.2 891.2 544.4 890.0 544.5 888.8 544.7 887.6 544.9 886.4 545.1 885.3 545.4 884.1 545.6 882.9 545.9 881.8 546.3 880.6 546.7 879.5 547.3 878.5 548.0 877.5 549.1 877.1 550.1 877.7 550.8 878.7 551.4 879.7 551.9 880.8 552.3 882.0 552.7 883.1 553.0 884.3 553.3 885.4 553.5 886.6 553.8 887.8 554.0 888.9 554.3 890.1 554.5 891.3 554.7 892.5 554.8 893.7 555.0 894.8 555.2 896.0 555.4 897.2 555.5 898.4 555.7 899.6 555.8 900.8 556.0 902.0 556.1 903.1 556.3 904.3 556.4 905.5 556.5 906.7 556.7 907.9 556.8 909.1 556.9 910.3 557.0 911.5 557.2 912.7 557.3 913.9 557.4 915.1 557.5 916.2 557.7 917.4 557.8 918.6 557.9 919.8 558.1 921.0 558.2 922.2 558.3 923.4 558.4 924.6 558.6 925.8 558.7 927.0 558.8 928.2 558.9 929.3 559.0 930.5 559.1 931.7 559.2 932.9 559.3 934.1 559.4 935.3 559.5 936.5 559.6 937.7 559.7 938.9 559.7 940.1 559.8 941.3 559.9 942.5 559.9 943.7 560.0 944.9 560.1 946.1 560.1 947.3 560.2 948.5 560.2 949.7 560.3 950.9 560.3 952.1 560.3 953.3 560.4 954.4 560.4 955.6 560.5 956.8 560.5 958.0 560.5 959.2 560.6 960.4 560.6 961.6 560.6 962.8 560.6 964.0 560.7 965.2 560.7 966.4 560.7 967.6 560.7 968.8 560.7 970.0 560.7 971.2 560.8 972.4 560.8 973.6 560.8 974.8 560.8 976.0L560.9 974.8 561.0 973.6 561.1 972.4 561.2 971.2 561.3 970.0 561.4 968.8 561.5 967.6 561.6 966.4 561.7 965.2 561.8 964.0 561.9 962.8 561.9 961.7 562.0 960.5 562.1 959.3 562.2 958.1 562.3 956.9 562.3 955.7 562.4 954.5 562.5 953.3 562.6 952.1 562.6 950.9 562.7 949.7 562.8 948.5 562.8 947.3 562.9 946.1 563.0 944.9 563.1 943.7 563.1 942.5 563.2 941.3 563.3 940.1 563.4 938.9 563.5 937.7 563.5 936.5 563.6 935.3 563.7 934.1 563.8 932.9 563.9 931.7 564.0 930.5 564.1 929.3 564.2 928.1 564.4 927.0 564.5 925.8 564.6 924.6 564.8 923.4 564.9 922.2 565.1 921.0 565.2 919.8 565.4 918.6 565.6 917.4 565.8 916.3 566.0 915.1 566.3 913.9 566.5 912.7 566.8 911.6 567.1 910.4 567.4 909.2 567.8 908.1 568.3 907.0 568.9 906.0 569.8 905.4 570.8 906.1 571.4 907.1 571.8 908.2 572.2 909.4 572.6 910.5 572.9 911.7 573.2 912.8 573.5 914.0 573.8 915.2 574.0 916.3 574.3 917.5 574.5 918.7 574.7 919.9 575.0 921.1 575.2 922.2 575.3 923.4 575.5 924.6 575.7 925.8 575.8 927.0 576.0 928.2 576.1 929.4 576.2 930.6 576.3 931.8 576.4 932.9 576.5 934.1 576.6 935.3 576.7 936.5 576.8 937.7 576.9 938.9 577.0 940.1 577.0 941.3 577.1 942.5 577.2 943.7 577.3 944.9 577.3 946.1 577.4 947.3 577.5 948.5 577.6 949.7 577.6 950.9 577.7 952.1 577.8 953.3 577.9 954.5 578.0 955.7 578.0 956.9 578.1 958.1 578.2 959.3 578.3 960.5 578.4 961.7 578.4 962.9 578.5 964.1 578.6 965.3 578.7 966.5 578.8 967.7 578.9 968.8 579.0 970.0 579.1 971.2 579.3 972.4 579.4 973.6 579.5 974.8 579.7 976.0L579.8 974.8 580.0 973.6 580.1 972.4 580.2 971.2 580.3 970.0 580.4 968.8 580.5 967.6 580.6 966.4 580.8 965.2 580.9 964.0 581.0 962.8 581.1 961.6 581.2 960.4 581.3 959.2 581.4 958.0 581.5 956.8 581.6 955.6 581.7 954.4 581.8 953.2 581.9 951.9 582.0 950.7 582.1 949.5 582.2 948.3 582.3 947.1 582.4 945.9 582.5 944.7 582.6 943.5 582.8 942.3 582.9 941.1 583.0 939.9 583.2 938.7 583.3 937.5 583.4 936.3 583.6 935.1 583.7 933.9 583.9 932.7 584.1 931.5 584.3 930.3 584.4 929.2 584.6 928.0 584.8 926.8 585.1 925.6 585.3 924.4 585.5 923.2 585.8 922.0 586.0 920.9 586.3 919.7 586.7 918.5 587.0 917.4 587.4 916.2 587.8 915.1 588.3 914.0 588.8 912.9 589.6 912.0 590.7 911.6 591.6 912.4 592.2 913.5 592.6 914.6 593.1 915.7 593.4 916.9 593.8 918.0 594.1 919.2 594.4 920.4 594.7 921.5 595.0 922.7 595.2 923.9 595.5 925.1 595.7 926.3 596.0 927.4 596.2 928.6 596.5 929.8 596.7 931.0 596.9 932.2 597.2 933.4 597.4 934.5 597.7 935.7 597.9 936.9 598.2 938.1 598.4 939.3 598.7 940.4 598.9 941.6 599.2 942.8 599.5 944.0 599.7 945.1 600.0 946.3 600.3 947.5L600.8 946.4 601.3 945.3 601.7 944.1 602.1 943.0 602.5 941.8 602.8 940.7 603.2 939.5 603.5 938.3 603.8 937.1 604.2 936.0 604.5 934.8 604.9 933.6 605.3 932.5 605.6 931.3 606.0 930.2 606.5 929.0 606.9 927.9 607.5 926.8 608.2 925.8 609.1 925.1 610.3 925.2 611.1 926.1 611.7 927.1 612.2 928.3 612.6 929.4 612.9 930.6 613.2 931.8 613.4 933.0 613.6 934.2 613.8 935.4 614.0 936.6 614.2 937.8 614.3 939.0 614.5 940.2 614.6 941.4 614.8 942.6 614.9 943.8 615.0 945.0 615.1 946.2 615.3 947.5 615.4 948.7 615.5 949.9 615.7 951.1 615.8 952.3 616.0 953.5 616.1 954.7 616.3 955.9 616.5 957.1 616.7 958.3 616.9 959.5 617.1 960.7 617.4 961.9 617.8 963.1 618.2 964.2L618.6 963.1 619.0 961.9 619.2 960.8 619.5 959.6 619.7 958.4 619.9 957.2 620.1 956.1 620.3 954.9 620.5 953.7 620.6 952.5 620.8 951.3 620.9 950.1 621.1 948.9 621.2 947.7 621.3 946.6 621.5 945.4 621.6 944.2 621.7 943.0 621.9 941.8 622.0 940.6 622.1 939.4 622.3 938.2 622.4 937.0 622.6 935.8 622.7 934.7 622.9 933.5 623.0 932.3 623.2 931.1 623.3 929.9 623.5 928.7 623.7 927.5 623.9 926.4 624.1 925.2 624.3 924.0 624.6 922.8 624.8 921.7 625.1 920.5 625.4 919.3 625.8 918.2 626.2 917.1 626.6 916.0 627.2 914.9 627.9 913.9 628.8 913.1 629.9 913.0 630.9 913.7 631.6 914.6 632.1 915.7 632.6 916.8 633.0 917.9 633.4 919.1 633.7 920.2 634.0 921.4 634.3 922.5 634.5 923.7 634.8 924.9 635.0 926.1 635.2 927.2 635.4 928.4 635.6 929.6 635.7 930.8 635.9 932.0 636.0 933.2 636.2 934.4 636.3 935.6 636.4 936.8 636.5 937.9 636.6 939.1 636.7 940.3 636.8 941.5 636.9 942.7 637.0 943.9 637.1 945.1 637.2 946.3 637.3 947.5 637.4 948.7 637.5 949.9 637.6 951.1 637.7 952.3 637.7 953.5 637.8 954.7 637.9 955.9 638.0 957.0 638.1 958.2 638.2 959.4 638.3 960.6 638.4 961.8 638.5 963.0 638.6 964.2 638.7 965.4 638.8 966.6 639.0 967.8 639.1 969.0 639.3 970.2 639.4 971.3 639.6 972.5 639.8 973.7 640.1 974.9 640.5 976.0L641.0 974.9 641.3 973.7 641.5 972.6 641.7 971.4 641.9 970.2 642.0 969.0 642.2 967.8 642.3 966.6 642.4 965.4 642.6 964.2 642.7 963.0 642.8 961.8 642.9 960.6 643.0 959.4 643.1 958.2 643.2 957.0 643.3 955.8 643.4 954.6 643.5 953.4 643.6 952.2 643.7 951.0 643.7 949.8 643.8 948.6 643.9 947.4 644.0 946.2 644.1 945.0 644.2 943.8 644.2 942.6 644.3 941.4 644.4 940.2 644.5 939.0 644.6 937.8 644.6 936.6 644.7 935.4 644.8 934.2 644.9 933.0 645.0 931.8 645.1 930.6 645.2 929.4 645.3 928.2 645.4 927.0 645.5 925.8 645.7 924.6 645.8 923.4 645.9 922.2 646.1 921.0 646.3 919.8 646.5 918.6 646.7 917.4 646.9 916.3 647.1 915.1 647.4 913.9 647.7 912.7 648.0 911.6 648.4 910.4 648.8 909.3 649.3 908.2 649.9 907.1 650.6 906.2 651.7 905.8 652.7 906.5 653.3 907.5 653.8 908.6 654.3 909.8 654.6 910.9 655.0 912.1 655.3 913.2 655.5 914.4 655.8 915.6 656.1 916.8 656.3 917.9 656.5 919.1 656.7 920.3 656.9 921.5 657.1 922.7 657.3 923.9 657.5 925.1 657.6 926.3 657.8 927.4 658.0 928.6 658.1 929.8 658.2 931.0 658.4 932.2 658.5 933.4 658.7 934.6 658.8 935.8 658.9 937.0 659.0 938.2 659.2 939.4 659.3 940.6 659.4 941.8 659.6 943.0 659.7 944.2 659.9 945.4 660.0 946.6 660.2 947.8 660.4 949.0 660.6 950.2 660.8 951.3 661.1 952.5 661.6 953.6L661.9 952.4 662.1 951.2 662.3 950.1 662.5 948.9 662.6 947.7 662.8 946.5 662.9 945.3 663.1 944.1 663.2 942.9 663.3 941.7 663.4 940.5 663.5 939.3 663.6 938.1 663.8 936.9 663.9 935.7 664.0 934.5 664.1 933.3 664.2 932.1 664.3 930.9 664.4 929.7 664.5 928.5 664.6 927.3 664.7 926.1 664.8 924.9 664.9 923.7 665.0 922.5 665.2 921.3 665.3 920.1 665.4 918.9 665.5 917.7 665.6 916.5 665.8 915.3 665.9 914.1 666.1 912.9 666.2 911.7 666.4 910.5 666.5 909.3 666.7 908.1 666.9 906.9 667.1 905.7 667.4 904.5 667.6 903.4 667.9 902.2 668.1 901.0 668.5 899.8 668.8 898.7 669.1 897.5 669.5 896.4 669.9 895.3 670.4 894.1 670.9 893.1 671.5 892.0 672.2 891.0 673.0 890.2 674.2 889.8 675.2 890.5 675.9 891.4 676.5 892.5 676.9 893.6 677.3 894.7 677.7 895.9 678.0 897.1 678.3 898.2 678.6 899.4 678.8 900.6 679.0 901.8 679.3 902.9 679.5 904.1 679.7 905.3 679.8 906.5 680.0 907.7 680.2 908.9 680.3 910.1 680.5 911.3 680.6 912.5 680.7 913.7 680.8 914.9 680.9 916.1 681.0 917.3 681.1 918.5 681.2 919.7 681.3 920.9 681.4 922.1 681.4 923.3 681.5 924.5 681.6 925.7 681.6 926.9 681.7 928.1 681.8 929.3 681.8 930.5 681.9 931.7 681.9 932.9 682.0 934.1 682.0 935.3 682.1 936.6 682.1 937.8 682.2 939.0 682.2 940.2 682.3 941.4 682.3 942.6 682.4 943.8 682.4 945.0 682.5 946.2 682.5 947.4 682.6 948.6 682.6 949.8 682.7 951.0 682.7 952.2 682.8 953.4 682.9 954.6 682.9 955.8 683.0 957.0 683.0 958.2 683.1 959.4 683.2 960.6 683.3 961.8 683.3 963.0 683.4 964.2 683.5 965.4 683.6 966.6 683.7 967.8 683.9 969.0 684.0 970.2 684.2 971.4 684.4 972.6 684.6 973.8 684.9 975.0 685.5 976.0L686.2 975.1 686.5 973.9 686.8 972.7 687.0 971.5 687.1 970.4 687.2 969.2 687.3 968.0 687.4 966.8 687.5 965.6 687.5 964.4 687.6 963.2 687.7 962.0 687.7 960.8 687.8 959.6 687.8 958.4 687.9 957.2 687.9 956.0 687.9 954.8 688.0 953.6 688.0 952.4 688.1 951.2 688.1 950.0 688.1 948.7 688.2 947.5 688.2 946.3 688.3 945.1 688.3 943.9 688.4 942.7 688.4 941.5 688.5 940.3 688.5 939.1 688.6 937.9 688.7 936.7 688.7 935.5 688.8 934.3 688.9 933.1 689.0 931.9 689.1 930.7 689.2 929.5 689.3 928.3 689.4 927.2 689.5 926.0 689.6 924.8 689.7 923.6 689.8 922.4 690.0 921.2 690.1 920.0 690.2 918.8 690.4 917.6 690.5 916.4 690.6 915.2 690.8 914.0 690.9 912.8 691.1 911.6 691.2 910.4 691.4 909.2 691.5 908.0 691.6 906.8 691.8 905.7 692.0 904.5 692.1 903.3 692.3 902.1 692.5 900.9 692.7 899.7 692.9 898.5 693.2 897.4 693.4 896.2 693.8 895.0 694.1 893.9 694.5 892.7 695.0 891.6 695.5 890.6 696.1 889.5 696.9 888.6 698.0 888.0 699.0 888.5 699.8 889.4 700.3 890.5 700.8 891.6 701.2 892.7 701.6 893.9 701.9 895.0 702.3 896.2 702.6 897.3 702.8 898.5 703.1 899.7 703.4 900.9 703.6 902.0 703.8 903.2 704.0 904.4 704.2 905.6 704.4 906.8 704.6 908.0 704.8 909.1 704.9 910.3 705.1 911.5 705.2 912.7 705.4 913.9 705.5 915.1 705.7 916.3 705.8 917.5 705.9 918.7 706.1 919.9 706.2 921.1 706.3 922.3 706.4 923.5 706.5 924.7 706.6 925.9 706.7 927.1 706.8 928.3 706.9 929.5 707.0 930.7 707.1 931.9 707.2 933.1 707.3 934.3 707.4 935.5 707.5 936.7 707.6 937.9 707.6 939.1 707.7 940.3 707.8 941.5 707.9 942.7 708.0 943.8 708.0 945.0 708.1 946.2 708.2 947.4 708.3 948.6 708.4 949.8 708.4 951.0 708.5 952.2 708.6 953.4 708.7 954.6 708.7 955.8 708.8 957.0 708.9 958.2 709.0 959.4 709.1 960.6 709.1 961.8 709.2 963.0 709.3 964.2 709.4 965.4 709.5 966.6 709.6 967.8 709.8 969.0 709.9 970.2 710.1 971.4 710.3 972.6 710.5 973.8 710.9 974.9 711.4 976.0L711.9 974.9 712.2 973.8 712.5 972.6 712.6 971.4 712.8 970.2 712.9 969.0 713.0 967.8 713.1 966.7 713.2 965.5 713.3 964.3 713.4 963.1 713.5 961.9 713.5 960.7 713.6 959.5 713.7 958.3 713.7 957.1 713.8 955.9 713.9 954.7 713.9 953.5 714.0 952.3 714.0 951.1 714.1 949.9 714.2 948.7 714.2 947.5 714.3 946.3 714.4 945.1 714.4 943.9 714.5 942.7 714.6 941.5 714.7 940.3 714.8 939.1 714.8 938.0 714.9 936.8 715.0 935.6 715.1 934.4 715.2 933.2 715.3 932.0 715.4 930.8 715.6 929.6 715.7 928.4 715.8 927.2 716.0 926.0 716.1 924.8 716.2 923.7 716.4 922.5 716.6 921.3 716.7 920.1 716.9 918.9 717.1 917.7 717.3 916.5 717.6 915.4 717.8 914.2 718.1 913.0 718.4 911.9 718.7 910.7 719.1 909.6 719.6 908.5 720.1 907.4 721.0 906.6 722.1 906.4 723.0 907.1 723.7 908.1 724.2 909.2 724.7 910.3 725.1 911.4 725.4 912.6 725.8 913.7 726.1 914.9 726.3 916.0 726.6 917.2 726.9 918.4 727.1 919.5 727.4 920.7 727.6 921.9 727.8 923.1 728.1 924.2 728.3 925.4 728.5 926.6 728.7 927.8 728.8 929.0 729.0 930.2 729.2 931.3 729.3 932.5 729.5 933.7 729.6 934.9 729.7 936.1 729.9 937.3 730.0 938.5 730.1 939.7 730.2 940.9 730.3 942.1 730.3 943.3 730.4 944.5 730.5 945.7 730.6 946.8 730.7 948.0 730.8 949.2 730.8 950.4 730.9 951.6 731.0 952.8 731.1 954.0 731.2 955.2 731.3 956.4 731.3 957.6 731.4 958.8 731.5 960.0 731.6 961.2 731.7 962.4 731.8 963.6 732.0 964.8 732.1 966.0 732.2 967.1 732.4 968.3 732.6 969.5 732.8 970.7 733.0 971.9 733.3 973.0 733.6 974.2 734.1 975.3 735.0 976.0L735.9 975.3 736.6 974.2 737.0 973.1 737.4 972.0 737.6 970.8 737.8 969.6 738.0 968.4 738.2 967.2 738.3 966.0 738.4 964.8 738.5 963.6 738.6 962.4 738.7 961.2 738.8 960.0 738.9 958.8 738.9 957.6 739.0 956.4 739.1 955.2 739.2 954.0 739.3 952.8 739.3 951.6 739.4 950.4 739.6 949.2 739.7 948.0 739.8 946.8 740.0 945.6 740.2 944.4 740.4 943.2 740.6 942.1 740.9 940.9 741.2 939.7 741.5 938.6 741.9 937.4 742.4 936.3 742.9 935.3 743.8 934.4 744.8 934.5 745.6 935.5 746.1 936.6 746.5 937.7 746.9 938.8 747.3 940.0 747.7 941.1 748.0 942.3 748.4 943.4 748.7 944.6 749.0 945.7 749.3 946.9 749.6 948.1 749.9 949.2 750.2 950.4 750.5 951.6 750.8 952.8 751.0 953.9 751.3 955.1 751.6 956.3 751.9 957.4 752.1 958.6 752.4 959.8 752.7 961.0 753.0 962.1 753.2 963.3 753.5 964.5 753.8 965.7 754.1 966.8 754.4 968.0 754.7 969.2 755.0 970.3 755.4 971.5 755.7 972.6 756.1 973.8 756.5 974.9 757.0 976.0L757.5 974.9 757.9 973.7 758.2 972.6 758.6 971.4 759.0 970.2 759.3 969.1 759.7 967.9 760.0 966.7 760.4 965.6 760.8 964.4 761.2 963.3 761.7 962.1 762.2 961.0 762.8 960.0 763.6 959.1 764.7 958.8 765.6 959.7 766.2 960.7 766.7 961.8 767.2 962.9 767.6 964.1 767.9 965.3 768.2 966.4 768.5 967.6 768.8 968.8 769.0 970.0 769.3 971.2 769.5 972.4 769.7 973.6 769.9 974.8 770.2 976.0"/>
<path class="c" stroke="#83058A" d="M113.8 578.4L115.0 578.6 116.1 578.9 117.3 579.2 118.4 579.6 119.6 580.0 120.7 580.5 121.8 581.0 122.9 581.5 123.9 582.1 125.0 582.7 126.0 583.3 127.0 584.0 128.0 584.7 128.9 585.4 129.9 586.1 130.8 586.9 131.7 587.7 132.6 588.5 133.4 589.4 134.2 590.3 135.1 591.1 135.9 592.0 136.6 592.9 137.4 593.9 138.2 594.8 138.9 595.8 139.6 596.7 140.3 597.7 141.0 598.7 141.6 599.7 142.3 600.7 142.9 601.7 143.6 602.8 144.2 603.8 144.8 604.8 145.4 605.9 146.0 606.9 146.5 608.0 147.1 609.1 147.6 610.1 148.2 611.2 148.7 612.3 149.2 613.4 149.7 614.5 150.2 615.5 150.7 616.6 151.2 617.7 151.7 618.8 152.2 619.9 152.7 621.0 153.1 622.2 153.6 623.3 154.0 624.4 154.5 625.5 154.9 626.6 155.3 627.7 155.8 628.9 156.2 630.0 156.6 631.1 157.0 632.2 157.5 633.4 157.9 634.5 158.3 635.6 158.7 636.8 159.1 637.9 159.5 639.0 159.9 640.2 160.3 641.3 160.7 642.4 161.2 643.5 161.6 644.7 162.0 645.8 162.4 646.9 162.9 648.0 163.3 649.1 163.8 650.2 164.3 651.3 164.8 652.4 165.3 653.5 165.8 654.6 166.4 655.7 167.0 656.7 167.6 657.8 168.2 658.8 168.9 659.8 169.6 660.7 170.4 661.7 171.2 662.6 172.0 663.4 172.9 664.2 173.9 664.9 174.9 665.5 176.0 666.0 177.1 666.5 178.3 666.8 179.5 667.0 180.7 667.2 181.9 667.3 183.1 667.5 184.3 667.6 185.4 667.8 186.6 668.1 187.8 668.5 188.9 668.9 190.0 669.4 191.0 670.0 192.0 670.7 192.9 671.5 193.8 672.2 194.7 673.0 195.6 673.9 196.5 674.7 197.3 675.6 198.1 676.4 199.0 677.3 199.8 678.2 200.6 679.0 201.5 679.9 202.3 680.8 203.2 681.6 204.1 682.4 204.9 683.2 205.8 684.0 206.7 684.8 207.7 685.6 208.6 686.4 209.5 687.2 210.4 687.9 211.4 688.6 212.3 689.4 213.3 690.1 214.3 690.8 215.2 691.5 216.2 692.2 217.2 692.9 218.2 693.6 219.2 694.3 220.2 694.9 221.2 695.6 222.2 696.3 223.2 696.9 224.2 697.6 225.2 698.2 226.2 698.9 227.3 699.5 228.3 700.1 229.3 700.8 230.3 701.4 231.4 702.0 232.4 702.6 233.4 703.3 234.4 703.9 235.5 704.5 236.5 705.1 237.5 705.7 238.6 706.4 239.6 707.0 240.6 707.6 241.7 708.2 242.7 708.8 243.7 709.4 244.8 710.1 245.8 710.7 246.8 711.3 247.8 711.9 248.9 712.5 249.9 713.2 250.9 713.8 252.0 714.4 253.0 715.0 254.0 715.6 255.1 716.2 256.1 716.8 257.2 717.4 258.2 718.0 259.2 718.6 260.3 719.2 261.3 719.8 262.4 720.4 263.4 721.0 264.5 721.6 265.5 722.2 266.6 722.8 267.6 723.3 268.7 723.9 269.7 724.5 270.8 725.0 271.9 725.6 272.9 726.2 274.0 726.7 275.1 727.3 276.1 727.9 277.2 728.4 278.2 729.0 279.3 729.6 280.3 730.2 281.4 730.8 282.4 731.4 283.4 732.0 284.4 732.7 285.5 733.3 286.5 734.0 287.4 734.7 288.4 735.4 289.4 736.1 290.3 736.8 291.3 737.6 292.2 738.3 293.1 739.1 294.1 739.9 295.0 740.6 295.9 741.4 296.8 742.2 297.8 742.9 298.7 743.6 299.7 744.4 300.7 745.0 301.7 745.7 302.7 746.3 303.8 746.9 304.9 747.4 305.9 748.0 307.0 748.5 308.1 749.0 309.2 749.6 310.2 750.1 311.3 750.6 312.4 751.2 313.5 751.7 314.6 752.2 315.6 752.8 316.7 753.3 317.8 753.9 318.8 754.4 319.9 755.0 321.0 755.5 322.0 756.1 323.1 756.7 324.2 757.2 325.2 757.8 326.3 758.4 327.3 759.0 328.4 759.5 329.4 760.1 330.5 760.7 331.5 761.3 332.6 761.8 333.7 762.4 334.7 763.0 335.8 763.5 336.9 764.1 337.9 764.6 339.0 765.1 340.1 765.7 341.2 766.2 342.3 766.7 343.3 767.2 344.4 767.7 345.5 768.3 346.6 768.8 347.7 769.3 348.7 769.8 349.8 770.4 350.9 770.9 352.0 771.5 353.0 772.1 354.1 772.6 355.1 773.2 356.2 773.8 357.2 774.4 358.2 775.1 359.2 775.7 360.3 776.4 361.2 777.0 362.2 777.7 363.2 778.4 364.1 779.2 365.1 779.9 366.0 780.7 367.0 781.4 367.9 782.2 368.8 783.0 369.7 783.7 370.7 784.5 371.6 785.2 372.6 785.9 373.6 786.6 374.6 787.3 375.6 787.9 376.7 788.5 377.7 789.1 378.8 789.7 379.8 790.3 380.9 790.8 381.9 791.5 382.9 792.1 383.9 792.7 384.9 793.4 385.9 794.0 387.0 794.7 388.0 795.4 389.0 796.0 390.0 796.7 391.0 797.4 392.0 798.0 393.0 798.7 394.0 799.3 395.0 800.0 396.0 800.6 397.0 801.3 398.0 801.9 399.1 802.5 400.1 803.2 401.1 803.8 402.2 804.3 403.2 804.9 404.3 805.5 405.4 806.0 406.5 806.5 407.6 807.0 408.7 807.5 409.8 808.0 410.9 808.4 412.0 808.8 413.2 809.1 414.3 809.5 415.5 809.8 416.7 810.1 417.8 810.5 419.0 810.8 420.1 811.1 421.3 811.5 422.4 811.9 423.5 812.3 424.6 812.8 425.7 813.3 426.8 813.8 427.9 814.4 428.9 815.0 429.9 815.6 430.9 816.3 431.9 816.9 432.9 817.6 433.9 818.3 434.9 819.0 435.8 819.8 436.8 820.5 437.7 821.2 438.7 822.0 439.6 822.7 440.6 823.4 441.6 824.2 442.5 824.9 443.5 825.6 444.5 826.2 445.5 826.9 446.5 827.5 447.6 828.1 448.6 828.7 449.7 829.2 450.8 829.7 451.9 830.2 453.0 830.8 454.0 831.3 455.1 831.8 456.2 832.4 457.2 833.0 458.2 833.7 459.2 834.3 460.2 835.1 461.1 835.8 462.1 836.6 463.0 837.3 463.9 838.1 464.8 838.9 465.7 839.7 466.6 840.5 467.5 841.3 468.4 842.1 469.4 842.8 470.4 843.5 471.4 844.2 472.4 844.8 473.4 845.5 474.4 846.1 475.5 846.6 476.6 847.1 477.7 847.6 478.8 848.1 479.9 848.5 481.1 848.9 482.2 849.2 483.4 849.5 484.6 849.7 485.8 849.9 486.9 850.1 488.1 850.3 489.3 850.5 490.5 850.6 491.7 850.9 492.9 851.1 494.0 851.4 495.2 851.8 496.3 852.2 497.4 852.8 498.4 853.4 499.4 854.0 500.4 854.7 501.3 855.5 502.2 856.3 503.1 857.1 504.0 857.9 504.8 858.8 505.7 859.6 506.6 860.4 507.4 861.3 508.3 862.1 509.2 862.9 510.1 863.6 511.1 864.4 512.1 865.1 513.1 865.7 514.2 866.3 515.3 866.8 516.4 867.2 517.5 867.6 518.6 868.0 519.8 868.3 521.0 868.7 522.1 869.0 523.3 869.3 524.4 869.7 525.6 870.0 526.7 870.4 527.8 870.9 528.9 871.4 529.9 872.0 531.0 872.6 531.9 873.4 532.8 874.1 533.7 875.0 534.6 875.8 535.4 876.7 536.2 877.6 537.0 878.5 537.8 879.4 538.6 880.3 539.4 881.2 540.2 882.1 541.0 883.0 541.8 883.9 542.6 884.7 543.5 885.5 544.5 886.3 545.5 886.9 546.5 887.5 547.6 888.0 548.8 888.3 550.0 888.5 551.2 888.6 552.4 888.6 553.6 888.5 554.7 888.3 555.9 888.1 557.1 887.9 558.3 887.7 559.5 887.6 560.7 887.6 561.9 887.7 563.1 887.9 564.2 888.2 565.3 888.7 566.4 889.2 567.4 889.9 568.4 890.5 569.4 891.3 570.3 892.0 571.3 892.8 572.2 893.6 573.1 894.4 574.0 895.2 574.9 895.9 575.8 896.7 576.7 897.5 577.6 898.3 578.6 899.0 579.6 899.7 580.6 900.3 581.7 900.8 582.8 901.3 583.9 901.7 585.1 901.9 586.3 902.0 587.5 902.1 588.7 902.0 589.9 901.9 591.1 901.9 592.3 901.8 593.5 901.8 594.7 901.9 595.9 902.0 597.1 902.3 598.2 902.8 599.3 903.3 600.3 903.9 601.3 904.6 602.2 905.3 603.1 906.1 604.0 907.0 604.8 907.9 605.6 908.8 606.3 909.7 607.1 910.7 607.8 911.6 608.5 912.6 609.3 913.5 610.0 914.5 610.8 915.4 611.5 916.4 612.3 917.3 613.1 918.1 614.0 918.9 615.0 919.7 616.0 920.3 617.1 920.7 618.3 920.8 619.5 920.8 620.7 920.6 621.9 920.2 623.0 919.8 624.1 919.4 625.2 918.9 626.4 918.5 627.5 918.2 628.7 917.9 629.9 917.7 631.1 917.6 632.3 917.6 633.5 917.7 634.6 918.0 635.7 918.5 636.8 919.1 637.7 919.8 638.6 920.6 639.4 921.6 640.1 922.5 640.7 923.5 641.3 924.6 641.9 925.6 642.5 926.7 643.0 927.8 643.5 928.9 644.0 929.9 644.6 931.0 645.1 932.1 645.7 933.2 646.2 934.2 646.8 935.3 647.5 936.3 648.1 937.3 648.9 938.2 649.7 939.1 650.6 939.9 651.6 940.6 652.6 941.2 653.7 941.8 654.8 942.2 655.9 942.6 657.1 942.9 658.3 943.2 659.4 943.4 660.6 943.7 661.8 944.0 662.9 944.3 664.1 944.6 665.2 945.0 666.3 945.5 667.4 946.1 668.4 946.7 669.4 947.5 670.3 948.2 671.1 949.1 671.9 950.0 672.6 951.0 673.2 952.0 673.8 953.0 674.4 954.1 675.0 955.2 675.5 956.2 676.1 957.3 676.6 958.4 677.1 959.5 677.6 960.6 678.2 961.6 678.8 962.7 679.4 963.7 680.0 964.7 680.8 965.7 681.6 966.5 682.6 967.2L683.7 966.7 684.6 966.0 685.4 965.0 686.1 964.0 686.6 962.9 687.1 961.8 687.5 960.7 687.9 959.6 688.2 958.4 688.6 957.3 689.0 956.1 689.4 955.0 689.8 953.9 690.2 952.7 690.7 951.6 691.2 950.6 691.8 949.5 692.4 948.5 693.1 947.4 693.7 946.4 694.5 945.5 695.2 944.6 696.0 943.7 696.9 942.8 697.8 942.1 698.8 941.4 699.9 940.8 701.0 940.4 702.2 940.2 703.4 940.4 704.5 940.9 705.5 941.6 706.3 942.4 707.1 943.3 707.8 944.3 708.5 945.3 709.1 946.3 709.7 947.4 710.3 948.4 710.8 949.5 711.4 950.6 711.9 951.6 712.4 952.7 712.9 953.8 713.5 954.9 714.0 956.0 714.5 957.1 715.0 958.2 715.6 959.2 716.1 960.3 716.7 961.3 717.3 962.4 718.0 963.4 718.7 964.4 719.4 965.3 720.2 966.3 721.0 967.1 721.9 967.9 722.9 968.6 724.0 969.2 725.1 969.5 726.3 969.6 727.5 969.5 728.7 969.2 729.8 968.8 731.0 968.4 732.1 968.1 733.3 967.9 734.5 967.9 735.6 968.3 736.7 968.9 737.6 969.7 738.4 970.6 739.0 971.6 739.6 972.7 740.2 973.7 740.6 974.9 741.0 976.0"/>
<path class="c" stroke="#ACAC0A" d="M113.8 578.4L115.0 578.7 116.1 579.1 117.2 579.6 118.3 580.1 119.4 580.7 120.4 581.3 121.4 582.0 122.4 582.7 123.3 583.5 124.2 584.3 125.1 585.1 125.9 586.0 126.8 586.9 127.5 587.8 128.3 588.8 129.0 589.7 129.7 590.7 130.4 591.7 131.1 592.7 131.7 593.7 132.3 594.8 132.9 595.8 133.5 596.9 134.1 597.9 134.7 599.0 135.2 600.1 135.8 601.2 136.3 602.3 136.8 603.4 137.3 604.5 137.8 605.6 138.3 606.7 138.8 607.8 139.2 608.9 139.7 610.0 140.1 611.2 140.6 612.3 141.0 613.4 141.4 614.6 141.8 615.7 142.2 616.8 142.6 618.0 143.0 619.1 143.4 620.3 143.7 621.4 144.1 622.6 144.4 623.8 144.8 624.9 145.1 626.1 145.4 627.3 145.8 628.4 146.1 629.6 146.4 630.8 146.7 631.9 147.0 633.1 147.3 634.3 147.6 635.4 147.9 636.6 148.2 637.8 148.5 639.0 148.7 640.2 149.0 641.3 149.3 642.5 149.5 643.7 149.8 644.9 150.0 646.1 150.3 647.3 150.5 648.4 150.7 649.6 151.0 650.8 151.2 652.0 151.4 653.2 151.6 654.4 151.9 655.6 152.1 656.8 152.3 658.0 152.5 659.2 152.7 660.3 152.9 661.5 153.1 662.7 153.3 663.9 153.5 665.1 153.6 666.3 153.8 667.5 154.0 668.7 154.2 669.9 154.4 671.1 154.5 672.3 154.7 673.5 154.9 674.7 155.0 675.9 155.2 677.1 155.4 678.3 155.6 679.5 155.7 680.7 155.9 681.9 156.1 683.1 156.2 684.3 156.4 685.5 156.6 686.7 156.8 687.9 157.0 689.1 157.2 690.3 157.4 691.5 157.6 692.7 157.9 693.8 158.1 695.0 158.4 696.2 158.6 697.4 158.9 698.6 159.3 699.7 159.7 700.9 160.1 702.0L161.1 701.4 162.0 700.5 162.7 699.6 163.3 698.5 163.9 697.5 164.4 696.4 165.0 695.3 165.5 694.2 166.0 693.1 166.5 692.0 167.0 691.0 167.5 689.9 168.1 688.8 168.6 687.7 169.2 686.7 169.9 685.7 170.7 684.7 171.6 684.0 172.7 683.5 173.8 683.4 175.0 683.8 176.0 684.5 176.9 685.2 177.7 686.1 178.5 687.0 179.2 688.0 179.9 689.0 180.6 690.0 181.2 691.1 181.8 692.1 182.4 693.2 182.9 694.2 183.5 695.3 184.0 696.4 184.5 697.5 185.1 698.5 185.6 699.6 186.1 700.7 186.6 701.8 187.1 702.9 187.6 704.0 188.1 705.1 188.6 706.2 189.1 707.3 189.7 708.4 190.2 709.4 190.7 710.5 191.3 711.6 191.8 712.7 192.4 713.7 193.0 714.8 193.6 715.8 194.3 716.8 195.0 717.8 195.7 718.8 196.4 719.8 197.2 720.7 198.0 721.6 198.8 722.4 199.8 723.2 200.7 723.9 201.8 724.5 202.8 725.1 203.9 725.6 205.0 726.1 206.1 726.6 207.2 727.0 208.4 727.5 209.5 727.9 210.5 728.5 211.6 729.1 212.6 729.7 213.6 730.4 214.5 731.2 215.4 732.0 216.2 732.9 217.0 733.8 217.8 734.7 218.6 735.6 219.4 736.6 220.1 737.5 220.8 738.5 221.5 739.4 222.2 740.4 223.0 741.4 223.7 742.4 224.4 743.3 225.1 744.3 225.8 745.3 226.5 746.2 227.3 747.2 228.1 748.1 228.9 749.0 229.7 749.9 230.5 750.8 231.3 751.6 232.2 752.5 233.1 753.3 234.0 754.1 234.9 754.9 235.8 755.7 236.7 756.5 237.6 757.3 238.5 758.1 239.4 758.9 240.3 759.7 241.2 760.5 242.1 761.3 243.0 762.1 243.8 763.0 244.7 763.8 245.6 764.6 246.4 765.5 247.3 766.3 248.1 767.2 249.0 768.1 249.8 768.9 250.6 769.8 251.4 770.7 252.3 771.6 253.1 772.5 253.9 773.3 254.7 774.2 255.6 775.1 256.4 776.0 257.2 776.9 258.0 777.7 258.9 778.6 259.7 779.4 260.6 780.3 261.5 781.1 262.4 781.9 263.3 782.7 264.2 783.5 265.1 784.3 266.0 785.1 266.9 785.9 267.7 786.7 268.6 787.6 269.5 788.4 270.3 789.3 271.2 790.1 272.0 791.0 272.9 791.8 273.7 792.7 274.6 793.5 275.5 794.4 276.3 795.2 277.2 796.1 278.0 796.9 278.9 797.7 279.8 798.6 280.7 799.4 281.5 800.2 282.4 801.0 283.3 801.8 284.2 802.6 285.1 803.4 286.0 804.2 286.9 805.0 287.9 805.8 288.8 806.6 289.7 807.4 290.6 808.1 291.6 808.9 292.5 809.7 293.4 810.4 294.3 811.2 295.3 812.0 296.2 812.7 297.1 813.5 298.1 814.3 299.0 815.0 299.9 815.8 300.8 816.6 301.7 817.4 302.7 818.2 303.6 819.0 304.5 819.8 305.4 820.6 306.3 821.4 307.1 822.2 308.0 823.0 308.9 823.9 309.7 824.7 310.6 825.6 311.4 826.5 312.2 827.3 313.1 828.2 313.9 829.1 314.7 830.0 315.5 830.9 316.3 831.8 317.0 832.7 317.8 833.6 318.6 834.6 319.4 835.5 320.1 836.4 320.9 837.4 321.7 838.3 322.4 839.2 323.2 840.2 323.9 841.1 324.7 842.0 325.4 843.0 326.2 843.9 326.9 844.9 327.7 845.8 328.4 846.8 329.2 847.7 329.9 848.7 330.7 849.6 331.4 850.5 332.2 851.5 333.0 852.4 333.7 853.3 334.5 854.3 335.3 855.2 336.1 856.1 336.8 857.0 337.6 857.9 338.4 858.8 339.3 859.7 340.1 860.6 340.9 861.5 341.8 862.3 342.6 863.1 343.5 864.0 344.4 864.8 345.3 865.5 346.3 866.3 347.3 867.0 348.2 867.7 349.2 868.4 350.2 869.1 351.1 869.9 352.1 870.6 353.1 871.3 354.0 872.1 354.9 872.8 355.9 873.6 356.8 874.4 357.7 875.2 358.6 876.0 359.5 876.8 360.4 877.6 361.3 878.4 362.1 879.2 363.0 880.1 363.9 880.9 364.8 881.7 365.6 882.6 366.5 883.4 367.3 884.3 368.2 885.1 369.0 886.0 369.8 886.9 370.6 887.8 371.3 888.8 372.0 889.8 372.7 890.8 373.3 891.8 373.9 892.8 374.5 893.9 375.1 894.9 375.6 896.0 376.2 897.1 376.7 898.2 377.2 899.3 377.7 900.4 378.2 901.5 378.7 902.5 379.2 903.6 379.7 904.7 380.3 905.8 380.8 906.9 381.3 908.0 381.8 909.1 382.3 910.2 382.8 911.3 383.4 912.3 383.9 913.4 384.5 914.5 385.1 915.6 385.6 916.6 386.2 917.7 386.8 918.7 387.5 919.7 388.1 920.7 388.8 921.7 389.5 922.7 390.3 923.6 391.1 924.5 391.9 925.4 392.9 926.1 393.9 926.7 395.1 927.1 396.3 927.2 397.4 927.0 398.5 926.5 399.6 925.9 400.5 925.1 401.4 924.3 402.3 923.5 403.1 922.6 403.9 921.7 404.7 920.8 405.5 919.9 406.3 919.0 407.2 918.2 408.0 917.3 408.9 916.5 409.8 915.7 410.8 915.0 411.8 914.4 412.9 913.8 414.0 913.5 415.2 913.4 416.4 913.4 417.6 913.6 418.8 914.0 419.9 914.5 420.9 915.1 421.9 915.8 422.8 916.6 423.6 917.4 424.4 918.3 425.2 919.3 425.9 920.3 426.5 921.3 427.2 922.3 427.8 923.4 428.3 924.4 428.8 925.5 429.3 926.6 429.8 927.7 430.3 928.8 430.7 929.9 431.1 931.1 431.5 932.2 431.9 933.3 432.3 934.5 432.7 935.6 433.0 936.8 433.3 938.0 433.6 939.1 433.9 940.3 434.2 941.5 434.5 942.6 434.8 943.8 435.1 945.0 435.3 946.2 435.6 947.3 435.8 948.5 436.0 949.7 436.2 950.9 436.5 952.1 436.7 953.3 436.9 954.5 437.1 955.6 437.2 956.8 437.4 958.0 437.6 959.2 437.7 960.4 437.9 961.6 438.1 962.8 438.2 964.0 438.3 965.2 438.5 966.4 438.6 967.6 438.7 968.8 438.8 970.0 438.9 971.2 439.0 972.4 439.1 973.6 439.2 974.8 439.3 976.0M446.7 976.0L446.9 974.8 447.1 973.6 447.2 972.4 447.4 971.2 447.6 970.0 447.7 968.8 447.9 967.6 448.0 966.4 448.2 965.2 448.3 964.0 448.5 962.8 448.7 961.6 448.8 960.4 449.0 959.2 449.2 958.0 449.4 956.8 449.6 955.6 449.7 954.4 449.9 953.2 450.1 952.0 450.4 950.8 450.6 949.6 450.8 948.5 451.0 947.3 451.3 946.1 451.5 944.9 451.8 943.7 452.1 942.5 452.4 941.4 452.8 940.2 453.1 939.0 453.5 937.9 453.9 936.8 454.3 935.6 454.8 934.5 455.3 933.4 455.8 932.3 456.3 931.2 456.9 930.1 457.5 929.1 458.2 928.1 458.8 927.1 459.6 926.1 460.3 925.2 461.2 924.3 462.0 923.4 463.0 922.7 464.0 922.0 465.0 921.4 466.2 921.1 467.4 920.9 468.6 921.1 469.7 921.5 470.7 922.1 471.7 922.9 472.5 923.8 473.2 924.8 473.9 925.8 474.5 926.8 475.1 927.9 475.7 928.9 476.2 930.0 476.7 931.2 477.1 932.3 477.5 933.4 478.0 934.5 478.3 935.7 478.7 936.8 479.1 938.0 479.4 939.2 479.8 940.3 480.1 941.5 480.4 942.7 480.7 943.8 481.0 945.0 481.3 946.2 481.5 947.4 481.8 948.5 482.1 949.7 482.3 950.9 482.6 952.1 482.8 953.3 483.0 954.5 483.2 955.7 483.5 956.9 483.7 958.1 483.9 959.2 484.1 960.4 484.3 961.6 484.5 962.8 484.7 964.0 484.9 965.2 485.1 966.4 485.3 967.6 485.4 968.8 485.6 970.0 485.8 971.2 486.0 972.4 486.1 973.6 486.3 974.8 486.5 976.0M494.8 976.0L495.0 974.8 495.2 973.6 495.4 972.4 495.6 971.2 495.8 970.0 496.0 968.8 496.2 967.6 496.4 966.4 496.6 965.2 496.8 964.1 497.0 962.9 497.2 961.7 497.5 960.5 497.7 959.3 497.9 958.1 498.2 956.9 498.4 955.7 498.7 954.6 499.0 953.4 499.2 952.2 499.5 951.0 499.8 949.8 500.1 948.7 500.5 947.5 500.8 946.3 501.2 945.2 501.5 944.0 501.9 942.9 502.3 941.7 502.8 940.6 503.3 939.5 503.7 938.4 504.3 937.3 504.8 936.2 505.4 935.2 506.1 934.2 506.8 933.2 507.6 932.3 508.5 931.4 509.5 930.8 510.6 930.3 511.8 930.4 512.9 930.8 513.9 931.5 514.8 932.3 515.6 933.3 516.3 934.2 516.9 935.3 517.5 936.3 518.1 937.4 518.6 938.5 519.1 939.6 519.6 940.7 520.0 941.8 520.5 943.0 520.9 944.1 521.2 945.3 521.6 946.4 522.0 947.6 522.3 948.7 522.6 949.9 522.9 951.1 523.2 952.3 523.5 953.4 523.8 954.6 524.0 955.8 524.3 957.0 524.6 958.2 524.8 959.3 525.1 960.5 525.3 961.7 525.6 962.9 525.8 964.1 526.1 965.3 526.3 966.5 526.5 967.6 526.8 968.8 527.0 970.0 527.2 971.2 527.4 972.4 527.6 973.6 527.8 974.8 528.0 976.0M538.0 976.0L538.0 974.8 538.2 973.6 538.4 972.4 538.7 971.2 538.9 970.1 539.3 968.9 539.6 967.7 539.9 966.6 540.3 965.4 540.7 964.3 541.1 963.2 541.6 962.1 542.1 960.9 542.6 959.8 543.1 958.8 543.6 957.7 544.2 956.6 544.9 955.6 545.6 954.6 546.3 953.7 547.2 952.9 548.2 952.2 549.3 951.7 550.5 951.7 551.6 952.2 552.5 952.9 553.4 953.8 554.1 954.7 554.8 955.7 555.4 956.8 556.0 957.8 556.5 958.9 557.1 960.0 557.5 961.1 558.0 962.2 558.4 963.3 558.8 964.5 559.2 965.6 559.6 966.7 560.0 967.9 560.3 969.0 560.7 970.2 561.0 971.4 561.3 972.5 561.6 973.7 562.0 974.8 562.3 976.0M576.0 976.0L576.1 974.7 576.3 973.5 576.7 972.3 577.2 971.2 577.9 970.1 578.8 969.2 579.8 968.4 580.9 967.8 582.1 967.4 583.3 967.1 584.6 967.1 585.8 967.3 587.0 967.7 588.1 968.3 589.1 969.0 589.9 970.0 590.6 971.1 591.0 972.3 591.3 973.5 591.5 974.7 591.5 976.0M639.0 976.0L639.1 974.8 639.4 973.6 639.8 972.4 640.2 971.2 640.7 970.1 641.3 969.0 642.0 968.0 642.7 967.0 643.5 966.0 644.3 965.1 645.2 964.3 646.2 963.6 647.3 963.0 648.5 962.6 649.7 962.4 650.9 962.5 652.1 962.8 653.3 963.2 654.3 963.8 655.3 964.6 656.3 965.4 657.1 966.2 658.0 967.2 658.7 968.1 659.4 969.1 660.1 970.2 660.6 971.3 661.1 972.4 661.5 973.6 661.8 974.8 662.0 976.0M695.5 976.0L695.7 974.8 696.1 973.7 696.6 972.6 697.2 971.5 697.9 970.5 698.6 969.5 699.3 968.5 700.1 967.6 701.0 966.8 701.9 965.9 702.8 965.2 703.8 964.5 704.8 963.8 705.9 963.3 707.0 962.9 708.2 962.6 709.4 962.4 710.6 962.5 711.8 962.8 712.9 963.3 713.9 963.9 714.9 964.6 715.8 965.5 716.6 966.4 717.4 967.3 718.1 968.3 718.7 969.3 719.3 970.4 719.9 971.4 720.4 972.6 720.8 973.7 721.2 974.8 721.5 976.0"/>
<path class="c" stroke="#A36F3C" d="M113.8 578.4L115.0 578.5 116.2 578.6 117.4 578.8 118.6 579.0 119.8 579.2 120.9 579.5 122.1 579.8 123.2 580.2 124.4 580.6 125.5 581.0 126.6 581.5 127.7 582.0 128.8 582.5 129.9 583.1 130.9 583.7 132.0 584.3 133.0 584.9 134.0 585.6 135.0 586.3 135.9 587.0 136.9 587.7 137.8 588.5 138.8 589.3 139.7 590.0 140.6 590.9 141.4 591.7 142.3 592.5 143.1 593.4 144.0 594.3 144.8 595.2 145.6 596.1 146.4 597.0 147.1 597.9 147.9 598.9 148.6 599.8 149.4 600.8 150.1 601.7 150.8 602.7 151.5 603.7 152.1 604.7 152.8 605.7 153.5 606.7 154.1 607.7 154.7 608.8 155.3 609.8 155.9 610.8 156.5 611.9 157.1 612.9 157.7 614.0 158.3 615.1 158.8 616.1 159.4 617.2 159.9 618.3 160.4 619.4 160.9 620.5 161.4 621.6 161.9 622.7 162.4 623.8 162.9 624.9 163.4 626.0 163.8 627.1 164.3 628.2 164.7 629.3 165.1 630.5 165.6 631.6 166.0 632.7 166.4 633.9 166.8 635.0 167.2 636.1 167.5 637.3 167.9 638.4 168.3 639.6 168.6 640.7 169.0 641.9 169.3 643.0 169.7 644.2 170.0 645.4 170.4 646.5 170.7 647.7 171.0 648.8 171.3 650.0 171.6 651.2 171.9 652.3 172.3 653.5 172.6 654.7 172.9 655.8 173.2 657.0 173.5 658.2 173.8 659.3 174.1 660.5 174.4 661.7 174.6 662.8 174.9 664.0 175.2 665.2 175.4 666.4 175.7 667.5 175.9 668.7 176.1 669.9 176.4 671.1 176.6 672.3 176.8 673.5 177.1 674.6 177.3 675.8 177.5 677.0 177.7 678.2 177.9 679.4 178.2 680.6 178.4 681.8 178.6 682.9 178.8 684.1 179.0 685.3 179.2 686.5 179.4 687.7 179.6 688.9 179.8 690.1 180.0 691.2 180.3 692.4 180.5 693.6 180.7 694.8 180.9 696.0 181.1 697.2 181.3 698.4 181.5 699.5 181.8 700.7 182.0 701.9 182.2 703.1 182.5 704.3 182.7 705.5 183.0 706.6 183.3 707.8L183.6 706.6 183.9 705.5 184.1 704.3 184.4 703.1 184.6 701.9 184.9 700.8 185.1 699.6 185.3 698.4 185.6 697.2 185.8 696.1 186.0 694.9 186.3 693.7 186.5 692.5 186.7 691.3 187.0 690.2 187.2 689.0 187.5 687.8 187.7 686.6 188.0 685.5 188.2 684.3 188.5 683.1 188.8 682.0 189.1 680.8 189.4 679.6 189.7 678.5 190.0 677.3 190.3 676.1 190.7 675.0 191.0 673.8 191.3 672.7 191.7 671.5 192.1 670.4 192.5 669.3 192.9 668.1 193.3 667.0 193.7 665.9 194.1 664.8 194.6 663.7 195.1 662.6 195.6 661.5 196.1 660.4 196.7 659.3 197.3 658.3 197.9 657.3 198.5 656.2 199.2 655.3 200.0 654.3 200.7 653.4 201.5 652.5 202.4 651.7 203.3 650.9 204.3 650.2 205.3 649.5 206.3 648.9 207.4 648.5 208.6 648.1 209.8 647.8 210.9 647.7 212.1 647.6 213.3 647.7 214.5 647.9 215.7 648.1 216.8 648.5 217.9 649.0 219.0 649.6 220.0 650.2 221.0 650.9 221.9 651.7 222.8 652.5 223.6 653.4 224.4 654.3 225.2 655.2 225.9 656.2 226.6 657.1 227.3 658.1 227.9 659.1 228.6 660.2 229.2 661.2 229.8 662.2 230.3 663.3 230.9 664.4 231.4 665.4 232.0 666.5 232.5 667.6 233.0 668.7 233.5 669.8 234.0 670.9 234.4 672.0 234.9 673.1 235.3 674.2 235.8 675.3 236.2 676.5 236.6 677.6 237.0 678.7 237.4 679.8 237.8 681.0 238.2 682.1 238.6 683.2 239.0 684.4 239.4 685.5 239.8 686.6 240.2 687.8 240.6 688.9 241.0 690.1 241.4 691.2 241.7 692.3 242.1 693.5 242.5 694.6 242.9 695.7 243.3 696.9 243.7 698.0 244.1 699.1 244.5 700.3 244.9 701.4 245.3 702.5 245.8 703.7 246.2 704.8 246.6 705.9 247.1 707.0 247.6 708.1 248.1 709.2 248.6 710.3 249.1 711.3 249.7 712.4 250.3 713.4 251.0 714.4 251.7 715.4 252.5 716.3L253.1 715.2 253.6 714.2 254.1 713.1 254.6 712.0 255.1 710.9 255.6 709.7 256.1 708.6 256.5 707.5 257.0 706.4 257.5 705.3 258.0 704.2 258.5 703.1 259.0 702.0 259.5 700.9 260.1 699.8 260.6 698.8 261.2 697.7 261.7 696.6 262.3 695.6 262.9 694.5 263.5 693.5 264.1 692.4 264.8 691.4 265.4 690.4 266.1 689.4 266.8 688.4 267.6 687.5 268.3 686.5 269.1 685.6 269.9 684.7 270.8 683.9 271.7 683.1 272.6 682.3 273.5 681.5 274.5 680.8 275.5 680.2 276.6 679.6 277.7 679.2 278.9 678.8 280.1 678.6 281.3 678.5 282.5 678.5 283.6 678.7 284.8 679.0 285.9 679.5 287.0 680.0 288.0 680.7 289.0 681.4 290.0 682.1 290.9 682.9 291.7 683.8 292.6 684.6 293.4 685.6 294.1 686.5 294.9 687.4 295.6 688.4 296.3 689.4 297.0 690.4 297.7 691.4 298.3 692.4 298.9 693.4 299.5 694.5 300.1 695.5 300.7 696.6 301.3 697.6 301.9 698.7 302.4 699.8 303.0 700.8 303.5 701.9 304.0 703.0 304.6 704.1 305.1 705.2 305.6 706.3 306.1 707.4 306.6 708.5 307.1 709.6 307.6 710.7 308.1 711.8 308.5 712.9 309.0 714.0 309.5 715.1 310.0 716.2 310.5 717.3 311.0 718.4 311.5 719.5 311.9 720.6 312.4 721.7 312.9 722.8 313.4 723.9 313.9 725.0 314.5 726.1 315.0 727.2 315.5 728.3 316.1 729.4 316.7 730.4 317.3 731.5 317.9 732.5L318.8 731.7 319.7 730.9 320.4 729.9 321.1 728.9 321.7 727.9 322.3 726.8 322.9 725.8 323.4 724.7 324.0 723.6 324.5 722.6 325.1 721.5 325.6 720.4 326.2 719.4 326.7 718.3 327.3 717.2 327.9 716.2 328.6 715.2 329.2 714.2 329.9 713.2 330.6 712.2 331.3 711.2 332.1 710.3 332.8 709.3 333.6 708.4 334.5 707.6 335.3 706.7 336.2 705.9 337.1 705.1 338.0 704.4 339.0 703.7 340.0 703.0 341.1 702.4 342.2 701.9 343.3 701.4 344.4 701.0 345.6 700.7 346.8 700.5 348.0 700.4 349.2 700.3 350.4 700.4 351.6 700.6 352.7 700.8 353.9 701.1 355.0 701.6 356.1 702.0 357.2 702.6 358.2 703.2 359.2 703.9 360.2 704.6 361.1 705.4 362.0 706.1 362.9 707.0 363.8 707.8 364.7 708.6 365.5 709.5 366.3 710.4 367.1 711.3 368.0 712.1 368.8 713.0 369.6 713.9 370.3 714.9 371.1 715.8 371.9 716.7 372.7 717.6 373.5 718.5 374.3 719.4 375.1 720.3 375.9 721.2 376.8 722.0 377.6 722.9 378.5 723.7 379.4 724.5 380.3 725.3 381.3 726.0 382.3 726.7 383.4 727.2 384.5 727.7 385.6 728.0 386.8 728.1 388.0 728.1 389.2 727.9 390.4 727.6 391.5 727.1 392.6 726.6 393.6 726.0 394.6 725.3 395.6 724.6 396.6 723.9 397.5 723.2 398.5 722.5 399.5 721.8 400.4 721.1 401.4 720.4 402.5 719.7 403.5 719.1 404.6 718.6 405.7 718.1 406.8 717.8 408.0 717.5 409.2 717.4 410.4 717.4 411.6 717.5 412.8 717.8 413.9 718.2 415.0 718.6 416.1 719.2 417.2 719.8 418.2 720.4 419.2 721.1 420.2 721.8 421.1 722.5 422.0 723.3 422.9 724.1 423.8 724.9 424.7 725.8 425.5 726.6 426.3 727.5 427.1 728.4 427.9 729.3 428.7 730.2 429.5 731.1 430.3 732.1 431.0 733.0 431.7 734.0 432.5 734.9 433.2 735.9 433.9 736.8 434.7 737.8 435.4 738.8 436.1 739.7 436.9 740.7 437.6 741.6 438.4 742.6 439.1 743.5 439.9 744.4 440.7 745.3 441.5 746.2 442.4 747.0 443.3 747.8 444.3 748.5 445.3 749.2 446.4 749.6 447.6 749.9 448.8 750.0 450.0 749.8 451.1 749.5 452.2 748.9 453.2 748.3 454.2 747.6 455.1 746.8 456.0 746.0 456.9 745.1 457.7 744.3 458.6 743.5 459.4 742.6 460.3 741.8 461.2 741.0 462.2 740.3 463.1 739.5 464.1 738.9 465.1 738.2 466.2 737.6 467.3 737.1 468.3 736.6 469.5 736.1 470.6 735.7 471.7 735.3 472.9 735.0 474.1 734.8 475.3 734.6 476.5 734.5 477.7 734.4 478.9 734.4 480.1 734.5 481.3 734.7 482.5 734.9 483.6 735.1 484.8 735.5 485.9 735.9 487.0 736.4 488.1 736.9 489.2 737.5 490.2 738.1 491.2 738.8 492.2 739.4 493.2 740.2 494.1 740.9 495.1 741.6 496.0 742.4 496.9 743.2 497.9 744.0 498.8 744.7 499.7 745.5 500.6 746.3 501.6 747.0 502.5 747.8 503.5 748.5 504.4 749.2 505.4 749.9 506.5 750.5 507.5 751.1 508.6 751.6 509.7 752.0 510.9 752.3 512.1 752.5 513.3 752.6 514.5 752.6 515.7 752.5 516.9 752.3 518.0 752.0 519.2 751.7 520.3 751.3 521.5 750.8 522.6 750.4 523.7 749.9 524.8 749.4 525.9 748.9 527.0 748.4 528.1 747.9 529.1 747.3 530.2 746.8 531.3 746.3 532.4 745.9 533.5 745.4 534.7 745.0 535.8 744.6 537.0 744.2 538.1 743.9 539.3 743.6 540.5 743.4 541.7 743.2 542.9 743.2 544.1 743.2 545.3 743.2 546.5 743.4 547.6 743.6 548.8 744.0 550.0 744.3 551.1 744.7 552.2 745.2 553.3 745.7 554.4 746.2 555.5 746.7 556.5 747.3 557.6 747.9 558.6 748.5 559.6 749.1 560.7 749.8 561.7 750.4 562.7 751.1 563.7 751.7 564.7 752.4 565.7 753.0 566.8 753.7 567.8 754.3 568.8 754.9 569.8 755.6 570.9 756.2 571.9 756.8 573.0 757.3 574.1 757.9 575.1 758.4 576.2 758.9 577.4 759.3 578.5 759.7 579.6 760.1 580.8 760.4 582.0 760.7 583.2 760.9 584.4 761.1 585.5 761.3 586.7 761.4 587.9 761.5 589.1 761.6 590.3 761.6 591.6 761.6 592.8 761.7 594.0 761.6 595.2 761.6 596.4 761.6 597.6 761.6 598.8 761.5 600.0 761.5 601.2 761.5 602.4 761.5 603.6 761.5 604.8 761.5 606.0 761.5 607.2 761.5 608.4 761.6 609.6 761.7 610.8 761.8 612.0 761.9 613.2 762.0 614.4 762.2 615.6 762.3 616.8 762.5 618.0 762.7 619.2 762.9 620.4 763.0 621.5 763.2 622.7 763.4 623.9 763.6 625.1 763.8 626.3 764.0 627.5 764.2 628.7 764.3 629.9 764.5 631.1 764.6 632.3 764.8 633.5 764.9 634.7 765.0 635.9 765.1 637.1 765.1 638.3 765.2 639.5 765.2 640.7 765.1 641.9 765.1 643.1 765.0 644.3 764.9 645.5 764.8 646.7 764.7 647.9 764.5 649.1 764.3 650.3 764.1 651.5 763.9 652.6 763.7 653.8 763.5 655.0 763.2 656.2 763.0 657.4 762.8 658.5 762.5 659.7 762.3 660.9 762.1 662.1 761.9 663.3 761.8 664.5 761.6 665.7 761.5 666.9 761.4 668.1 761.3 669.3 761.3 670.5 761.3 671.7 761.4 672.9 761.4 674.1 761.6 675.3 761.7 676.5 761.9 677.7 762.2 678.8 762.4 680.0 762.7 681.2 763.0 682.3 763.4 683.5 763.8 684.6 764.2 685.7 764.6 686.9 765.0 688.0 765.4 689.1 765.9 690.2 766.3 691.3 766.8 692.4 767.3 693.5 767.8 694.6 768.3 695.7 768.8 696.8 769.3 697.9 769.8 699.0 770.3 700.1 770.7 701.2 771.2 702.3 771.7 703.4 772.2 704.5 772.7 705.7 773.1 706.8 773.6 707.9 774.0 709.0 774.5 710.1 774.9 711.3 775.3 712.4 775.8 713.5 776.2 714.7 776.6 715.8 777.0 716.9 777.3 718.1 777.7 719.2 778.1 720.4 778.4 721.5 778.8 722.7 779.1 723.8 779.5 725.0 779.8 726.2 780.1 727.3 780.4 728.5 780.7 729.7 781.0 730.8 781.2 732.0 781.5 733.2 781.8 734.4 782.0 735.6 782.3 736.7 782.5 737.9 782.7 739.1 782.9 740.3 783.1 741.5 783.3 742.7 783.4 743.9 783.6 745.1 783.8 746.3 783.9 747.5 784.0 748.7 784.1 749.9 784.2 751.1 784.3 752.3 784.4 753.5 784.5 754.7 784.5 755.9 784.6 757.1 784.6 758.3 784.6 759.5 784.6 760.7 784.6 761.9 784.6 763.1 784.5 764.3 784.5 765.5 784.4 766.7 784.3 767.9 784.2 769.1 784.1 770.3 783.9 771.5 783.8"/>
</g>
<g>
<line x1="114.40" y1="971.50" x2="114.40" y2="967.80" stroke="#000" stroke-width="1.25"/>
<line x1="114.40" y1="548.80" x2="114.40" y2="552.50" stroke="#000" stroke-width="1.25"/>
<line x1="147.23" y1="971.50" x2="147.23" y2="969.30" stroke="#000" stroke-width="1.25"/>
<line x1="147.23" y1="548.80" x2="147.23" y2="551.00" stroke="#000" stroke-width="1.25"/>
<line x1="180.05" y1="971.50" x2="180.05" y2="969.30" stroke="#000" stroke-width="1.25"/>
<line x1="180.05" y1="548.80" x2="180.05" y2="551.00" stroke="#000" stroke-width="1.25"/>
<line x1="212.88" y1="971.50" x2="212.88" y2="969.30" stroke="#000" stroke-width="1.25"/>
<line x1="212.88" y1="548.80" x2="212.88" y2="551.00" stroke="#000" stroke-width="1.25"/>
<line x1="245.70" y1="971.50" x2="245.70" y2="969.30" stroke="#000" stroke-width="1.25"/>
<line x1="245.70" y1="548.80" x2="245.70" y2="551.00" stroke="#000" stroke-width="1.25"/>
<line x1="278.52" y1="971.50" x2="278.52" y2="967.80" stroke="#000" stroke-width="1.25"/>
<line x1="278.52" y1="548.80" x2="278.52" y2="552.50" stroke="#000" stroke-width="1.25"/>
<line x1="311.35" y1="971.50" x2="311.35" y2="969.30" stroke="#000" stroke-width="1.25"/>
<line x1="311.35" y1="548.80" x2="311.35" y2="551.00" stroke="#000" stroke-width="1.25"/>
<line x1="344.18" y1="971.50" x2="344.18" y2="969.30" stroke="#000" stroke-width="1.25"/>
<line x1="344.18" y1="548.80" x2="344.18" y2="551.00" stroke="#000" stroke-width="1.25"/>
<line x1="377.00" y1="971.50" x2="377.00" y2="969.30" stroke="#000" stroke-width="1.25"/>
<line x1="377.00" y1="548.80" x2="377.00" y2="551.00" stroke="#000" stroke-width="1.25"/>
<line x1="409.83" y1="971.50" x2="409.83" y2="969.30" stroke="#000" stroke-width="1.25"/>
<line x1="409.83" y1="548.80" x2="409.83" y2="551.00" stroke="#000" stroke-width="1.25"/>
<line x1="442.65" y1="971.50" x2="442.65" y2="967.80" stroke="#000" stroke-width="1.25"/>
<line x1="442.65" y1="548.80" x2="442.65" y2="552.50" stroke="#000" stroke-width="1.25"/>
<line x1="475.48" y1="971.50" x2="475.48" y2="969.30" stroke="#000" stroke-width="1.25"/>
<line x1="475.48" y1="548.80" x2="475.48" y2="551.00" stroke="#000" stroke-width="1.25"/>
<line x1="508.30" y1="971.50" x2="508.30" y2="969.30" stroke="#000" stroke-width="1.25"/>
<line x1="508.30" y1="548.80" x2="508.30" y2="551.00" stroke="#000" stroke-width="1.25"/>
<line x1="541.12" y1="971.50" x2="541.12" y2="969.30" stroke="#000" stroke-width="1.25"/>
<line x1="541.12" y1="548.80" x2="541.12" y2="551.00" stroke="#000" stroke-width="1.25"/>
<line x1="573.95" y1="971.50" x2="573.95" y2="969.30" stroke="#000" stroke-width="1.25"/>
<line x1="573.95" y1="548.80" x2="573.95" y2="551.00" stroke="#000" stroke-width="1.25"/>
<line x1="606.78" y1="971.50" x2="606.78" y2="967.80" stroke="#000" stroke-width="1.25"/>
<line x1="606.78" y1="548.80" x2="606.78" y2="552.50" stroke="#000" stroke-width="1.25"/>
<line x1="639.60" y1="971.50" x2="639.60" y2="969.30" stroke="#000" stroke-width="1.25"/>
<line x1="639.60" y1="548.80" x2="639.60" y2="551.00" stroke="#000" stroke-width="1.25"/>
<line x1="672.43" y1="971.50" x2="672.43" y2="969.30" stroke="#000" stroke-width="1.25"/>
<line x1="672.43" y1="548.80" x2="672.43" y2="551.00" stroke="#000" stroke-width="1.25"/>
<line x1="705.25" y1="971.50" x2="705.25" y2="969.30" stroke="#000" stroke-width="1.25"/>
<line x1="705.25" y1="548.80" x2="705.25" y2="551.00" stroke="#000" stroke-width="1.25"/>
<line x1="738.08" y1="971.50" x2="738.08" y2="969.30" stroke="#000" stroke-width="1.25"/>
<line x1="738.08" y1="548.80" x2="738.08" y2="551.00" stroke="#000" stroke-width="1.25"/>
<line x1="770.90" y1="971.50" x2="770.90" y2="967.80" stroke="#000" stroke-width="1.25"/>
<line x1="770.90" y1="548.80" x2="770.90" y2="552.50" stroke="#000" stroke-width="1.25"/>
<line x1="100.40" y1="578.50" x2="106.70" y2="578.50" stroke="#8a8a8a" stroke-width="0.65"/>
<line x1="784.30" y1="578.50" x2="778.00" y2="578.50" stroke="#8a8a8a" stroke-width="0.65"/>
<line x1="100.40" y1="676.85" x2="106.70" y2="676.85" stroke="#8a8a8a" stroke-width="0.65"/>
<line x1="784.30" y1="676.85" x2="778.00" y2="676.85" stroke="#8a8a8a" stroke-width="0.65"/>
<line x1="100.40" y1="647.24" x2="103.60" y2="647.24" stroke="#b0b0b0" stroke-width="0.6"/>
<line x1="784.30" y1="647.24" x2="781.10" y2="647.24" stroke="#b0b0b0" stroke-width="0.6"/>
<line x1="100.40" y1="629.93" x2="103.60" y2="629.93" stroke="#b0b0b0" stroke-width="0.6"/>
<line x1="784.30" y1="629.93" x2="781.10" y2="629.93" stroke="#b0b0b0" stroke-width="0.6"/>
<line x1="100.40" y1="617.64" x2="103.60" y2="617.64" stroke="#b0b0b0" stroke-width="0.6"/>
<line x1="784.30" y1="617.64" x2="781.10" y2="617.64" stroke="#b0b0b0" stroke-width="0.6"/>
<line x1="100.40" y1="608.11" x2="103.60" y2="608.11" stroke="#b0b0b0" stroke-width="0.6"/>
<line x1="784.30" y1="608.11" x2="781.10" y2="608.11" stroke="#b0b0b0" stroke-width="0.6"/>
<line x1="100.40" y1="600.32" x2="103.60" y2="600.32" stroke="#b0b0b0" stroke-width="0.6"/>
<line x1="784.30" y1="600.32" x2="781.10" y2="600.32" stroke="#b0b0b0" stroke-width="0.6"/>
<line x1="100.40" y1="593.73" x2="103.60" y2="593.73" stroke="#b0b0b0" stroke-width="0.6"/>
<line x1="784.30" y1="593.73" x2="781.10" y2="593.73" stroke="#b0b0b0" stroke-width="0.6"/>
<line x1="100.40" y1="588.03" x2="103.60" y2="588.03" stroke="#b0b0b0" stroke-width="0.6"/>
<line x1="784.30" y1="588.03" x2="781.10" y2="588.03" stroke="#b0b0b0" stroke-width="0.6"/>
<line x1="100.40" y1="583.00" x2="103.60" y2="583.00" stroke="#b0b0b0" stroke-width="0.6"/>
<line x1="784.30" y1="583.00" x2="781.10" y2="583.00" stroke="#b0b0b0" stroke-width="0.6"/>
<line x1="100.40" y1="775.20" x2="106.70" y2="775.20" stroke="#8a8a8a" stroke-width="0.65"/>
<line x1="784.30" y1="775.20" x2="778.00" y2="775.20" stroke="#8a8a8a" stroke-width="0.65"/>
<line x1="100.40" y1="745.59" x2="103.60" y2="745.59" stroke="#b0b0b0" stroke-width="0.6"/>
<line x1="784.30" y1="745.59" x2="781.10" y2="745.59" stroke="#b0b0b0" stroke-width="0.6"/>
<line x1="100.40" y1="728.28" x2="103.60" y2="728.28" stroke="#b0b0b0" stroke-width="0.6"/>
<line x1="784.30" y1="728.28" x2="781.10" y2="728.28" stroke="#b0b0b0" stroke-width="0.6"/>
<line x1="100.40" y1="715.99" x2="103.60" y2="715.99" stroke="#b0b0b0" stroke-width="0.6"/>
<line x1="784.30" y1="715.99" x2="781.10" y2="715.99" stroke="#b0b0b0" stroke-width="0.6"/>
<line x1="100.40" y1="706.46" x2="103.60" y2="706.46" stroke="#b0b0b0" stroke-width="0.6"/>
<line x1="784.30" y1="706.46" x2="781.10" y2="706.46" stroke="#b0b0b0" stroke-width="0.6"/>
<line x1="100.40" y1="698.67" x2="103.60" y2="698.67" stroke="#b0b0b0" stroke-width="0.6"/>
<line x1="784.30" y1="698.67" x2="781.10" y2="698.67" stroke="#b0b0b0" stroke-width="0.6"/>
<line x1="100.40" y1="692.08" x2="103.60" y2="692.08" stroke="#b0b0b0" stroke-width="0.6"/>
<line x1="784.30" y1="692.08" x2="781.10" y2="692.08" stroke="#b0b0b0" stroke-width="0.6"/>
<line x1="100.40" y1="686.38" x2="103.60" y2="686.38" stroke="#b0b0b0" stroke-width="0.6"/>
<line x1="784.30" y1="686.38" x2="781.10" y2="686.38" stroke="#b0b0b0" stroke-width="0.6"/>
<line x1="100.40" y1="681.35" x2="103.60" y2="681.35" stroke="#b0b0b0" stroke-width="0.6"/>
<line x1="784.30" y1="681.35" x2="781.10" y2="681.35" stroke="#b0b0b0" stroke-width="0.6"/>
<line x1="100.40" y1="873.55" x2="106.70" y2="873.55" stroke="#8a8a8a" stroke-width="0.65"/>
<line x1="784.30" y1="873.55" x2="778.00" y2="873.55" stroke="#8a8a8a" stroke-width="0.65"/>
<line x1="100.40" y1="843.94" x2="103.60" y2="843.94" stroke="#b0b0b0" stroke-width="0.6"/>
<line x1="784.30" y1="843.94" x2="781.10" y2="843.94" stroke="#b0b0b0" stroke-width="0.6"/>
<line x1="100.40" y1="826.63" x2="103.60" y2="826.63" stroke="#b0b0b0" stroke-width="0.6"/>
<line x1="784.30" y1="826.63" x2="781.10" y2="826.63" stroke="#b0b0b0" stroke-width="0.6"/>
<line x1="100.40" y1="814.34" x2="103.60" y2="814.34" stroke="#b0b0b0" stroke-width="0.6"/>
<line x1="784.30" y1="814.34" x2="781.10" y2="814.34" stroke="#b0b0b0" stroke-width="0.6"/>
<line x1="100.40" y1="804.81" x2="103.60" y2="804.81" stroke="#b0b0b0" stroke-width="0.6"/>
<line x1="784.30" y1="804.81" x2="781.10" y2="804.81" stroke="#b0b0b0" stroke-width="0.6"/>
<line x1="100.40" y1="797.02" x2="103.60" y2="797.02" stroke="#b0b0b0" stroke-width="0.6"/>
<line x1="784.30" y1="797.02" x2="781.10" y2="797.02" stroke="#b0b0b0" stroke-width="0.6"/>
<line x1="100.40" y1="790.43" x2="103.60" y2="790.43" stroke="#b0b0b0" stroke-width="0.6"/>
<line x1="784.30" y1="790.43" x2="781.10" y2="790.43" stroke="#b0b0b0" stroke-width="0.6"/>
<line x1="100.40" y1="784.73" x2="103.60" y2="784.73" stroke="#b0b0b0" stroke-width="0.6"/>
<line x1="784.30" y1="784.73" x2="781.10" y2="784.73" stroke="#b0b0b0" stroke-width="0.6"/>
<line x1="100.40" y1="779.70" x2="103.60" y2="779.70" stroke="#b0b0b0" stroke-width="0.6"/>
<line x1="784.30" y1="779.70" x2="781.10" y2="779.70" stroke="#b0b0b0" stroke-width="0.6"/>
<line x1="100.40" y1="942.29" x2="103.60" y2="942.29" stroke="#b0b0b0" stroke-width="0.6"/>
<line x1="784.30" y1="942.29" x2="781.10" y2="942.29" stroke="#b0b0b0" stroke-width="0.6"/>
<line x1="100.40" y1="924.98" x2="103.60" y2="924.98" stroke="#b0b0b0" stroke-width="0.6"/>
<line x1="784.30" y1="924.98" x2="781.10" y2="924.98" stroke="#b0b0b0" stroke-width="0.6"/>
<line x1="100.40" y1="912.69" x2="103.60" y2="912.69" stroke="#b0b0b0" stroke-width="0.6"/>
<line x1="784.30" y1="912.69" x2="781.10" y2="912.69" stroke="#b0b0b0" stroke-width="0.6"/>
<line x1="100.40" y1="903.16" x2="103.60" y2="903.16" stroke="#b0b0b0" stroke-width="0.6"/>
<line x1="784.30" y1="903.16" x2="781.10" y2="903.16" stroke="#b0b0b0" stroke-width="0.6"/>
<line x1="100.40" y1="895.37" x2="103.60" y2="895.37" stroke="#b0b0b0" stroke-width="0.6"/>
<line x1="784.30" y1="895.37" x2="781.10" y2="895.37" stroke="#b0b0b0" stroke-width="0.6"/>
<line x1="100.40" y1="888.78" x2="103.60" y2="888.78" stroke="#b0b0b0" stroke-width="0.6"/>
<line x1="784.30" y1="888.78" x2="781.10" y2="888.78" stroke="#b0b0b0" stroke-width="0.6"/>
<line x1="100.40" y1="883.08" x2="103.60" y2="883.08" stroke="#b0b0b0" stroke-width="0.6"/>
<line x1="784.30" y1="883.08" x2="781.10" y2="883.08" stroke="#b0b0b0" stroke-width="0.6"/>
<line x1="100.40" y1="878.05" x2="103.60" y2="878.05" stroke="#b0b0b0" stroke-width="0.6"/>
<line x1="784.30" y1="878.05" x2="781.10" y2="878.05" stroke="#b0b0b0" stroke-width="0.6"/>
</g>
<rect x="100.40" y="548.80" width="683.90" height="422.70" fill="none" stroke="#000" stroke-width="1.75"/>
<text class="tk" x="97.4" y="584.8" text-anchor="end">1</text>
<text class="tk" x="97.4" y="683.1" text-anchor="end">0.100</text>
<text class="tk" x="97.4" y="781.5" text-anchor="end">0.010</text>
<text class="tk" x="97.4" y="879.8" text-anchor="end">0.001</text>
<text class="tk" x="97.4" y="977.8" text-anchor="end">10<tspan font-size="12.4px" dy="-7.6">−4</tspan></text>
<text class="tk" x="114.4" y="991.9" text-anchor="middle">0</text>
<text class="tk" x="278.5" y="991.9" text-anchor="middle">5</text>
<text class="tk" x="442.6" y="991.9" text-anchor="middle">10</text>
<text class="tk" x="606.8" y="991.9" text-anchor="middle">15</text>
<text class="tk" x="770.9" y="991.9" text-anchor="middle">20</text>
<text x="373.2" y="1021.3" font-size="18.3px">|</text>
<text x="379.3" y="1021.3" font-size="18.3px" font-style="italic">ζ</text>
<text x="389.9" y="1012.9" font-size="12.4px">(5)</text>
<text x="387.8" y="1025.5" font-size="12.2px" font-style="italic">k</text>
<text x="405.3" y="1021.3" font-size="18.3px">|</text>
<text x="415.1" y="1021.3" font-size="18.3px">[</text>
<text x="420.0" y="1021.3" font-size="18.3px">10</text>
<text x="440.6" y="1013.4" font-size="12.4px">18</text>
<text x="454.2" y="1021.3" font-size="18.3px">GeV</text>
<text x="491.8" y="1013.4" font-size="12.4px">−2</text>
<text x="506.2" y="1021.3" font-size="18.3px">]</text>
<text class="lb" transform="translate(41.2 777.6) rotate(-90)"><tspan font-style="italic">P</tspan><tspan font-size="12.3px" dx="-0.9" dy="3.6">max</tspan></text>
</svg></body></html>
